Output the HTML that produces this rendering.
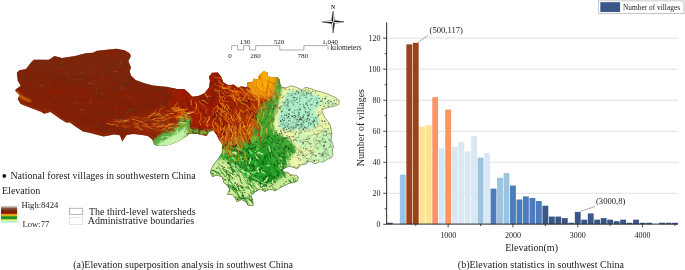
<!DOCTYPE html>
<html><head><meta charset="utf-8"><title>Elevation analysis in southwest China</title>
<style>
html,body{margin:0;padding:0;background:#fff;}
body{width:685px;height:270px;overflow:hidden;font-family:"Liberation Serif",serif;}
svg{display:block;}
text{font-family:"Liberation Serif",serif;fill:#222;}
</style></head><body>
<svg width="685" height="270" viewBox="0 0 685 270">
<defs>
<clipPath id="mapclip"><polygon points="16.8,72.8 19.4,70.2 26.0,69.0 31.0,62.4 33.7,59.8 49.0,59.8 54.4,56.0 62.0,58.0 75.0,56.0 85.5,53.3 93.0,52.8 97.0,50.7 116.6,48.7 124.4,50.2 129.6,53.3 131.0,56.0 128.3,61.0 131.0,67.6 129.6,71.5 131.0,75.6 135.6,80.0 144.4,83.3 153.3,85.6 166.7,86.7 176.7,88.9 184.4,88.9 188.9,93.3 192.2,96.7 197.8,96.2 204.4,93.3 208.9,87.8 210.0,81.1 208.9,76.7 212.2,72.7 217.8,72.4 221.1,76.7 223.3,82.2 228.9,85.6 233.3,84.4 237.8,87.5 241.1,86.5 246.7,87.2 247.4,82.8 252.6,82.0 254.0,78.6 255.6,79.8 257.8,79.0 259.0,75.4 263.7,71.2 267.4,72.4 268.1,76.1 271.9,77.6 277.0,77.1 279.3,79.1 280.0,83.5 281.5,87.2 285.9,88.0 291.1,85.7 296.3,87.2 299.3,88.7 302.2,90.5 305.2,87.2 311.1,88.7 317.0,90.9 323.0,92.4 328.9,94.6 335.6,97.5 339.3,100.7 338.7,104.4 334.3,106.3 330.5,107.0 325.5,108.2 321.7,110.1 323.0,113.9 324.9,117.7 328.0,121.4 330.5,125.9 332.0,133.3 331.0,140.0 333.0,144.4 333.4,147.0 332.3,150.0 333.0,154.7 331.0,158.0 327.0,159.3 323.7,162.0 319.0,162.0 315.0,164.0 311.7,162.0 308.3,161.3 306.3,164.0 301.7,164.7 299.0,167.3 297.0,168.7 292.3,167.0 288.3,166.7 285.0,168.0 282.3,170.0 283.7,172.0 287.7,172.0 290.3,174.7 296.3,175.3 298.3,177.3 297.7,180.7 293.7,182.7 289.0,183.3 285.0,185.3 280.0,187.8 275.6,190.7 269.6,189.3 265.2,191.5 259.3,189.3 254.8,192.2 251.1,195.2 252.6,199.6 253.3,205.3 248.1,205.6 245.9,201.9 241.5,199.6 237.0,201.9 235.6,198.9 232.6,194.4 227.4,194.4 229.6,189.3 226.7,184.8 223.7,182.6 222.2,176.7 216.3,175.2 212.6,176.7 210.4,173.0 211.1,169.4 213.3,165.0 217.8,159.4 222.2,152.8 222.2,143.9 218.9,139.4 216.7,135.0 213.3,130.6 208.9,131.7 206.7,136.1 197.8,133.9 188.9,133.9 186.7,136.1 177.8,141.7 168.9,145.0 160.0,146.1 154.4,145.0 152.2,139.4 147.8,136.1 142.2,135.0 133.3,133.9 126.7,135.0 124.4,138.3 122.2,141.7 121.1,138.3 119.7,135.3 114.0,134.6 103.6,136.6 96.0,134.6 89.4,132.8 83.0,131.5 75.0,126.3 70.0,122.4 66.0,122.4 59.6,118.5 50.5,112.0 44.0,113.8 41.5,112.0 31.0,108.0 20.7,104.0 17.6,99.0 19.4,95.2 15.5,91.3 15.5,89.6 20.7,85.7 17.6,80.5"/></clipPath>
<filter id="b3" x="-20%" y="-20%" width="140%" height="140%"><feGaussianBlur stdDeviation="3"/></filter>
<filter id="b2" x="-20%" y="-20%" width="140%" height="140%"><feGaussianBlur stdDeviation="1.8"/></filter>
<filter id="b1" x="-20%" y="-20%" width="140%" height="140%"><feGaussianBlur stdDeviation="0.9"/></filter>
<linearGradient id="elev" x1="0" y1="0" x2="0" y2="1">
<stop offset="0" stop-color="#f0ecec"/><stop offset="0.08" stop-color="#c4b8b4"/><stop offset="0.16" stop-color="#8a5a48"/><stop offset="0.25" stop-color="#7a3a22"/><stop offset="0.33" stop-color="#742408"/><stop offset="0.42" stop-color="#8c1a08"/><stop offset="0.47" stop-color="#b03008"/><stop offset="0.52" stop-color="#f09010"/><stop offset="0.56" stop-color="#f0c020"/><stop offset="0.60" stop-color="#9cc628"/><stop offset="0.66" stop-color="#1e8c1e"/><stop offset="0.76" stop-color="#22901e"/><stop offset="0.81" stop-color="#a8d850"/><stop offset="0.88" stop-color="#e0f0a0"/><stop offset="0.93" stop-color="#b8f0d0"/><stop offset="1" stop-color="#a8f0d8"/>
</linearGradient>
</defs>
<rect width="685" height="270" fill="#fff"/>
<!-- MAP -->
<g clip-path="url(#mapclip)">
<rect x="10" y="40" width="340" height="175" fill="#7e2409"/>
<polygon points="5.0,80.0 60.0,84.0 120.0,96.0 175.0,100.0 200.0,110.0 190.0,150.0 120.0,150.0 60.0,130.0 5.0,110.0" fill="#861f06" filter="url(#b3)" opacity="0.35"/>
<polygon points="25.0,45.0 140.0,40.0 140.0,80.0 180.0,92.0 120.0,90.0 60.0,78.0 10.0,75.0" fill="#782810" filter="url(#b3)" opacity="0.5"/>
<polygon points="128.0,119.0 150.0,113.0 170.0,107.0 200.0,103.0 216.0,112.0 214.0,131.0 190.0,138.0 160.0,140.0 140.0,134.0 128.0,128.0" fill="#b03608" filter="url(#b3)" opacity="0.4"/>
<polygon points="170.0,80.0 212.0,62.0 250.0,70.0 268.0,95.0 262.0,135.0 240.0,150.0 218.0,145.0 205.0,140.0 186.0,140.0 172.0,115.0" fill="#a01a02" filter="url(#b3)" opacity="0.9"/>
<polygon points="232.0,100.0 254.0,92.0 268.0,100.0 258.0,130.0 244.0,140.0 232.0,128.0" fill="#c25408" filter="url(#b3)" opacity="0.25"/>
<polygon points="246.0,90.0 245.0,78.0 250.0,76.0 256.0,68.0 264.0,62.0 272.0,68.0 282.0,72.0 283.0,86.0 278.0,92.0 272.0,97.0 263.0,99.0 254.0,96.0 249.0,93.0" fill="#ea9208" filter="url(#b2)"/>
<polygon points="253.0,80.0 262.0,66.0 270.0,70.0 275.0,80.0 270.0,90.0 260.0,93.0" fill="#f5a804" filter="url(#b1)"/>
<polygon points="219.0,137.0 245.0,131.0 260.0,122.0 265.0,130.0 256.0,141.0 240.0,147.0 221.0,147.0" fill="#c4600a" filter="url(#b3)" opacity="0.6"/>
<polygon points="220.0,142.0 256.0,132.0 262.0,138.0 248.0,150.0 224.0,151.0" fill="#a8a82c" filter="url(#b3)" opacity="0.55"/>
<polygon points="272.0,60.0 360.0,60.0 360.0,215.0 200.0,215.0 200.0,162.0 222.0,151.0 250.0,144.0 262.0,128.0 272.0,100.0 281.0,78.0" fill="#cde8a0" filter="url(#b2)"/>
<polygon points="205.0,150.0 225.0,146.0 240.0,144.0 258.0,135.0 266.0,122.0 272.0,128.0 284.0,136.0 293.0,146.0 293.0,152.0 286.0,164.0 283.0,170.0 283.0,172.0 305.0,175.0 300.0,190.0 254.0,215.0 228.0,210.0 215.0,190.0 200.0,176.0" fill="#38a830" filter="url(#b2)"/>
<polygon points="245.0,150.0 266.0,138.0 284.0,140.0 292.0,156.0 282.0,170.0 262.0,182.0 245.0,172.0" fill="#22a028" filter="url(#b3)" opacity="0.85"/>
<polygon points="200.0,166.0 222.0,158.0 234.0,166.0 248.0,180.0 262.0,186.0 275.0,182.0 288.0,172.0 305.0,172.0 305.0,186.0 254.0,215.0 228.0,210.0 215.0,190.0 200.0,180.0" fill="#d2ec9c" filter="url(#b2)" opacity="0.95"/>
<polyline points="281.5,74.0 281.0,90.0 278.0,100.0 273.0,112.0 269.0,124.0 266.0,136.0" fill="none" stroke="#46a22e" stroke-width="9" stroke-linecap="round" stroke-linejoin="round" filter="url(#b2)"/>
<polygon points="263.0,103.0 272.0,99.0 281.0,99.0 279.0,130.0 264.0,142.0 250.0,143.0 252.0,129.0 256.0,114.0" fill="#4ea432" filter="url(#b2)" opacity="0.95"/>
<polygon points="272.0,126.0 284.0,80.0 300.0,78.0 330.0,85.0 350.0,98.0 345.0,112.0 332.0,112.0 340.0,126.0 342.0,145.0 340.0,165.0 305.0,172.0 296.0,174.0 288.0,160.0 280.0,140.0" fill="#edf6aa" filter="url(#b2)"/>
<polygon points="287.0,92.0 295.0,90.5 309.0,92.0 321.0,97.0 321.0,104.0 314.0,112.0 321.0,121.0 314.0,129.0 300.0,130.0 288.0,130.0 279.0,129.0 278.0,117.0 283.0,102.0" fill="#aceec9" filter="url(#b2)"/>
<polygon points="318.0,132.0 340.0,130.0 342.0,162.0 322.0,166.0 314.0,150.0" fill="#bcf4ba" filter="url(#b3)" opacity="0.85"/>
<polygon points="296.0,132.0 312.0,134.0 316.0,146.0 304.0,150.0 294.0,142.0" fill="#c0f4ba" filter="url(#b2)" opacity="0.7"/>
<polygon points="322.0,96.0 338.0,100.0 334.0,108.0 322.0,108.0" fill="#c4f2c4" filter="url(#b2)" opacity="0.6"/>
<polygon points="300.0,154.0 318.0,152.0 322.0,164.0 304.0,168.0" fill="#c4f2b8" filter="url(#b2)" opacity="0.6"/>
<polygon points="270.0,131.0 278.0,134.0 287.0,139.0 294.0,144.5 295.5,150.0 292.0,155.0 288.0,160.0 284.0,167.0 280.0,173.0 266.0,150.0" fill="#3aa832" filter="url(#b1)" opacity="0.95"/>
<polygon points="150.0,146.0 156.0,150.0 170.0,149.0 180.0,145.0 187.0,138.0 194.0,135.0 214.0,134.0 214.0,130.0 200.0,130.0 190.0,128.0 191.0,120.0 186.0,112.0 181.0,117.8 176.7,124.4 167.8,130.0 158.9,135.6 153.0,140.0" fill="#5cb040" filter="url(#b1)"/>
<polygon points="156.0,147.0 170.0,147.0 181.0,142.0 188.0,133.0 186.0,126.0 183.0,129.0 174.0,135.0 162.0,140.0" fill="#c4f2a8" filter="url(#b1)"/>
<polyline points="13.0,91.0 19.0,95.5 24.0,98.5 30.0,101.0" fill="none" stroke="#e07a10" stroke-width="2.2" stroke-linecap="round" stroke-linejoin="round" filter="url(#b1)"/>
<polyline points="14.0,92.0 19.0,95.0" fill="none" stroke="#f8c020" stroke-width="1.4" stroke-linecap="round" stroke-linejoin="round" filter="url(#b1)"/>
<polyline points="18.9,100.9 24.8,104.2 32.2,107.8 39.6,110.0 51.5,111.5 57.4,116.0 63.3,119.6 70.7,121.3 75.2,124.8 81.1,127.8 90.0,131.5 101.9,134.2 114.0,134.0 120.0,134.5" fill="none" stroke="#a8400a" stroke-width="1.8" stroke-linecap="round" stroke-linejoin="round" filter="url(#b1)" opacity="0.4"/>
<path d="M228.3 126.9 L228.7 128.5 L228.9 130.0 L229.1 131.6 L230.7 132.0 L231.8 133.2 L233.2 133.8 L234.8 133.6 M210.4 113.7 L211.5 114.9 L212.4 116.2 L213.7 117.2 L214.3 118.6 L214.7 120.2 L214.8 121.8 M242.9 100.0 L244.2 100.8 L245.1 102.2 L246.7 102.4 L248.1 101.5 L249.6 101.2 L251.2 101.6 L252.3 102.8 M249.0 136.3 L249.4 137.9 L249.8 139.4 L249.5 141.0 L250.4 142.3 L251.2 143.7 M184.0 111.2 L184.9 112.6 L186.3 113.4 L186.3 115.0 L187.1 116.4" fill="none" stroke="#6a1608" stroke-width="1.3" stroke-linecap="round" stroke-linejoin="round" opacity="0.75"/>
<path d="M248.9 100.2 L248.7 101.8 L249.2 103.3 L249.5 104.8 L249.5 106.4 M221.8 95.1 L222.6 96.5 L223.3 98.0 L223.3 99.6 L222.7 101.0 L222.1 102.5 M217.5 134.0 L217.4 135.6 L218.9 136.2 L220.5 136.3 L222.1 136.1 M225.9 126.8 L225.5 128.4 L225.2 130.0 L224.4 131.4 L224.1 132.9 L223.6 134.4 M250.7 107.6 L250.6 109.2 L250.8 110.8 L250.3 112.3 L250.9 113.8 L252.1 114.8 L252.9 116.2 L253.2 117.8 M210.4 83.1 L212.0 83.2 L213.6 83.3 L214.8 84.4 L216.1 85.3 L217.4 86.2 L219.0 86.5" fill="none" stroke="#6a1608" stroke-width="1.1" stroke-linecap="round" stroke-linejoin="round" opacity="0.75"/>
<path d="M221.3 122.2 L220.8 123.7 L221.0 125.3 L219.8 126.3 L219.3 127.8 M212.8 85.5 L214.2 86.4 L215.3 87.5 L215.7 89.0 L216.8 90.1 M211.4 92.0 L211.6 93.6 L211.7 95.2 L211.8 96.8 L212.4 98.3 L213.1 99.7 M182.5 105.2 L184.0 105.9 L185.3 106.7 L186.1 108.1 L187.2 109.3 L188.8 109.3 L190.4 109.4 L191.6 110.4" fill="none" stroke="#74200c" stroke-width="1.0" stroke-linecap="round" stroke-linejoin="round" opacity="0.75"/>
<path d="M198.2 96.6 L199.7 97.1 L201.1 97.8 L202.6 98.4 L204.1 98.9 L205.2 100.0 L206.4 101.1 L207.8 101.9 M228.7 108.9 L229.0 110.5 L229.1 112.1 L229.1 113.7 L230.5 114.4 L232.1 114.6 M236.7 144.4 L236.7 146.0 L236.9 147.6 L236.8 149.2 L237.2 150.8 L238.4 151.7 L240.0 151.7 L241.5 152.2 L242.9 153.0 M180.5 101.1 L181.3 102.4 L181.3 104.0 L182.2 105.4 L183.1 106.6 L184.2 107.8 L183.9 109.4 L183.7 111.0" fill="none" stroke="#74200c" stroke-width="1.6" stroke-linecap="round" stroke-linejoin="round" opacity="0.75"/>
<path d="M242.2 99.1 L243.1 100.4 L243.2 102.0 L241.9 103.0 L240.9 104.2 L239.4 104.9 L237.8 104.7 M241.4 103.7 L242.9 104.0 L244.2 103.1 L245.8 103.1 L247.4 102.9 L248.8 103.8 L249.8 105.0 M246.3 113.8 L247.5 114.9 L248.4 116.3 L249.5 117.4 L251.1 117.7 L252.3 118.7 L253.8 119.4 L255.3 119.8 L256.7 120.6 M239.8 114.5 L241.1 115.4 L241.2 117.0 L241.7 118.5 L242.4 120.0 L243.6 121.1 M192.3 131.5 L193.3 132.7 L194.9 133.1 L196.5 133.2" fill="none" stroke="#74200c" stroke-width="1.4" stroke-linecap="round" stroke-linejoin="round" opacity="0.75"/>
<path d="M214.9 115.6 L216.1 116.7 L216.7 118.2 L218.3 118.1 L219.3 119.3 L220.0 120.8 L219.7 122.3 L219.9 123.9 M199.2 130.0 L199.7 131.5 L198.7 132.8 L198.6 134.4 L199.1 135.9 L199.9 137.3 L200.8 138.6 L201.7 139.9" fill="none" stroke="#74200c" stroke-width="1.7" stroke-linecap="round" stroke-linejoin="round" opacity="0.75"/>
<path d="M226.5 140.3 L226.5 141.9 L227.2 143.4 L227.8 144.9 M203.0 94.7 L204.2 95.7 L204.5 97.3 L204.9 98.8 L205.4 100.3 M257.3 112.9 L256.4 114.3 L255.6 115.7 L255.7 117.3 L256.3 118.7 L256.8 120.3" fill="none" stroke="#6a1608" stroke-width="1.0" stroke-linecap="round" stroke-linejoin="round" opacity="0.75"/>
<path d="M211.3 82.4 L212.8 83.1 L214.0 82.0 L215.4 81.2 L216.9 80.7 L218.4 80.1 L219.9 79.9 L221.2 80.8 L222.2 82.0 M221.9 90.6 L223.5 90.2 L225.0 90.6 L226.6 90.4 L228.0 89.6 L229.3 88.7 L230.8 89.4 M233.2 127.0 L234.0 128.3 L234.2 129.9 L234.7 131.4" fill="none" stroke="#801a04" stroke-width="1.8" stroke-linecap="round" stroke-linejoin="round" opacity="0.75"/>
<path d="M231.8 128.2 L231.9 129.8 L232.6 131.2 L234.1 131.8 L235.3 132.8 L236.4 134.0 M200.0 99.7 L200.9 101.0 L201.7 102.4 L203.3 102.9 M213.4 88.9 L214.4 90.2 L215.6 91.2 L217.0 92.0 L218.6 92.0 L220.1 92.6 L221.3 93.7 M234.2 121.6 L235.2 122.8 L236.7 123.4 L238.3 123.8 L239.8 124.0 L241.3 124.7 L242.3 126.0" fill="none" stroke="#74200c" stroke-width="1.5" stroke-linecap="round" stroke-linejoin="round" opacity="0.75"/>
<path d="M213.8 99.0 L212.7 100.1 L212.0 101.5 L211.0 102.9 L210.3 104.3 L210.5 105.9 M216.2 112.6 L217.3 113.8 L217.9 115.3 L219.3 115.9 L220.9 116.2 L222.0 117.3 M186.9 98.4 L187.0 100.0 L187.7 101.5 L188.4 102.9 L188.3 104.5 L188.9 106.0 L189.1 107.6 L188.5 109.0 M246.6 134.9 L247.5 136.2 L247.9 137.7 L247.8 139.3 L248.5 140.8 L248.6 142.4 L248.5 144.0 M222.0 104.8 L222.4 106.4 L223.0 107.8 L223.5 109.3 L224.1 110.8 L225.1 112.1 L225.7 113.6 L226.4 115.0" fill="none" stroke="#6a1608" stroke-width="1.6" stroke-linecap="round" stroke-linejoin="round" opacity="0.75"/>
<path d="M241.6 115.0 L242.0 116.5 L242.3 118.1 L243.6 119.0 L244.7 120.2 L245.8 121.3 L246.3 122.8" fill="none" stroke="#801a04" stroke-width="1.1" stroke-linecap="round" stroke-linejoin="round" opacity="0.75"/>
<path d="M236.4 145.0 L235.3 146.2 L233.8 146.5 L232.3 145.9 L231.0 144.9 L229.7 145.8 L228.7 147.0 L228.5 148.6 L228.0 150.2 M242.9 127.9 L243.4 129.4 L243.3 131.0 L243.1 132.6 L243.1 134.2 L243.5 135.7 M228.3 138.4 L229.4 139.6 L230.8 140.2 L232.0 141.3 L232.6 142.8" fill="none" stroke="#801a04" stroke-width="1.5" stroke-linecap="round" stroke-linejoin="round" opacity="0.75"/>
<path d="M225.6 89.6 L226.5 90.9 L227.6 92.1 L228.0 93.6 L227.5 95.1 L226.6 96.4 L226.4 98.0 L226.4 99.6 L226.9 101.1 M186.6 92.9 L188.2 93.0 L189.3 94.1 L190.4 95.3 L191.8 96.1 L193.4 95.7 L194.9 95.9 L196.4 96.5" fill="none" stroke="#801a04" stroke-width="1.4" stroke-linecap="round" stroke-linejoin="round" opacity="0.75"/>
<path d="M185.1 113.9 L184.6 115.4 L183.9 116.8 L184.1 118.4 L184.8 119.8 L185.3 121.4 L186.2 122.7 M235.2 98.2 L235.8 99.7 L235.2 101.2 L235.3 102.8 L234.8 104.3 L234.5 105.8 M201.2 98.0 L201.3 99.6 L202.0 101.0 L203.4 101.8 L204.8 102.5 L206.0 103.6 L206.8 105.0 L208.2 105.8 M208.0 97.4 L209.6 97.0 L211.1 97.3 L212.6 97.9 L214.1 98.6 L214.6 100.1 L215.9 99.2 L217.5 99.0" fill="none" stroke="#74200c" stroke-width="1.3" stroke-linecap="round" stroke-linejoin="round" opacity="0.75"/>
<path d="M228.2 104.8 L228.9 106.3 L230.4 106.6 L231.2 108.0 L231.9 109.4 M245.2 104.0 L245.4 105.6 L245.5 107.2 L245.2 108.7 L245.4 110.3 L245.3 111.9 L245.2 113.5 L245.7 115.1 M212.9 79.6 L214.3 80.4 L215.7 81.1 L216.3 82.6 L217.6 83.5 M223.4 113.9 L223.9 115.5 L224.8 116.8 L225.0 118.4" fill="none" stroke="#74200c" stroke-width="1.2" stroke-linecap="round" stroke-linejoin="round" opacity="0.75"/>
<path d="M215.8 74.7 L217.4 75.0 L219.0 75.4 L219.9 76.6 L220.1 78.2 L220.7 79.7 M191.5 100.8 L192.1 102.3 L193.4 103.3 L194.0 104.8 L194.9 106.1 L196.3 106.8 M219.6 77.4 L221.2 77.6 L222.7 78.3 L223.0 79.8 L224.4 80.7 M246.3 115.9 L245.7 117.4 L245.9 119.0 L245.6 120.6 L244.9 122.0 L244.9 123.6 L246.0 124.8" fill="none" stroke="#801a04" stroke-width="1.7" stroke-linecap="round" stroke-linejoin="round" opacity="0.75"/>
<path d="M239.7 94.5 L240.7 95.7 L242.3 96.1 L243.9 96.2 M229.8 112.4 L229.5 114.0 L230.0 115.5 L230.9 116.9 L231.9 118.1 L232.6 119.5 M223.3 116.7 L222.7 118.2 L223.2 119.7 L224.5 120.6 L225.6 121.8" fill="none" stroke="#74200c" stroke-width="1.1" stroke-linecap="round" stroke-linejoin="round" opacity="0.75"/>
<path d="M224.3 126.9 L224.5 128.5 L224.0 130.1 L224.2 131.7 L223.5 133.1 L224.7 134.1 L225.5 135.5 L226.4 136.8 M187.7 107.8 L187.7 109.4 L187.3 110.9 L186.5 112.3 L187.3 113.7 L187.9 115.2 L187.9 116.8 L189.4 117.1" fill="none" stroke="#801a04" stroke-width="1.2" stroke-linecap="round" stroke-linejoin="round" opacity="0.75"/>
<path d="M223.8 122.2 L223.2 123.7 L223.3 125.3 L223.4 126.9 L223.3 128.5 M191.0 120.3 L190.2 121.7 L190.3 123.3 L190.8 124.8 L191.0 126.4 L191.7 127.9 L192.9 128.8 L194.1 129.9 M200.4 108.9 L201.1 110.3 L202.5 111.1 L203.9 111.9 L204.6 113.4 L204.7 115.0 L205.7 116.2" fill="none" stroke="#6a1608" stroke-width="1.2" stroke-linecap="round" stroke-linejoin="round" opacity="0.75"/>
<path d="M239.0 110.3 L239.0 111.9 L239.2 113.4 L240.1 114.8 L241.0 116.1 M229.8 136.8 L229.5 138.3 L228.4 139.4 L227.8 140.9 L227.8 142.5 L227.6 144.1 L226.1 144.6 L224.8 145.6 L224.1 147.1" fill="none" stroke="#6a1608" stroke-width="1.5" stroke-linecap="round" stroke-linejoin="round" opacity="0.75"/>
<path d="M218.5 105.6 L220.0 104.8 L221.5 105.3 L222.4 106.6 L222.7 108.2 L223.8 109.3 M240.3 98.7 L240.5 100.3 L241.5 101.5 L242.0 103.1" fill="none" stroke="#6a1608" stroke-width="1.8" stroke-linecap="round" stroke-linejoin="round" opacity="0.75"/>
<path d="M212.1 130.8 L211.0 131.9 L209.6 132.7 L209.0 134.2 L208.6 135.8 L208.6 137.4 L209.4 138.8 L209.6 140.4" fill="none" stroke="#801a04" stroke-width="1.6" stroke-linecap="round" stroke-linejoin="round" opacity="0.75"/>
<path d="M239.2 95.4 L239.5 97.0 L239.9 98.5 L240.3 100.1 M216.0 79.5 L217.0 80.7 L217.5 82.3 L217.4 83.9 L216.7 85.3 M212.0 91.7 L213.5 92.3 L214.2 93.8 L214.5 95.4 L214.2 96.9 L213.2 98.2 L213.0 99.8 L212.8 101.4" fill="none" stroke="#801a04" stroke-width="1.3" stroke-linecap="round" stroke-linejoin="round" opacity="0.75"/>
<path d="M214.1 89.8 L214.3 91.3 L214.5 92.9 L215.8 93.8 L217.3 94.4 L218.9 93.9 L220.1 92.8 L221.5 92.1 L222.6 90.9 M199.8 126.2 L199.5 127.8 L200.3 129.2 L201.9 129.4 L203.4 129.7 L205.0 129.9 L206.4 130.7 L207.5 131.9 M216.9 114.3 L218.3 114.9 L219.2 116.2 L220.3 117.4 L221.9 117.5 L223.1 118.5 M240.6 85.5 L242.2 86.0 L243.8 86.3 L244.6 87.6 L246.1 88.0 L247.7 87.6 L248.9 88.7 L249.9 89.9 M211.2 109.3 L211.9 110.7 L212.9 112.0 L214.0 113.2 L214.9 114.5 L216.2 115.5 L216.9 116.9" fill="none" stroke="#6a1608" stroke-width="1.4" stroke-linecap="round" stroke-linejoin="round" opacity="0.75"/>
<path d="M250.9 125.3 L251.5 126.8 L252.1 128.3 L253.1 129.6 L253.9 131.0 L254.5 132.5 L254.9 134.0 L256.1 135.1 M217.3 122.9 L217.8 124.4 L218.4 125.9 L218.0 127.4 L219.3 128.4 L220.6 129.3 L222.1 129.6 M243.6 130.1 L243.9 131.6 L244.2 133.2 L245.2 134.5 L245.6 136.0 L245.7 137.6 L245.3 139.2 L244.3 140.4 L242.7 140.7 M230.8 111.9 L230.7 113.5 L230.1 115.0 L230.8 116.5 L232.1 117.4 L232.0 119.0 L232.4 120.6 L232.7 122.1 L233.3 123.6 M227.2 124.5 L228.3 125.7 L228.2 127.3 L228.2 128.9 L229.0 130.3 L229.7 131.7 L229.6 133.3 L228.5 134.5 L227.9 136.0 M187.1 128.2 L187.9 129.5 L189.1 130.6 L189.1 132.2 L189.1 133.8 L188.9 135.4 L189.7 136.7 L189.8 138.3 M241.1 94.2 L242.2 95.3 L243.8 95.7 L245.2 96.4 L245.9 97.9 L246.9 99.0" fill="none" stroke="#e06008" stroke-width="0.7" stroke-linecap="round" stroke-linejoin="round"/>
<path d="M219.4 108.0 L219.8 109.5 L221.2 110.3 L222.3 111.5 M233.9 88.1 L235.0 89.3 L236.0 90.5 L237.6 90.5 L239.0 91.3 L240.5 91.7 L241.9 90.9 M245.8 115.7 L246.3 117.2 L247.4 118.4 L248.7 119.3 L248.3 120.9 L248.3 122.5 M231.8 115.2 L231.9 116.8 L230.6 117.8 L229.3 118.6 L227.9 119.4 L227.2 120.8 L228.1 122.2 L229.7 122.3 M188.1 127.1 L188.8 128.6 L188.8 130.2 L189.8 131.4 L189.7 133.0 M222.3 88.6 L223.9 88.4 L225.4 87.8 L226.8 87.0 L228.4 86.9 L229.9 86.6 L231.5 86.9 M234.0 98.4 L234.6 99.9 L235.8 101.0 L236.2 102.5 L236.8 104.0 L237.6 105.4 M220.5 113.0 L220.4 114.6 L221.7 115.5 L222.9 116.6 L223.7 117.9 L224.7 119.2 L225.5 120.6 L226.6 121.7 M248.9 132.7 L248.8 134.3 L250.1 135.2 L250.6 136.7 L249.9 138.2 L248.5 138.9 L247.9 140.4 L248.3 141.9" fill="none" stroke="#e87008" stroke-width="0.8" stroke-linecap="round" stroke-linejoin="round"/>
<path d="M229.5 125.6 L229.9 127.1 L230.0 128.7 L229.1 130.0 L228.0 131.2 L228.6 132.7 M214.4 84.0 L215.9 84.4 L217.0 85.6 L218.6 85.9 L220.0 86.7 L221.5 87.2 L223.1 87.2 L224.6 87.7 M184.3 110.5 L184.6 112.1 L184.3 113.7 L184.9 115.2 L186.1 116.2 L187.4 117.1 L188.2 118.5 L189.4 119.6 L190.8 120.3 L192.3 120.9 M238.1 123.1 L239.3 124.2 L239.9 125.7 L239.9 127.3 L239.3 128.8 L239.5 130.3 L239.2 131.9 L238.7 133.4 M238.6 113.4 L239.8 114.5 L240.7 115.8 L242.0 116.7 M221.9 97.6 L222.3 99.1 L222.9 100.6 L223.1 102.2 L223.7 103.7 L224.1 105.2 M215.7 111.3 L217.3 111.5 L218.6 112.4 L219.4 113.8 L220.7 114.7 L222.3 115.2 L223.8 115.6 L225.1 116.5 L224.9 118.1 M253.7 106.7 L255.2 107.1 L256.7 107.7 L257.8 108.9 L259.3 109.3" fill="none" stroke="#ee8410" stroke-width="0.5" stroke-linecap="round" stroke-linejoin="round"/>
<path d="M214.8 77.3 L216.4 77.6 L217.9 77.8 L219.5 78.1 L221.1 77.9 L222.7 77.9 L224.2 78.5 L225.8 78.9 L227.1 79.8 M215.5 89.2 L216.0 90.7 L217.6 90.6 L219.1 91.1 L219.7 92.6 L219.7 94.2 L219.5 95.8 L219.8 97.4 M242.6 88.1 L243.6 89.4 L243.6 91.0 L244.5 92.3 L244.8 93.9 L246.2 94.7 L247.7 95.0 L249.2 95.6 L250.5 96.6" fill="none" stroke="#f09a10" stroke-width="0.5" stroke-linecap="round" stroke-linejoin="round"/>
<path d="M221.6 104.4 L222.3 105.8 L222.9 107.3 L222.6 108.9 L221.9 110.3 L222.1 111.9 L223.4 112.9 M234.0 91.4 L235.6 91.5 L237.2 91.6 L238.7 91.1 L240.0 92.1 L241.3 93.0 L242.9 93.1 L244.4 93.7 M217.3 105.4 L218.1 106.8 L218.1 108.4 L217.4 109.8 L217.5 111.4 M200.5 113.6 L201.3 115.0 L201.0 116.5 L201.1 118.1 L201.0 119.7 L199.7 120.7 L199.6 122.3 L200.5 123.7 L200.7 125.3 M218.4 81.8 L219.9 82.3 L220.7 83.7 L222.3 84.0 L223.8 84.5" fill="none" stroke="#e87008" stroke-width="0.9" stroke-linecap="round" stroke-linejoin="round"/>
<path d="M229.4 90.9 L231.0 90.9 L232.5 91.5 L233.9 92.2 L235.4 92.8 L237.0 92.8 L238.6 92.7 L239.4 94.1 M243.7 100.0 L245.3 99.9 L246.1 101.3 L247.6 101.6 M220.6 118.6 L220.3 120.2 L220.5 121.8 L221.0 123.3 L221.0 124.9 L220.6 126.5 L220.6 128.1 L221.0 129.6 M214.3 118.7 L213.4 120.0 L213.9 121.6 L214.1 123.1 L215.4 124.1 L216.6 125.2 L217.9 126.1 M178.8 106.8 L179.2 108.3 L179.6 109.9 L180.9 110.8 L181.7 112.1 L182.7 113.4 M199.5 101.4 L200.1 102.9 L201.4 103.9 L202.8 104.6 L204.0 105.7 L205.2 106.7" fill="none" stroke="#e06008" stroke-width="0.9" stroke-linecap="round" stroke-linejoin="round"/>
<path d="M224.8 90.6 L226.0 91.6 L227.5 92.3 L228.8 93.2 M231.0 128.0 L230.9 129.6 L231.2 131.2 L230.7 132.7 M242.7 141.7 L243.3 143.2 L242.9 144.7 L243.3 146.3 L244.4 147.4 M254.7 115.6 L254.6 117.2 L254.0 118.7 L253.0 119.9 L252.5 121.5 L252.0 123.0 L251.5 124.5 L250.3 125.5 L249.2 126.6" fill="none" stroke="#e06008" stroke-width="0.8" stroke-linecap="round" stroke-linejoin="round"/>
<path d="M220.0 96.3 L220.4 97.8 L220.9 99.3 L222.0 100.5 L223.5 101.0 L225.1 100.9 L226.7 101.4 L228.2 101.9 M229.2 124.4 L230.0 125.8 L231.5 126.4 L233.0 127.1 L233.1 128.7 L233.6 130.2 L234.4 131.6 L235.6 132.6 L235.9 134.1 M241.2 89.5 L242.1 90.8 L243.6 91.3 L244.7 92.5 L245.2 94.0 L245.5 95.6 L245.0 97.1 L243.8 98.2 M220.2 127.4 L220.8 128.9 L220.5 130.4 L219.4 131.7 L219.0 133.2 L218.3 134.7 L217.5 136.0 M217.4 105.5 L216.8 106.9 L215.3 107.6 L214.1 108.6 L213.2 109.9 L212.7 111.5 L213.6 112.8 L212.5 114.0 L211.6 115.3 M237.6 114.7 L237.7 116.3 L238.3 117.8 L239.5 118.9 L239.4 120.5 L239.7 122.1 L240.7 123.3 M251.2 121.1 L251.6 122.6 L252.5 124.0 L251.3 125.0 L249.8 125.4 L248.2 125.6 M248.1 122.4 L247.4 123.8 L247.3 125.4 L246.7 126.9 L245.3 126.1 L243.8 126.2 L242.4 127.1 L241.6 128.5 L240.8 129.8 M247.3 113.9 L247.1 115.5 L247.2 117.1 L246.3 118.5 L246.1 120.1 L246.2 121.7 M246.8 92.9 L246.4 94.5 L245.1 95.4 L244.2 96.7 L243.6 98.2 L242.7 99.5 M224.6 113.8 L225.6 115.1 L226.2 116.5 L226.1 118.1 L226.3 119.7 L227.5 120.8" fill="none" stroke="#ee8410" stroke-width="0.7" stroke-linecap="round" stroke-linejoin="round"/>
<path d="M208.3 119.7 L207.6 121.1 L207.1 122.6 L208.0 124.0 L209.2 125.0 L210.7 125.5 M240.5 118.1 L242.0 118.5 L243.5 119.1 L244.8 120.0 L244.2 121.5 L245.4 122.6 L246.3 123.9 M213.5 126.3 L213.5 127.9 L214.9 128.6 L215.9 129.8 L216.6 131.3 M214.8 121.4 L215.1 123.0 L216.4 123.9 L217.6 125.0 L218.9 126.0 L219.6 127.4 L221.0 128.1 M217.7 80.1 L219.3 80.4 L220.3 81.6 L221.3 82.9 L222.5 84.0 L222.8 85.5 L222.2 87.0 M195.9 106.2 L197.0 107.3 L197.9 108.6 L198.4 110.1 L198.7 111.7 M233.7 118.8 L234.6 120.1 L234.9 121.7 L235.6 123.1 L235.2 124.6 L234.7 126.2 L234.7 127.8 L234.8 129.4 L235.2 130.9 M234.6 91.6 L235.2 93.1 L236.6 93.8 L237.2 95.3 L238.7 95.9 L239.4 97.3 L240.3 98.6 M249.0 119.0 L249.2 120.6 L248.7 122.1 L247.4 123.1 L247.0 124.6 L247.3 126.2" fill="none" stroke="#e87008" stroke-width="0.6" stroke-linecap="round" stroke-linejoin="round"/>
<path d="M220.9 137.7 L220.6 139.3 L220.3 140.8 L219.5 142.2 L218.0 142.7 L217.6 144.2 M182.0 111.7 L182.9 113.0 L183.9 114.3 L185.3 115.1 L186.8 115.5 L187.0 117.1 L187.2 118.7 L188.1 120.0 M225.5 105.9 L224.9 107.4 L226.3 108.2 L227.3 109.4 L227.9 110.9 L228.6 112.3 M226.3 113.6 L226.8 115.1 L225.9 116.4 L225.8 118.0" fill="none" stroke="#ee8410" stroke-width="0.9" stroke-linecap="round" stroke-linejoin="round"/>
<path d="M242.6 102.8 L243.9 103.8 L245.3 104.5 L246.5 105.5 L247.8 106.5 L248.5 107.9 L249.7 109.0 L251.3 109.1 M233.4 95.3 L233.6 96.9 L234.4 98.3 L234.8 99.8 L234.9 101.4 M231.3 129.8 L231.9 131.3 L232.4 132.8 L232.9 134.4 L232.5 135.9 L231.9 137.4 L231.4 138.9 M228.2 86.6 L229.6 87.5 L229.9 89.1 L230.6 90.5 L232.2 90.6 L233.8 91.0" fill="none" stroke="#f09a10" stroke-width="0.8" stroke-linecap="round" stroke-linejoin="round"/>
<path d="M236.7 99.4 L238.2 98.8 L239.7 98.2 L241.0 97.2 L241.9 98.5 M246.4 135.0 L246.4 136.6 L245.6 138.0 L245.9 139.6 L246.9 140.8 L248.4 141.3 M214.6 88.4 L215.3 89.8 L216.6 90.6 L218.2 91.0 L219.7 90.5 L221.3 90.6 M239.0 86.6 L240.3 87.6 L241.3 88.8 L242.1 90.2 L243.5 90.9 M246.9 131.7 L246.7 133.2 L246.4 134.8 L246.8 136.4 L247.2 137.9 M214.5 128.0 L215.1 129.5 L216.2 130.7 L217.7 131.3 L219.0 132.2 L220.2 133.2 L221.4 134.4 L222.0 135.8 L223.4 136.7 M252.2 122.4 L253.5 123.2 L254.6 124.3 L255.1 125.9 L255.5 127.4 L257.0 127.9 L258.2 129.0 M235.8 93.4 L237.3 94.1 L238.6 94.9 L239.5 96.3 M238.9 114.8 L239.2 116.4 L239.2 118.0 L238.7 119.5 L238.5 121.1 L238.0 122.6" fill="none" stroke="#e06008" stroke-width="0.6" stroke-linecap="round" stroke-linejoin="round"/>
<path d="M250.8 128.6 L250.3 130.1 L249.7 131.6 L249.7 133.2 L250.0 134.7 L249.5 136.3 L249.9 137.8 L250.9 139.1 M221.9 86.7 L223.1 87.7 L224.6 88.3 L226.2 88.6 L227.8 88.6 L229.2 89.4 M242.0 120.9 L242.9 122.1 L243.4 123.7 L243.5 125.3 L244.1 126.8 L244.2 128.3 L245.2 129.6 L246.7 130.2 L247.9 131.2 L248.9 132.5 M195.6 102.7 L196.6 103.9 L196.3 105.5 L196.3 107.1 L196.0 108.6 L195.8 110.2" fill="none" stroke="#f09a10" stroke-width="0.9" stroke-linecap="round" stroke-linejoin="round"/>
<path d="M223.9 105.4 L224.5 106.9 L224.6 108.5 L224.3 110.0 L223.8 111.6 L224.2 113.1 L225.3 114.3 M231.4 90.0 L232.8 90.6 L234.2 91.5 L235.7 91.9 L237.3 91.9 L238.4 93.1 L238.6 94.7 M234.0 111.4 L235.0 112.6 L234.4 114.1 L233.5 115.4 L234.0 116.9 L234.9 118.3 L236.1 119.3" fill="none" stroke="#ee8410" stroke-width="0.6" stroke-linecap="round" stroke-linejoin="round"/>
<path d="M250.4 99.4 L251.3 100.7 L250.7 102.1 L252.2 102.7 L252.9 104.1 L252.8 105.7 L253.0 107.3 L254.2 108.4 L255.3 109.5 M236.6 91.2 L237.6 92.5 L238.7 93.6 L238.7 95.2 L240.0 96.1 L241.0 97.3 L241.7 98.8" fill="none" stroke="#e06008" stroke-width="0.5" stroke-linecap="round" stroke-linejoin="round"/>
<path d="M178.8 107.2 L178.3 108.7 L178.3 110.3 L178.8 111.8 L178.7 113.4 L177.6 114.7 L176.9 116.1 L176.6 117.7 L176.9 119.2 M219.7 127.9 L219.0 129.4 L217.8 130.4 L218.3 131.9 L219.2 133.2 M219.8 85.4 L220.5 86.9 L221.8 87.9 L222.9 89.0 L224.3 89.7 L224.4 91.3 L225.3 92.7 L226.9 92.5 L228.4 93.0 M217.9 127.9 L217.1 129.2 L216.1 130.5 L214.5 130.7 L212.9 130.7 M246.2 109.3 L247.7 109.8 L248.1 111.3 L248.9 112.7 L249.4 114.2 M241.8 109.6 L241.1 111.0 L239.9 112.0 L239.0 113.3 L238.1 114.7 L237.8 116.3 L239.0 117.3 L240.2 118.3 M220.2 77.8 L221.5 78.7 L222.6 79.8 L224.2 79.5 L225.5 78.6 L227.1 79.0" fill="none" stroke="#e87008" stroke-width="0.5" stroke-linecap="round" stroke-linejoin="round"/>
<path d="M251.5 118.9 L253.0 119.5 L254.5 120.0 L255.4 121.3 L257.0 121.8 L257.7 123.2 L258.6 124.5 L258.7 126.1 L258.7 127.7 M219.4 99.6 L219.4 101.2 L220.1 102.6 L220.8 104.1 L222.4 103.9 L222.9 105.4 M239.4 110.0 L241.0 110.3 L241.8 111.7 L243.4 112.1 L244.7 111.2 L246.1 110.4 L247.5 109.7 M250.2 124.4 L250.9 125.8 L250.7 127.4 L251.3 128.9 M204.2 129.4 L204.3 131.0 L203.4 132.4 L201.9 132.0 L200.8 133.3 L201.2 134.8 M235.8 109.6 L236.3 111.1 L236.7 112.6 L236.8 114.2 L237.9 115.4 L238.2 117.0 L237.4 118.3 L236.6 119.7 M221.8 96.8 L223.4 96.6 L224.3 97.9 L225.7 98.7 M221.1 103.2 L222.7 103.6 L223.3 105.0 L223.8 106.6 L225.0 107.7" fill="none" stroke="#ee8410" stroke-width="0.8" stroke-linecap="round" stroke-linejoin="round"/>
<path d="M225.8 95.8 L227.3 96.2 L228.8 95.6 L230.4 95.9 L232.0 95.8 L233.6 96.2 M236.2 126.6 L236.7 128.1 L236.3 129.6 L234.9 130.4 M212.3 121.7 L212.5 123.3 L212.3 124.9 L213.6 125.8 M252.4 103.6 L253.3 104.9 L254.5 106.0 L254.9 107.6 L255.4 109.1 L256.7 110.1 L257.3 111.6 L258.3 112.8 L258.8 114.3 M228.7 137.0 L229.8 138.2 L230.9 139.3 L231.7 140.7 L231.8 142.3 L231.4 143.8 L231.3 145.4 M226.1 104.2 L227.4 105.3 L228.7 106.1 L228.9 107.7 L230.0 108.8 L231.2 109.9 M250.6 97.6 L251.5 98.9 L252.8 99.8 L254.4 100.2 L255.9 100.1 L257.3 99.3 L258.7 98.5 L259.8 97.3 M213.4 132.4 L213.2 134.0 L211.8 134.7 L210.9 136.0 L211.2 137.6 L212.2 138.8 L213.4 139.8 L214.2 141.3" fill="none" stroke="#f09a10" stroke-width="0.6" stroke-linecap="round" stroke-linejoin="round"/>
<path d="M215.1 112.3 L216.2 113.5 L216.5 115.1 L218.0 115.7 L219.4 116.5 L220.8 117.2 L221.2 118.8 L222.4 119.8 M210.8 131.8 L211.4 133.2 L211.6 134.8 L211.8 136.4 L212.1 138.0 L212.7 139.4 L213.0 141.0 L212.6 142.5 L213.3 144.0 M215.8 122.6 L215.7 124.2 L216.4 125.6 L217.3 126.9 L217.7 128.5 L218.3 130.0 L218.3 131.6 M247.9 115.6 L248.4 117.1 L249.8 118.0 L250.9 119.1 L252.4 119.6 L253.7 120.6 L254.1 122.1 L253.7 123.6 L254.0 125.2 L253.2 126.6 M234.8 97.1 L236.1 98.0 L237.4 98.9 L238.6 100.0 L240.0 100.8 M255.4 121.6 L255.3 123.2 L254.3 124.5 L252.9 125.3 L252.3 126.8 L252.1 128.3 L252.5 129.9" fill="none" stroke="#e87008" stroke-width="0.7" stroke-linecap="round" stroke-linejoin="round"/>
<path d="M209.4 116.3 L209.7 117.8 L209.2 119.3 L208.6 120.8 L207.6 122.1 L206.7 123.4 L207.2 124.9 L207.3 126.5 M238.0 98.8 L237.9 100.4 L239.4 100.8 L241.0 100.8 L242.3 99.9 L243.9 99.8 M239.2 97.3 L239.6 98.9 L240.2 100.4 L241.0 101.7 L241.2 103.3 L242.7 103.9" fill="none" stroke="#f09a10" stroke-width="0.7" stroke-linecap="round" stroke-linejoin="round"/>
<path d="M222.8 135.8 L222.2 137.2 L221.3 138.6 M208.2 116.8 L208.9 118.2 L208.8 119.8 L207.6 120.8 L207.1 122.3 M230.8 114.9 L231.4 116.4 L231.5 118.0 L231.9 119.5 L233.3 120.4 M239.4 111.8 L239.7 113.3 L239.8 114.9 L239.8 116.5 L240.8 117.8 L241.0 119.4 M231.6 93.3 L232.5 94.7 L233.7 95.8 L234.3 97.2 L235.6 98.1 L237.1 98.8 M220.9 109.8 L221.3 111.3 L221.5 112.9 L220.9 114.4 L220.8 116.0 M251.9 112.5 L252.0 114.1 L252.0 115.7 L251.1 116.9 L249.5 117.5 M225.0 125.8 L224.5 127.3 L223.9 128.8" fill="none" stroke="#f6c838" stroke-width="0.5" stroke-linecap="round" stroke-linejoin="round"/>
<path d="M223.6 136.0 L222.8 137.4 L221.8 138.6 L220.3 139.3 L220.1 140.9 M236.5 86.3 L237.6 87.5 L239.2 87.6 L240.7 88.2 L241.8 89.4 M191.0 100.1 L191.5 101.6 L191.2 103.2 L191.4 104.8 M223.7 111.5 L225.3 111.7 L226.6 112.5 L227.5 113.9 L229.1 114.1 M202.1 100.3 L203.6 100.6 L205.1 101.1 L206.1 102.3 L207.2 103.5 M236.6 132.0 L235.3 132.9 L234.0 133.8 L232.7 134.8 L232.6 136.4" fill="none" stroke="#f6c838" stroke-width="0.6" stroke-linecap="round" stroke-linejoin="round"/>
<path d="M251.0 105.8 L251.7 107.3 L252.6 108.6 L253.7 109.8 L254.6 111.1 L255.4 112.5 M234.7 89.5 L235.0 91.1 L235.6 92.6 L236.6 93.9 L237.8 94.9 M258.2 106.9 L259.1 108.3 L260.1 109.5 L261.1 110.8 L261.7 112.2 L262.4 113.7 M229.9 141.9 L230.7 143.3 L231.9 144.4 L232.9 145.7 L233.7 147.1 L233.8 148.7 M213.5 90.0 L214.5 91.2 L216.1 91.4 L217.2 92.6 L218.5 93.5 L219.8 94.5 M223.0 127.6 L221.9 128.8 L221.2 130.2 L220.1 131.4 L218.9 132.4 L217.6 133.4 M206.4 108.7 L206.8 110.2 L205.9 111.6 L205.7 113.2 M181.6 109.4 L180.8 110.8 L181.0 112.4 L181.7 113.8 L180.8 115.0 L179.7 116.2" fill="none" stroke="#f0b020" stroke-width="0.4" stroke-linecap="round" stroke-linejoin="round"/>
<path d="M234.8 125.9 L235.4 127.4 L235.4 129.0 L234.2 130.1 L233.3 131.4 L233.3 133.0 M233.5 118.1 L232.9 119.6 L234.0 120.7 L235.2 121.8 M238.0 136.8 L236.9 138.0 L236.5 139.5 L235.2 138.6 L233.6 138.6 M226.5 104.7 L227.8 105.7 L228.3 107.3 L228.4 108.9 L227.1 109.8 L225.7 110.5 M248.7 127.3 L247.6 128.5 L247.6 130.1 L247.9 131.7 L247.8 133.3 L248.5 134.7 M216.2 114.6 L216.4 116.2 L216.1 117.8 L215.4 119.2 L214.0 120.0" fill="none" stroke="#f6c838" stroke-width="0.4" stroke-linecap="round" stroke-linejoin="round"/>
<path d="M205.5 124.6 L206.8 125.6 L208.2 126.4 M205.4 94.2 L206.0 95.7 L207.3 96.7 L208.7 96.1 L210.3 96.5 M203.9 117.4 L205.4 118.1 L206.1 119.5 L205.3 120.9 L204.3 122.1 L202.7 121.9 M248.5 98.0 L249.8 98.9 L251.3 99.5 L252.8 100.1 M228.2 116.3 L228.6 117.8 L229.2 119.3 L230.2 120.6 L230.8 122.0 L231.4 123.5 M250.7 114.2 L250.0 115.6 L250.0 117.2 L250.0 118.8 M247.1 93.0 L248.0 94.3 L248.0 95.9 L248.4 97.5 L248.9 99.0 M216.8 107.3 L218.1 108.2 L219.6 108.7 L221.2 108.6 L222.4 109.7 L223.7 110.6 M212.4 124.4 L212.8 126.0 L213.2 127.5 L213.0 129.1 L213.3 130.6 L212.9 132.2 M233.0 91.2 L232.4 92.7 L233.4 94.0 L234.7 94.9 L236.3 94.9 L236.8 96.4 M221.4 91.5 L222.8 92.3 L223.5 93.7 L224.3 95.1 M228.4 125.0 L228.8 126.6 L228.3 128.1 L227.3 129.3" fill="none" stroke="#f0b020" stroke-width="0.5" stroke-linecap="round" stroke-linejoin="round"/>
<path d="M238.7 116.6 L239.3 118.1 L240.2 119.4 L240.6 120.9 M230.5 94.3 L231.1 95.8 L232.0 97.1 L232.6 98.6 L233.6 99.8 L235.1 100.4 M228.2 123.0 L228.8 124.5 L229.0 126.1 L229.4 127.6 L229.3 129.2 L229.3 130.8 M205.1 93.2 L205.8 94.6 L206.2 96.2 L207.5 97.1 M219.0 117.8 L219.3 119.4 L220.3 120.6 L221.3 121.9 L222.4 123.1 L222.5 124.7" fill="none" stroke="#f0b020" stroke-width="0.6" stroke-linecap="round" stroke-linejoin="round"/>
<path d="M244.6 125.8 L244.2 127.3 L242.6 127.5 L242.2 129.1 L242.3 130.7 L243.1 132.1 L243.8 133.5 L243.9 135.1 M250.4 123.4 L249.9 124.9 L249.5 126.5 L248.8 127.9 L248.3 129.4 M240.9 124.2 L240.6 125.8 L240.6 127.4 L240.3 129.0 L240.0 130.5 L240.3 132.1 L240.8 133.6 L241.8 134.8 M224.8 129.6 L225.6 131.0 L226.1 132.5 L226.7 134.0 L226.9 135.6 L225.5 136.4 M251.6 125.7 L252.1 127.2 L252.5 128.7 L253.4 130.0 L253.7 131.6" fill="none" stroke="#e8b020" stroke-width="0.8" stroke-linecap="round" stroke-linejoin="round"/>
<path d="M221.4 143.9 L220.4 145.2 L219.2 146.3 L217.9 147.2 L216.5 147.9 M240.7 123.6 L239.7 124.9 L239.8 126.5 L239.4 128.0 L238.6 129.4 L239.0 131.0 L239.2 132.6 M225.3 135.8 L225.7 137.4 L225.6 139.0 L226.5 140.4 L226.4 142.0 L227.0 143.5 L227.5 145.0 M222.4 140.9 L222.0 142.4 L221.2 143.8 L220.9 145.4 L221.5 146.9 L221.6 148.5" fill="none" stroke="#e89018" stroke-width="0.6" stroke-linecap="round" stroke-linejoin="round"/>
<path d="M220.4 142.8 L220.9 144.3 L220.6 145.9 L220.1 147.4 L219.5 148.9 L219.3 150.5 M236.4 141.9 L237.0 143.4 L237.7 144.8 L238.3 146.3 L239.2 147.6" fill="none" stroke="#d4d040" stroke-width="0.8" stroke-linecap="round" stroke-linejoin="round"/>
<path d="M224.3 145.9 L224.3 147.5 L224.1 149.1 L223.9 150.6 L223.3 152.1 L223.6 153.7 L223.8 155.3 L223.6 156.9 M228.6 141.7 L228.6 143.3 L228.3 144.9 L228.0 146.5 L227.9 148.1 L228.0 149.7 L227.9 151.3 L228.5 152.7" fill="none" stroke="#d4d040" stroke-width="0.7" stroke-linecap="round" stroke-linejoin="round"/>
<path d="M222.1 144.3 L221.8 145.9 L222.0 147.4 L222.8 148.8 L222.9 150.4 L223.5 151.9 L223.4 153.5 L223.6 155.1 M236.1 132.8 L235.7 134.3 L235.2 135.9 L234.9 137.4 L236.1 138.5 L236.6 140.1 M221.1 140.0 L221.9 141.4 L222.2 143.0 L222.1 144.6 L222.2 146.2 L223.1 147.5 M233.0 124.5 L232.6 126.0 L231.8 127.4 L231.0 128.8 L231.2 130.4 L231.7 132.0" fill="none" stroke="#d4d040" stroke-width="0.6" stroke-linecap="round" stroke-linejoin="round"/>
<path d="M224.9 138.5 L226.0 139.7 L227.5 139.9 L229.0 140.5 L230.2 141.5 L230.4 143.1 L230.4 144.7 L230.0 146.2 M244.7 140.5 L245.1 142.0 L244.9 143.6 L245.1 145.2 L246.0 146.5 L247.0 147.7 L248.3 148.7 M240.7 134.4 L241.5 135.8 L242.3 137.2 L242.3 138.8 L242.6 140.4 L242.8 142.0 M244.3 136.9 L243.5 138.3 L243.2 139.9 L243.7 141.4 L243.3 143.0" fill="none" stroke="#e89018" stroke-width="0.7" stroke-linecap="round" stroke-linejoin="round"/>
<path d="M252.8 138.8 L253.3 140.3 L253.1 141.9 L253.5 143.5 L254.5 144.7 L255.3 146.1 L256.1 147.5" fill="none" stroke="#a8c838" stroke-width="0.7" stroke-linecap="round" stroke-linejoin="round"/>
<path d="M234.2 126.8 L233.9 128.4 L234.5 129.9 L235.1 131.4 L235.7 132.9 M254.4 137.0 L255.4 138.2 L255.4 139.8 L256.0 141.3 L255.7 142.9 L255.9 144.5 L255.8 146.1" fill="none" stroke="#d4d040" stroke-width="0.5" stroke-linecap="round" stroke-linejoin="round"/>
<path d="M222.6 127.8 L223.7 129.0 L224.9 130.0 L225.7 131.4 L226.0 133.0 M222.7 146.4 L222.6 148.0 L222.0 149.4 L221.9 151.0 L222.6 152.5 L223.9 153.5 L225.2 154.4" fill="none" stroke="#e8b020" stroke-width="0.6" stroke-linecap="round" stroke-linejoin="round"/>
<path d="M257.6 131.1 L257.7 132.7 L256.9 134.1 L256.0 135.4 L254.6 136.2 L253.3 137.1 L252.1 138.2 L251.3 139.6" fill="none" stroke="#a8c838" stroke-width="0.6" stroke-linecap="round" stroke-linejoin="round"/>
<path d="M242.0 143.3 L241.5 144.9 L241.7 146.5 L241.3 148.0 L241.2 149.6 L241.3 151.2 M234.0 131.5 L234.0 133.1 L234.5 134.6 L234.6 136.2 L234.4 137.8 L234.0 139.4 L232.8 140.4 L231.7 141.5 M228.0 127.3 L227.0 128.5 L226.9 130.1 L227.1 131.7 L227.5 133.3 L227.3 134.9 L226.9 136.4 L226.6 138.0 M224.4 127.1 L223.9 128.6 L223.8 130.2 L223.4 131.8 L222.6 133.2 L222.2 134.7" fill="none" stroke="#e89018" stroke-width="0.8" stroke-linecap="round" stroke-linejoin="round"/>
<path d="M257.9 134.0 L258.1 135.6 L257.1 136.8 L255.6 137.5 L254.6 138.7 L253.2 139.6 L252.4 140.9 L251.9 142.4 M229.3 137.3 L229.0 138.8 L229.3 140.4 L230.2 141.7 L230.4 143.3 L230.4 144.9" fill="none" stroke="#e8b020" stroke-width="0.5" stroke-linecap="round" stroke-linejoin="round"/>
<path d="M244.8 133.0 L243.8 134.2 L242.4 135.0 L241.3 136.2 L240.9 137.8" fill="none" stroke="#a8c838" stroke-width="0.5" stroke-linecap="round" stroke-linejoin="round"/>
<path d="M219.8 132.3 L220.3 133.8 L220.1 135.4 L219.6 136.9 L219.5 138.5 L218.8 139.9 L218.1 141.4 M259.2 121.6 L258.6 123.0 L258.4 124.6 L259.6 125.7 L259.9 127.2 L260.3 128.8 M228.2 147.4 L227.3 148.8 L227.4 150.4 L227.9 151.9 L228.3 153.5 L229.4 154.6 L230.0 156.1" fill="none" stroke="#b83808" stroke-width="1.2" stroke-linecap="round" stroke-linejoin="round"/>
<path d="M229.1 137.6 L228.7 139.2 L229.0 140.8 L229.2 142.4 L229.6 143.9 L229.4 145.5 M232.7 137.3 L233.3 138.7 L233.6 140.3 L233.7 141.9 L233.3 143.5 L233.1 145.0 M241.9 134.5 L242.3 136.0 L243.2 137.4 L244.0 138.8 L245.1 139.9 L245.9 141.3 L247.1 142.3" fill="none" stroke="#c85008" stroke-width="1.0" stroke-linecap="round" stroke-linejoin="round"/>
<path d="M256.3 121.2 L255.9 122.8 L256.1 124.4 L256.2 126.0 L256.0 127.6 L256.3 129.1 L255.8 130.7 M251.7 122.1 L251.6 123.7 L251.1 125.2 L250.7 126.8 L250.0 128.2 M251.5 132.1 L251.1 133.6 L250.3 135.1 L249.2 136.2 L248.9 137.8 L248.2 139.2 M241.8 141.1 L241.9 142.7 L242.0 144.3 L241.7 145.8 L240.5 146.9 L239.7 148.3 L238.4 149.2 L237.0 150.0 M238.8 141.6 L238.6 143.2 L239.3 144.7 L240.2 145.9 L240.8 147.4" fill="none" stroke="#c85008" stroke-width="1.1" stroke-linecap="round" stroke-linejoin="round"/>
<path d="M218.0 132.9 L218.3 134.5 L219.0 135.9 L220.2 136.9 L220.6 138.4 L220.8 140.0 M233.3 146.8 L232.7 148.3 L231.6 149.4 L230.1 149.9 L229.0 151.1 L227.9 152.2 L226.6 153.2" fill="none" stroke="#b83808" stroke-width="0.9" stroke-linecap="round" stroke-linejoin="round"/>
<path d="M257.6 128.0 L258.4 129.4 L259.2 130.8 L259.0 132.4 L258.4 133.8 L258.8 135.4 L260.1 136.4 L260.7 137.9" fill="none" stroke="#b83808" stroke-width="1.3" stroke-linecap="round" stroke-linejoin="round"/>
<path d="M226.5 147.2 L226.8 148.7 L227.9 149.9 L229.1 150.9 L229.3 152.5 L229.8 154.0 L230.0 155.6 M260.7 137.5 L259.9 138.8 L260.2 140.4 L261.0 141.8 L261.6 143.2 L261.9 144.8 L262.5 146.3 L263.3 147.7 M255.4 119.6 L255.6 121.2 L254.5 122.4 L254.4 124.0 L254.8 125.6 L254.2 127.0" fill="none" stroke="#b83808" stroke-width="1.0" stroke-linecap="round" stroke-linejoin="round"/>
<path d="M233.7 127.6 L234.1 129.2 L234.2 130.8 L234.1 132.4 L234.0 134.0 L234.7 135.4 L234.9 137.0 M256.0 124.5 L255.4 126.0 L256.3 127.4 L256.4 128.9 L257.3 130.2 L257.9 131.7 L258.4 133.2 L259.2 134.6" fill="none" stroke="#c85008" stroke-width="1.2" stroke-linecap="round" stroke-linejoin="round"/>
<path d="M242.1 133.2 L242.3 134.8 L242.9 136.3 L244.0 137.4 L244.5 139.0 L244.9 140.5 L245.3 142.1 M241.8 126.6 L242.2 128.1 L243.5 129.1 L244.4 130.4 L245.2 131.8 L246.7 132.2" fill="none" stroke="#b83808" stroke-width="1.1" stroke-linecap="round" stroke-linejoin="round"/>
<path d="M226.7 140.4 L227.0 142.0 L227.4 143.5 L227.2 145.1 L227.9 146.6 L228.6 148.0 L229.1 149.5" fill="none" stroke="#b83808" stroke-width="0.8" stroke-linecap="round" stroke-linejoin="round"/>
<path d="M251.7 125.5 L251.4 127.1 L252.3 128.3 L253.1 129.7 L253.3 131.3 L252.1 132.4 L252.5 133.9 L252.9 135.5 M226.1 126.4 L225.8 128.0 L225.1 129.4 L225.4 131.0 L225.7 132.6 L226.6 133.9" fill="none" stroke="#c85008" stroke-width="0.9" stroke-linecap="round" stroke-linejoin="round"/>
<path d="M219.1 138.5 L219.9 139.8 L220.6 141.3 L221.4 142.7 L221.8 144.2" fill="none" stroke="#c85008" stroke-width="1.3" stroke-linecap="round" stroke-linejoin="round"/>
<path d="M258.2 104.3 L259.6 105.2 L260.7 106.3 L262.0 107.3 L262.6 108.8 L264.2 108.9 L265.4 109.9 M261.3 86.4 L262.8 87.0 L263.9 88.1 L263.7 89.7 M273.9 84.9 L274.6 86.4 L275.3 87.8 L275.2 89.4 L275.2 91.0 L274.9 92.5 M268.1 101.7 L268.0 103.3 L267.7 104.9 L268.3 106.3 L267.8 107.9 L266.4 108.7" fill="none" stroke="#e07808" stroke-width="0.7" stroke-linecap="round" stroke-linejoin="round"/>
<path d="M260.8 95.6 L262.2 96.3 L263.5 97.4 L264.8 98.2 L264.9 99.8 M278.4 81.7 L279.6 82.8 L280.7 83.9 L281.8 85.1 L282.7 86.4 L283.8 87.6 L284.9 88.8 L285.9 90.0" fill="none" stroke="#c84a08" stroke-width="0.7" stroke-linecap="round" stroke-linejoin="round"/>
<path d="M255.5 95.7 L256.2 97.1 L256.4 98.7 L257.4 99.9 M260.9 90.2 L262.3 91.0 L263.7 91.8 L264.9 92.8 L265.6 94.3 L266.8 95.3 L267.6 96.7 L267.9 98.3" fill="none" stroke="#d86008" stroke-width="0.6" stroke-linecap="round" stroke-linejoin="round"/>
<path d="M273.9 89.2 L274.6 90.7 L275.3 92.1 L275.8 93.6 M250.8 90.5 L251.9 91.6 L253.4 92.3 L254.2 93.7 L253.5 95.1 L254.2 96.6 M258.0 102.9 L258.6 104.4 L259.5 105.7 L260.2 107.1 L260.9 108.6 L261.5 110.0 L262.8 111.0 M257.1 87.3 L258.3 88.3 L259.1 89.6 L259.9 91.0 L261.3 91.9 L262.6 92.8" fill="none" stroke="#e07808" stroke-width="0.9" stroke-linecap="round" stroke-linejoin="round"/>
<path d="M269.5 78.8 L269.3 80.4 L268.7 81.8 L268.8 83.4 L268.3 85.0 L268.8 86.5 L269.2 88.0 L269.4 89.6 M258.0 94.2 L258.4 95.7 L258.2 97.3 L257.8 98.9 L258.4 100.4 L259.0 101.9 L260.0 103.1 L260.5 104.7" fill="none" stroke="#e07808" stroke-width="0.8" stroke-linecap="round" stroke-linejoin="round"/>
<path d="M268.8 99.0 L269.8 100.3 L271.1 101.3 L272.6 101.9 L274.1 102.4 M274.7 93.8 L275.4 95.2 L276.8 95.9 L277.8 97.2 L277.8 98.8 L277.5 100.4 M267.5 85.0 L267.5 86.6 L267.5 88.2 L266.7 89.6 L267.0 91.2 L267.0 92.8" fill="none" stroke="#c84a08" stroke-width="0.9" stroke-linecap="round" stroke-linejoin="round"/>
<path d="M267.3 81.1 L268.5 82.1 L270.1 82.4 L271.7 82.5 L273.1 83.4 L274.4 84.3 L275.7 85.2 M259.8 75.1 L259.8 76.7 L259.9 78.3 L259.8 79.9" fill="none" stroke="#d86008" stroke-width="0.9" stroke-linecap="round" stroke-linejoin="round"/>
<path d="M261.3 98.6 L262.0 100.1 L263.3 100.9 L264.9 101.0 L266.2 102.0 L267.5 102.9 L269.0 103.5 M253.0 94.2 L254.4 95.0 L255.8 95.7 L257.1 96.7 L258.3 97.7 L258.8 99.3 L259.6 100.6 M261.2 107.0 L262.7 107.6 L264.3 107.9 L265.3 109.2 L266.5 110.2 L267.6 111.3 L268.9 112.3 M261.0 77.6 L261.6 79.1 L261.8 80.7 L262.2 82.3 L262.6 83.8 L262.8 85.4" fill="none" stroke="#d86008" stroke-width="0.7" stroke-linecap="round" stroke-linejoin="round"/>
<path d="M254.3 94.9 L254.3 96.5 L254.2 98.1 L254.6 99.6 L256.1 100.1 L257.5 101.0" fill="none" stroke="#c84a08" stroke-width="0.8" stroke-linecap="round" stroke-linejoin="round"/>
<path d="M256.0 80.6 L256.5 82.1 L256.3 83.7 L256.7 85.2 L257.4 86.7 L257.8 88.2 M270.8 92.1 L270.4 93.6 L269.7 95.0 L269.3 96.6 L269.6 98.2 L269.1 99.7" fill="none" stroke="#e07808" stroke-width="0.6" stroke-linecap="round" stroke-linejoin="round"/>
<path d="M278.4 91.9 L279.3 93.3 L279.7 94.8 L279.2 96.3 L278.8 97.8" fill="none" stroke="#e07808" stroke-width="1.0" stroke-linecap="round" stroke-linejoin="round"/>
<path d="M270.3 90.3 L271.1 91.7 L272.0 93.1 L273.4 93.9 L275.0 93.8" fill="none" stroke="#d86008" stroke-width="0.8" stroke-linecap="round" stroke-linejoin="round"/>
<path d="M253.5 95.6 L254.5 96.8 L255.5 98.0 L256.9 98.9 L257.9 100.1 L258.5 101.6" fill="none" stroke="#fcc020" stroke-width="0.7" stroke-linecap="round" stroke-linejoin="round"/>
<path d="M258.2 96.6 L258.7 98.2 L259.3 99.6 L259.2 101.2 L259.0 102.8 L258.8 104.4 L258.5 106.0 M264.6 97.7 L265.9 98.5 L267.4 99.1 L268.9 99.6 L270.2 100.6 M261.6 80.9 L262.5 82.3 L263.8 83.2 L265.1 84.2 L266.4 85.1 M251.9 90.8 L253.2 91.7 L253.6 93.2 L255.1 93.9 L256.6 94.3" fill="none" stroke="#fcc020" stroke-width="0.8" stroke-linecap="round" stroke-linejoin="round"/>
<path d="M268.3 98.5 L268.2 100.1 L267.9 101.7 L268.1 103.3 L268.9 104.7 M276.9 93.7 L278.1 94.7 L279.3 95.8 L280.3 97.1 L281.1 98.5 L282.1 99.7 M257.4 82.4 L257.8 84.0 L258.1 85.6 L259.0 86.9 L259.9 88.1 L260.8 89.5 L261.3 91.1 M261.4 107.7 L261.9 109.2 L261.7 110.8 L261.0 112.2 L260.3 113.7 L259.0 114.6 L257.8 115.7" fill="none" stroke="#fcc020" stroke-width="0.6" stroke-linecap="round" stroke-linejoin="round"/>
<path d="M264.3 107.0 L265.3 108.3 L265.8 109.8 L266.3 111.3" fill="none" stroke="#fcc020" stroke-width="0.5" stroke-linecap="round" stroke-linejoin="round"/>
<path d="M271.3 147.3 L271.0 148.8 L270.7 150.4 L271.5 151.7 L272.3 153.2 L272.6 154.7 L272.9 156.3 M246.1 168.5 L245.8 170.1 L246.6 171.5 L248.1 172.1 L249.4 172.9 M267.7 134.7 L268.8 135.8 L269.7 137.1 L271.1 138.0 L272.3 139.1 L272.6 140.6 L273.2 142.1 M237.3 167.3 L238.6 168.3 L239.7 169.4 L241.2 169.9 M258.0 153.9 L258.4 155.5 L259.3 156.8 L260.4 158.0 L260.6 159.6 L261.0 161.2 L262.4 161.9 M269.8 167.3 L269.1 168.7 L268.7 170.3 L268.6 171.9 L269.5 173.2 L270.7 174.3 L272.1 175.0 M290.7 147.7 L291.1 149.3 L291.9 150.7 L293.2 151.6 L293.2 153.2 M270.4 173.1 L269.3 174.2 L269.4 175.8 L269.1 177.4 L270.2 178.5 L270.8 180.0 M285.6 145.1 L286.3 146.6 L286.0 148.2 L285.0 149.4 L283.6 150.1 M229.9 149.6 L231.3 150.4 L232.9 150.3 L234.5 150.1" fill="none" stroke="#157a1e" stroke-width="1.0" stroke-linecap="round" stroke-linejoin="round" opacity="0.9"/>
<path d="M228.7 159.3 L230.0 160.3 L231.5 161.0 L233.0 161.2 L234.5 161.8 L236.1 161.9 L237.7 162.1 M264.1 174.7 L265.3 175.7 L265.2 177.3 L266.5 178.3 L268.1 178.6 L269.6 179.0 M246.7 148.8 L248.2 149.2 L249.7 148.7 L251.3 148.2 L252.7 147.5 L254.1 148.3 M242.6 153.0 L244.0 153.6 L245.0 154.9 L246.6 154.9 L248.2 154.9 M225.2 146.9 L225.9 148.3 L226.1 149.9 L224.8 150.9 L224.4 152.4 L225.1 153.8 L225.7 155.3 M270.9 162.2 L270.7 163.8 L272.3 163.8 L273.9 164.1 L275.4 164.5 L275.8 166.0 L276.3 167.6 M271.2 149.4 L271.0 150.9 L272.1 152.2 L273.5 152.9 L274.4 154.2 L274.4 155.8 L274.7 157.4 M266.8 164.7 L266.4 166.3 L266.8 167.8 L266.1 169.3 L266.4 170.8 M258.7 145.5 L259.7 146.7 L260.7 147.9 L261.6 149.3 L262.0 150.8" fill="none" stroke="#1c8424" stroke-width="0.8" stroke-linecap="round" stroke-linejoin="round" opacity="0.9"/>
<path d="M240.3 153.9 L241.7 154.7 L243.0 155.6 L243.4 157.2 L243.8 158.7 L243.2 160.2 L242.2 161.5 M242.2 165.3 L242.4 166.9 L243.0 168.4 L243.1 170.0 M270.1 142.5 L271.6 143.1 L272.8 144.0 L274.4 144.2 L275.4 145.5 L276.7 146.3 M229.5 160.3 L230.3 161.7 L230.1 163.3 L230.3 164.9 L230.6 166.5 L231.4 167.8 M264.9 181.2 L266.2 182.1 L265.9 183.7 L266.1 185.3 L266.8 186.8 M244.7 161.0 L245.5 162.4 L244.8 163.8 L244.9 165.4 L244.7 167.0" fill="none" stroke="#1c8424" stroke-width="1.1" stroke-linecap="round" stroke-linejoin="round" opacity="0.9"/>
<path d="M260.7 169.9 L262.2 170.5 L263.8 170.7 L265.3 171.3 L266.5 172.3 L267.7 173.4 M268.1 152.7 L267.6 154.2 L267.6 155.8 L267.6 157.4 L268.1 158.9 L268.6 160.4 M263.3 160.4 L262.8 162.0 L262.3 163.5 L261.0 164.4 L259.6 165.2 L258.4 166.3 M250.4 148.8 L251.4 150.1 L250.3 151.2 L249.5 152.5 M234.0 148.7 L234.5 150.2 L233.9 151.6 L234.9 152.9 L236.3 153.6 L237.0 155.1 L238.4 155.8" fill="none" stroke="#0f6a18" stroke-width="0.7" stroke-linecap="round" stroke-linejoin="round" opacity="0.9"/>
<path d="M265.3 177.7 L265.6 179.3 L265.3 180.8 L265.9 182.3 L265.2 183.7 L264.5 185.2 L264.7 186.8 M271.5 175.7 L272.2 177.2 L272.7 178.7 L273.6 180.0 L274.6 181.3 L274.0 182.8 M222.1 146.9 L222.5 148.4 L224.0 148.9 L225.6 148.4 L226.4 149.8 L227.8 150.6 L229.1 151.5 M283.6 137.1 L284.6 138.3 L285.7 139.5 L286.7 140.7 L288.2 141.3 L289.6 142.1 M246.6 162.0 L247.5 163.3 L248.5 164.6 L250.0 165.0 L251.4 165.9 L252.9 166.3 M277.3 171.0 L278.7 171.9 L278.3 173.5 L277.4 174.8 L276.5 176.1 M263.0 144.3 L264.2 145.4 L265.4 146.4 L266.9 147.1 L267.2 148.7 L267.7 150.2" fill="none" stroke="#157a1e" stroke-width="0.8" stroke-linecap="round" stroke-linejoin="round" opacity="0.9"/>
<path d="M253.5 143.7 L254.9 144.5 L256.2 145.4 L257.7 145.8 L258.5 147.2 L259.4 148.6 M231.1 156.7 L232.6 156.4 L234.1 155.8 L235.4 156.8 L236.9 156.4 L238.5 156.7 M267.3 136.5 L267.3 138.1 L266.7 139.6 L267.9 140.5 L269.5 140.7 L270.7 141.7 L272.1 142.6 L272.4 144.1 M275.6 141.4 L276.0 143.0 L277.6 143.4 L279.1 143.5 L280.1 144.8 L279.9 146.4 L280.0 148.0 M249.2 165.9 L249.5 167.5 L251.0 168.2 L252.5 167.7 M252.7 157.3 L254.2 157.7 L255.5 156.8 L257.1 156.9 L258.6 157.5 L259.9 158.4 M268.9 168.2 L268.8 169.8 L268.6 171.4 L269.5 172.7 L270.4 174.0 L270.8 175.5 L271.4 177.0 M253.3 153.4 L254.5 154.5 L255.7 155.5 L256.9 156.6 L258.2 157.5 L259.0 158.9 M247.9 175.6 L248.9 176.9 L249.4 178.4 L249.3 180.0 L250.1 181.4 L251.2 180.2 M262.5 160.0 L261.9 161.5 L261.8 163.1 L262.9 164.3 L264.5 164.3 L265.9 165.1 L266.6 166.5 L267.1 168.0 M271.9 142.1 L273.3 142.9 L274.5 144.0 L274.7 145.5 L274.7 147.1 L274.6 148.7 L275.9 149.7 M269.1 170.9 L269.5 172.4 L270.7 173.5 L272.0 174.5 L273.0 175.7 L274.1 176.9 L274.8 178.3 M288.9 145.9 L288.4 147.5 L288.4 149.1 L289.2 150.5 L290.6 151.2 L292.1 150.7" fill="none" stroke="#1c8424" stroke-width="0.9" stroke-linecap="round" stroke-linejoin="round" opacity="0.9"/>
<path d="M268.5 177.9 L268.7 179.4 L268.3 181.0 L267.0 181.9 L267.1 183.5 L266.6 185.1 M268.2 149.2 L268.5 150.8 L269.5 152.0 L270.6 153.2 L270.1 154.7 L270.2 156.3 L270.6 157.8 M235.1 162.5 L235.0 164.1 L236.3 165.0 L237.8 165.6 L238.9 166.7 L240.3 167.5 L241.3 168.8 M250.3 160.2 L249.8 161.7 L250.3 163.2 L251.4 164.5 L252.4 165.7 L251.2 166.7 M248.7 177.1 L249.7 178.3 L251.3 178.8 L252.8 179.0 L254.3 179.6 M248.4 147.5 L250.0 148.0 L251.6 148.1 L252.9 148.9 M254.4 165.4 L253.9 166.9 L253.7 168.5 L252.8 169.8 L252.0 171.1 M270.3 175.3 L271.7 176.1 L272.1 177.6 L271.9 179.2 L271.0 180.5 L270.0 181.7" fill="none" stroke="#0f6a18" stroke-width="1.1" stroke-linecap="round" stroke-linejoin="round" opacity="0.9"/>
<path d="M287.5 146.9 L288.8 147.7 L290.2 148.5 L291.2 149.8 L292.2 151.0 L292.5 152.6 M283.7 151.3 L283.6 152.9 L282.1 153.3 L280.5 153.6 L279.3 154.6 L277.9 155.5 M266.4 153.6 L266.5 155.2 L266.6 156.8 L265.5 157.8 L265.4 159.4 L266.3 160.8 L266.5 162.4 M275.0 136.5 L276.0 137.8 L275.3 139.3 L274.8 140.8 L273.3 141.3" fill="none" stroke="#157a1e" stroke-width="0.9" stroke-linecap="round" stroke-linejoin="round" opacity="0.9"/>
<path d="M283.7 140.8 L282.5 141.9 L281.5 143.1 L281.2 144.7 L280.2 146.0 M247.6 156.5 L248.9 157.5 L250.4 158.0 L252.0 157.9 L253.6 158.0 L255.2 158.2 L256.6 158.8 L257.7 160.0 M274.2 134.2 L274.7 135.7 L274.4 137.3 L272.9 137.9 L272.3 139.4 M290.5 145.6 L291.7 146.6 L292.4 148.0 L293.7 148.9 L294.8 150.1 L295.0 151.7 L294.3 153.2 M260.2 170.3 L261.7 170.7 L262.9 171.8 L264.5 172.1 M266.2 176.0 L265.5 177.4 L265.1 179.0 L264.8 180.6 L264.8 182.2 L264.7 183.8 M244.2 164.4 L245.8 164.8 L247.1 165.6 L248.6 166.3 L250.1 166.8" fill="none" stroke="#1c8424" stroke-width="1.0" stroke-linecap="round" stroke-linejoin="round" opacity="0.9"/>
<path d="M273.8 167.4 L274.6 168.7 L276.0 169.6 L276.7 171.1 L277.1 172.6 L278.0 173.9 L279.4 174.7 M260.2 183.7 L260.9 185.2 L260.7 186.7 L259.9 188.1 L258.9 189.4 L258.5 191.0 L259.2 192.4 M285.9 159.8 L284.9 161.1 L284.1 162.5 L283.1 163.7 L282.3 165.1 L281.9 166.6 L283.3 167.4 L283.7 169.0 M266.7 170.6 L266.8 172.2 L267.8 173.4 L267.6 175.0 L267.0 176.5 L265.7 177.4 L264.1 177.7 L262.6 177.3 M264.4 155.1 L265.0 156.5 L265.4 158.1 L265.4 159.7 L265.1 161.3 L266.0 162.7 L266.8 164.0 M254.8 160.2 L256.4 160.3 L258.0 160.5 L258.8 161.9 L259.6 163.3 M245.1 161.3 L246.5 161.9 L247.8 162.8 L248.4 164.3 L247.4 165.6 L246.7 167.0" fill="none" stroke="#157a1e" stroke-width="1.1" stroke-linecap="round" stroke-linejoin="round" opacity="0.9"/>
<path d="M238.0 162.0 L238.4 163.6 L239.5 164.8 L240.6 165.9 L240.9 167.5 L241.0 169.1 M250.7 173.5 L249.6 174.7 L249.5 176.3 L249.5 177.9 L250.0 179.4 L250.2 180.9 L250.3 182.5 M247.3 150.4 L248.3 151.6 L248.5 153.2 L249.2 154.6 L250.4 155.6 L252.0 156.0 M281.4 151.6 L282.4 152.9 L283.4 154.1 L283.7 155.7 L283.9 157.2 M243.9 166.2 L244.4 167.7 L245.4 168.9 L246.5 170.1 L248.1 170.4 M258.0 181.4 L259.3 182.4 L260.6 183.3 L262.0 183.9 L263.4 184.8 L263.5 186.4" fill="none" stroke="#0f6a18" stroke-width="0.8" stroke-linecap="round" stroke-linejoin="round" opacity="0.9"/>
<path d="M222.9 155.5 L224.1 156.5 L225.3 157.5 L226.6 158.5 L228.0 159.3 M245.1 153.7 L246.0 155.0 L246.6 156.5 L247.8 157.5 L249.0 158.6 L248.8 160.2" fill="none" stroke="#157a1e" stroke-width="0.7" stroke-linecap="round" stroke-linejoin="round" opacity="0.9"/>
<path d="M279.8 156.1 L281.2 157.0 L282.8 157.2 L283.9 158.4 L285.0 159.5 M276.1 171.5 L277.6 172.1 L279.2 172.4 L280.4 173.3 M235.1 150.9 L235.8 152.3 L237.4 152.7 L238.7 153.5 L240.3 153.5 M268.2 175.3 L269.7 175.6 L271.2 176.4 L272.5 177.2 L274.0 177.8 L275.6 177.7 L277.1 178.3" fill="none" stroke="#0f6a18" stroke-width="0.9" stroke-linecap="round" stroke-linejoin="round" opacity="0.9"/>
<path d="M233.5 154.5 L234.3 155.8 L235.2 157.2 L235.7 158.7 L236.0 160.3 L235.6 161.8 L235.5 163.4 L236.5 164.7 M247.5 148.2 L247.0 149.7 L245.9 150.9 L247.1 152.0 L248.7 152.2 L250.2 152.7 M276.9 158.6 L277.3 160.2 L277.5 161.7 L277.6 163.3 L277.4 164.9 L277.0 166.5 M282.1 169.2 L282.6 170.7 L282.9 172.3 L283.6 173.7 L283.8 175.3 L284.4 176.8 L285.9 177.3 M253.2 164.4 L253.5 165.9 L253.8 167.5 L254.4 169.0 L254.5 170.6 L256.0 171.3 L257.5 170.9 M238.4 166.8 L239.3 168.1 L238.3 169.3 L239.4 170.5 L240.3 171.9 M265.4 156.1 L264.7 157.6 L264.3 159.1 L262.9 160.0 L262.9 161.6 L263.8 163.0 L264.4 164.5" fill="none" stroke="#0f6a18" stroke-width="1.0" stroke-linecap="round" stroke-linejoin="round" opacity="0.9"/>
<path d="M248.9 148.2 L250.2 149.1 L251.8 149.0 L253.4 148.7 L255.0 148.9 M282.0 138.0 L283.4 138.7 L285.0 138.6 L286.4 137.8 L288.0 138.3 M259.3 181.1 L260.4 182.2 L261.3 183.6 L261.5 185.1" fill="none" stroke="#0f6a18" stroke-width="1.2" stroke-linecap="round" stroke-linejoin="round" opacity="0.9"/>
<path d="M229.6 155.3 L229.7 156.9 L229.7 158.5 L229.3 160.1 L229.2 161.6 L229.1 163.2 L229.1 164.8" fill="none" stroke="#1c8424" stroke-width="0.7" stroke-linecap="round" stroke-linejoin="round" opacity="0.9"/>
<path d="M266.9 143.0 L268.2 143.9 L269.6 144.6 L270.8 145.7 L270.7 147.3 L269.3 148.0 L267.8 148.6" fill="none" stroke="#1c8424" stroke-width="1.2" stroke-linecap="round" stroke-linejoin="round" opacity="0.9"/>
<path d="M239.5 169.1 L239.9 170.6 L241.5 170.4 L243.1 170.4" fill="none" stroke="#9ad870" stroke-width="0.9" stroke-linecap="round" stroke-linejoin="round"/>
<path d="M287.0 152.5 L288.0 153.7 L288.4 155.3 M255.4 155.1 L256.4 156.3 L256.8 157.8 L258.0 158.9 M261.9 185.2 L262.4 186.7 L263.1 188.1 M250.6 158.7 L250.3 160.3 L249.7 161.7 L249.4 163.3" fill="none" stroke="#b8e888" stroke-width="1.4" stroke-linecap="round" stroke-linejoin="round"/>
<path d="M250.6 172.3 L252.2 172.6 L253.7 173.1 L254.9 172.1 L256.4 171.7 M240.6 156.7 L241.5 158.1 L241.5 159.7 L242.9 160.6" fill="none" stroke="#9ad870" stroke-width="1.3" stroke-linecap="round" stroke-linejoin="round"/>
<path d="M227.8 150.1 L229.2 150.7 L229.5 152.3 L230.2 153.7 L230.0 155.3 M226.7 160.4 L227.6 161.7 L229.1 162.2" fill="none" stroke="#b8e888" stroke-width="0.9" stroke-linecap="round" stroke-linejoin="round"/>
<path d="M248.3 165.9 L249.0 167.4 L248.5 168.9 M255.8 162.0 L255.7 163.6 L255.0 165.1" fill="none" stroke="#9ad870" stroke-width="0.8" stroke-linecap="round" stroke-linejoin="round"/>
<path d="M281.7 163.7 L281.6 165.3 L280.7 166.5 L280.8 168.1 M249.8 150.9 L250.4 152.4 L251.7 153.4 M232.2 157.8 L233.6 158.4 L234.6 159.7 L235.9 160.6" fill="none" stroke="#9ad870" stroke-width="1.5" stroke-linecap="round" stroke-linejoin="round"/>
<path d="M242.3 170.0 L242.9 171.5 L244.3 172.3 M261.1 184.5 L262.2 185.6 L261.4 187.0 L262.5 188.2 M258.2 152.3 L259.6 153.0 L261.1 153.6 L262.6 154.2 M267.4 177.9 L266.5 179.2 L266.0 180.7 L264.6 181.5 M253.3 181.7 L254.7 182.4 L256.1 183.1 L257.7 182.7" fill="none" stroke="#b8e888" stroke-width="1.5" stroke-linecap="round" stroke-linejoin="round"/>
<path d="M232.9 152.8 L234.4 152.2 L235.9 152.7 L235.5 154.3" fill="none" stroke="#d0f4a0" stroke-width="1.6" stroke-linecap="round" stroke-linejoin="round"/>
<path d="M255.3 151.0 L256.1 152.4 L257.2 153.6 L258.8 153.6" fill="none" stroke="#9ad870" stroke-width="1.0" stroke-linecap="round" stroke-linejoin="round"/>
<path d="M247.9 166.8 L249.2 167.7 L249.4 169.3 M233.0 165.0 L234.2 166.1 L233.6 167.5 L234.5 168.8" fill="none" stroke="#b8e888" stroke-width="1.3" stroke-linecap="round" stroke-linejoin="round"/>
<path d="M236.8 147.2 L237.2 148.7 L238.8 148.9 L240.1 149.8 M277.9 157.4 L279.4 157.9 L281.0 158.1 L282.2 159.2 M258.1 145.6 L259.0 147.0 L258.1 148.3 L256.9 149.4" fill="none" stroke="#9ad870" stroke-width="1.2" stroke-linecap="round" stroke-linejoin="round"/>
<path d="M269.0 146.9 L269.4 148.4 L269.6 150.0 L270.4 151.4 M279.5 165.3 L280.1 166.8 L280.7 168.3" fill="none" stroke="#9ad870" stroke-width="1.6" stroke-linecap="round" stroke-linejoin="round"/>
<path d="M286.6 159.6 L287.1 161.1 L288.1 162.3 L287.4 163.8 M247.6 173.5 L248.2 175.0 L248.1 176.6" fill="none" stroke="#d0f4a0" stroke-width="1.3" stroke-linecap="round" stroke-linejoin="round"/>
<path d="M223.4 150.3 L224.7 151.3 L225.0 152.9" fill="none" stroke="#b8e888" stroke-width="0.8" stroke-linecap="round" stroke-linejoin="round"/>
<path d="M291.4 153.3 L292.3 154.7 L292.2 156.3 L292.8 157.7 M236.9 164.2 L237.1 165.8 L238.0 167.1 L238.6 168.6" fill="none" stroke="#9ad870" stroke-width="1.4" stroke-linecap="round" stroke-linejoin="round"/>
<path d="M258.3 167.6 L257.3 168.9 L258.0 170.3 L258.3 171.9" fill="none" stroke="#d0f4a0" stroke-width="1.4" stroke-linecap="round" stroke-linejoin="round"/>
<path d="M261.6 170.4 L261.8 172.0 L263.4 172.4 L264.6 173.4" fill="none" stroke="#b8e888" stroke-width="1.1" stroke-linecap="round" stroke-linejoin="round"/>
<path d="M273.3 143.8 L274.3 145.1 L275.4 146.2" fill="none" stroke="#b8e888" stroke-width="1.0" stroke-linecap="round" stroke-linejoin="round"/>
<path d="M266.8 165.4 L268.3 165.9 L269.6 164.9 M272.6 180.4 L272.4 182.0 L272.6 183.6 M247.6 172.3 L248.9 173.2 L250.4 173.8" fill="none" stroke="#d0f4a0" stroke-width="1.0" stroke-linecap="round" stroke-linejoin="round"/>
<path d="M272.9 132.1 L274.2 133.1 L273.3 134.5" fill="none" stroke="#d0f4a0" stroke-width="0.9" stroke-linecap="round" stroke-linejoin="round"/>
<path d="M222.2 174.9 L222.9 176.3 L223.9 177.6 L225.4 178.2 L226.9 178.6 L228.1 179.7 M223.5 163.1 L224.0 164.6 L224.6 166.1 L225.5 167.4 L226.4 168.8 L227.7 169.7 M230.4 190.9 L231.6 192.0 L232.7 193.0 L233.4 194.5 L234.1 195.9 L235.5 196.8 L237.0 197.2 M242.3 176.9 L243.4 178.1 L244.8 178.9 L245.8 180.1 L247.2 180.8 L248.3 182.0 L249.3 183.3 M222.4 163.4 L222.6 165.0 L223.7 166.1 L224.4 167.6 L225.4 168.9 L226.6 169.8 M290.7 180.3 L291.5 181.8 L292.8 182.7 L293.8 183.9 L295.3 184.4 L296.2 185.8 L297.0 187.2 L297.2 188.8 M229.2 183.2 L230.2 184.5 L231.4 185.5 L232.0 187.0 L232.7 188.5 L232.7 190.1 L232.9 191.6 L233.1 193.2 L232.6 194.7" fill="none" stroke="#dcf0a0" stroke-width="1.1" stroke-linecap="round" stroke-linejoin="round"/>
<path d="M248.8 195.7 L250.1 196.7 L251.3 197.6 L251.7 199.2 L250.9 200.6 L251.0 202.2 M251.6 182.4 L251.9 184.0 L251.1 185.4 L250.4 186.8 L250.0 188.3" fill="none" stroke="#dcf0a0" stroke-width="1.0" stroke-linecap="round" stroke-linejoin="round"/>
<path d="M276.5 190.4 L277.2 191.8 L277.4 193.4 L277.8 194.9 L277.7 196.5" fill="none" stroke="#dcf0a0" stroke-width="0.9" stroke-linecap="round" stroke-linejoin="round"/>
<path d="M230.9 166.1 L231.3 167.6 L231.6 169.2 L232.8 170.2 L234.1 171.1" fill="none" stroke="#dcf0a0" stroke-width="1.3" stroke-linecap="round" stroke-linejoin="round"/>
<path d="M243.0 196.6 L243.6 198.1 L244.4 199.5 L245.7 200.5 L247.0 201.3 M251.5 204.2 L252.3 205.6 L253.4 206.8 L254.4 208.0 L255.6 209.1 L257.1 209.4 M251.2 202.9 L252.3 204.0 L253.4 205.2 L254.4 206.4 L253.8 207.9 L253.0 209.3 L252.3 210.8 M219.8 163.3 L220.0 164.9 L220.7 166.4 L221.6 167.7 L222.8 168.8 L223.4 170.2" fill="none" stroke="#e8f4b0" stroke-width="1.0" stroke-linecap="round" stroke-linejoin="round"/>
<path d="M210.9 166.2 L212.0 167.4 L212.7 168.8 L212.9 170.4 L214.0 171.5 L215.0 172.8 M228.3 168.4 L229.2 169.7 L230.2 171.0 L230.5 172.5 L231.2 174.0 L232.1 175.3 L233.1 176.6 L234.4 177.4 M277.2 187.6 L278.1 188.9 L279.0 190.2 L280.0 191.4 L281.2 192.6 L282.0 193.9 L282.0 195.5 L282.0 197.1 L281.9 198.7" fill="none" stroke="#e8f4b0" stroke-width="1.1" stroke-linecap="round" stroke-linejoin="round"/>
<path d="M213.4 173.5 L214.9 173.9 L216.2 174.8 L217.6 175.7 L219.2 175.8 M263.0 186.7 L263.5 188.3 L264.6 189.5 L265.3 190.9 L264.9 192.4" fill="none" stroke="#dcf0a0" stroke-width="1.2" stroke-linecap="round" stroke-linejoin="round"/>
<path d="M223.0 164.1 L223.3 165.6 L223.8 167.2 L224.6 168.6 L224.8 170.2 L224.1 171.6 L224.0 173.2 M230.2 175.5 L231.5 176.5 L233.1 176.9 L234.3 177.9 L235.7 178.7 L236.3 180.2 L236.7 181.8 L236.8 183.4 M231.4 174.2 L233.0 174.2 L234.6 174.4 L236.0 173.6 L237.5 173.1 L239.1 173.2 L240.5 174.1 L240.7 175.6 M230.0 179.7 L231.2 180.8 L232.2 182.0 L233.2 183.3 L234.2 184.5 L235.6 185.2 M248.9 191.1 L249.8 192.4 L250.6 193.8 L252.0 194.7 L253.5 194.8 L255.1 194.6" fill="none" stroke="#e8f4b0" stroke-width="1.2" stroke-linecap="round" stroke-linejoin="round"/>
<path d="M214.8 172.7 L214.7 174.3 L214.9 175.9 L215.5 177.4 L216.5 178.6 L217.6 179.8 L217.6 181.4 L217.9 183.0 L218.5 184.4" fill="none" stroke="#e8f4b0" stroke-width="0.9" stroke-linecap="round" stroke-linejoin="round"/>
<path d="M224.9 179.7 L226.3 180.6 L227.0 182.0 L228.1 183.2 L229.2 184.3 L229.8 185.8 L231.2 186.5 L232.4 187.6 M256.4 184.2 L257.2 185.6 L258.1 187.0 L259.3 188.0 L260.5 189.1 L261.8 190.0 L262.9 191.2 L263.9 192.4" fill="none" stroke="#e8f4b0" stroke-width="1.3" stroke-linecap="round" stroke-linejoin="round"/>
<path d="M281.0 188.3 L281.5 189.8 L282.4 191.1 L283.1 192.6 L283.7 194.1 L284.4 195.5 L284.8 197.1 L285.6 198.4 L286.4 199.8 M249.2 197.3 L250.1 198.5 L250.4 200.1 L250.5 201.7 L251.1 203.2 L251.7 204.7 L252.1 206.2 L252.3 207.8" fill="none" stroke="#dcf0a0" stroke-width="0.8" stroke-linecap="round" stroke-linejoin="round"/>
<path d="M261.5 187.1 L262.4 188.4 L263.6 189.5 L264.3 190.9 M272.6 186.9 L273.3 188.3 L274.3 189.5 L274.9 191.0 L274.7 192.6 L274.7 194.2 L275.2 195.7 L275.9 197.2 L276.2 198.7 M231.8 185.7 L232.8 186.9 L233.6 188.3 L234.6 189.5 L236.0 190.4 M249.3 194.9 L249.6 196.5 L249.5 198.1 L249.8 199.6 L250.9 200.8 L252.0 202.0 L253.0 203.2 M223.8 169.9 L224.2 171.4 L225.3 172.5 L226.7 173.3 L228.0 174.3 M229.2 184.2 L230.0 185.6 L231.2 186.7 L232.5 187.6 L233.0 189.2 L233.3 190.7 L234.5 191.8 L235.7 192.8" fill="none" stroke="#3a9a30" stroke-width="1.0" stroke-linecap="round" stroke-linejoin="round"/>
<path d="M247.3 186.4 L248.0 187.8 L249.2 188.9 L250.4 190.0 L250.8 191.5 L251.5 192.9 L252.6 194.1 L252.8 195.7 L253.0 197.3 M254.4 186.0 L255.0 187.5 L256.1 188.5 L257.7 189.0 L259.1 189.7 L260.5 190.6 M251.7 191.1 L253.2 191.5 L254.8 191.6 L256.4 192.0 L257.6 193.0 L258.8 194.0 L260.4 194.3 M235.7 197.5 L236.8 198.6 L237.8 199.9 L238.9 201.0 L240.1 202.1 L241.3 203.2 L242.4 204.4" fill="none" stroke="#5cb040" stroke-width="0.9" stroke-linecap="round" stroke-linejoin="round"/>
<path d="M236.9 174.8 L238.3 175.7 L239.6 176.7 L240.1 178.1 L240.4 179.7 L240.9 181.3 L241.4 182.8 L242.5 183.9 M241.6 196.2 L242.9 197.1 L244.4 197.7 L246.0 198.1 L247.6 198.2 L248.8 199.3 L250.0 200.3 L251.4 201.0 M238.0 197.4 L239.2 198.4 L240.7 199.0 L241.7 200.2 L242.4 201.7 L243.1 203.1 M237.1 193.5 L238.0 194.9 L238.7 196.3 L239.8 197.5 L241.0 198.4 L242.6 198.4 M289.1 180.7 L290.5 181.5 L291.5 182.7 L292.7 183.7 L293.3 185.2 M230.8 166.6 L231.6 167.9 L232.7 169.2 L234.1 169.8 L234.8 171.2" fill="none" stroke="#1f7a22" stroke-width="1.0" stroke-linecap="round" stroke-linejoin="round"/>
<path d="M233.6 170.4 L235.1 170.9 L236.7 171.4 L238.2 172.0 L238.8 173.4" fill="none" stroke="#5cb040" stroke-width="1.0" stroke-linecap="round" stroke-linejoin="round"/>
<path d="M248.3 194.0 L249.3 195.3 L250.5 196.4 L251.2 197.8 L251.9 199.2 L252.9 200.4 L253.8 201.8 L254.3 203.3 L255.5 204.4 M260.9 191.8 L261.9 193.1 L262.5 194.5 L263.2 195.9" fill="none" stroke="#1f7a22" stroke-width="0.6" stroke-linecap="round" stroke-linejoin="round"/>
<path d="M242.9 201.7 L243.5 203.2 L243.9 204.7 L244.5 206.2 L244.4 207.8 L244.7 209.4 L244.7 211.0 L245.9 212.0 L247.1 213.2 M212.3 173.8 L213.3 175.0 L214.5 176.0 L215.8 177.0 L217.3 177.3 M214.4 170.9 L215.2 172.3 L216.4 173.4 L216.5 175.0 L217.0 176.5 L217.8 177.9 L219.0 179.0 L220.1 180.1 M254.8 185.9 L255.5 187.4 L256.5 188.6 L256.7 190.2 L257.1 191.8 L258.0 193.1" fill="none" stroke="#5cb040" stroke-width="0.7" stroke-linecap="round" stroke-linejoin="round"/>
<path d="M247.2 182.6 L248.1 183.9 L249.5 184.7 L251.0 185.3 L252.6 185.5 M253.0 196.3 L254.5 197.0 L256.0 197.2 L257.6 197.8 L259.1 198.0 L260.2 199.2 L261.7 199.8 L263.3 200.2 L264.0 201.7 M239.6 197.5 L241.2 197.8 L242.8 198.1 L244.3 198.6 L245.6 199.5 L246.2 201.0 L246.7 202.5 M232.2 184.9 L232.5 186.4 L232.9 188.0 L233.0 189.6 L233.7 191.0" fill="none" stroke="#1f7a22" stroke-width="0.7" stroke-linecap="round" stroke-linejoin="round"/>
<path d="M281.1 185.8 L281.1 187.4 L281.5 189.0 L281.7 190.5 M242.6 192.3 L242.5 193.9 L242.9 195.5 L243.6 196.9 L243.7 198.5 L244.3 199.9 M229.6 164.5 L230.9 165.5 L231.6 166.9 L231.6 168.5 L231.8 170.1 L232.5 171.5 L233.7 172.5" fill="none" stroke="#3a9a30" stroke-width="1.1" stroke-linecap="round" stroke-linejoin="round"/>
<path d="M251.0 199.6 L251.6 201.1 L252.2 202.6 L253.0 204.0 L253.9 205.3 L254.6 206.7 M230.5 182.1 L231.8 183.1 L232.7 184.4 L233.2 185.9 L233.6 187.4 L234.5 188.8 L235.1 190.3" fill="none" stroke="#3a9a30" stroke-width="0.7" stroke-linecap="round" stroke-linejoin="round"/>
<path d="M288.5 179.8 L289.5 181.1 L290.3 182.5 L291.5 183.5 M249.3 183.7 L250.6 184.7 L251.3 186.1 L252.3 187.3 L253.7 188.2 L254.1 189.7 L253.7 191.3 L253.4 192.9 L252.4 194.1 M244.6 179.7 L245.8 180.7 L247.1 181.7 L248.3 182.6 L249.7 183.4 L250.4 184.9 L251.3 186.2 L251.9 187.7 M227.6 167.8 L229.1 168.5 L230.5 169.2 L232.0 169.8 L233.2 170.8" fill="none" stroke="#2c8c28" stroke-width="0.9" stroke-linecap="round" stroke-linejoin="round"/>
<path d="M228.2 174.3 L229.6 175.0 L230.7 176.2 L231.8 177.4 L232.7 178.6 M264.8 188.3 L265.2 189.9 L265.3 191.5 L266.3 192.7 L267.5 193.7 L268.1 195.3 M283.9 183.1 L284.2 184.7 L284.9 186.1 L285.9 187.4 M244.7 198.7 L245.5 200.1 L246.5 201.4 L247.0 202.9 L247.4 204.4 M228.3 186.2 L229.8 186.5 L231.3 187.0 L232.9 187.2 L234.5 187.5 L236.1 187.7 L237.7 188.0 M210.5 170.0 L211.2 171.4 L212.0 172.8 L213.1 174.0 L214.3 175.1 L215.5 176.1 L216.3 177.5 L217.1 178.9" fill="none" stroke="#3a9a30" stroke-width="0.9" stroke-linecap="round" stroke-linejoin="round"/>
<path d="M218.5 172.5 L219.3 173.9 L220.1 175.3 L220.8 176.7 L222.1 177.6 L223.5 178.4 L224.5 179.7 L226.0 180.2 M234.9 182.4 L235.8 183.7 L236.9 184.9 L237.3 186.5 L238.3 187.7 L238.7 189.3 L239.4 190.7 L240.4 192.0 L241.3 193.3 M225.3 184.0 L226.4 185.2 L226.9 186.7 L227.9 187.9 L229.2 188.8 L229.8 190.3 L229.2 191.8 M225.6 184.2 L227.1 184.7 L228.5 185.3 L229.1 186.8 L230.0 188.2 L231.4 188.8 L233.0 189.3" fill="none" stroke="#1f7a22" stroke-width="0.8" stroke-linecap="round" stroke-linejoin="round"/>
<path d="M222.2 168.6 L223.6 169.4 L225.1 169.9 L226.7 170.2 L227.7 171.4 L229.1 172.1 L230.5 173.0 L231.9 173.7 L232.9 174.9 M252.1 201.1 L252.9 202.5 L254.0 203.7 L255.1 204.8 L256.4 205.7 L257.6 206.8 L259.1 207.2 L260.7 207.0 L262.0 207.9 M253.0 197.2 L254.4 198.0 L255.9 198.5 L257.2 199.5 L257.2 201.1 L257.2 202.7 L258.4 203.8" fill="none" stroke="#2c8c28" stroke-width="1.0" stroke-linecap="round" stroke-linejoin="round"/>
<path d="M232.4 194.9 L233.1 196.4 L234.1 197.6 L235.7 198.0 L237.2 198.1 L238.8 198.1 L239.5 199.6 L240.4 200.9 M235.6 186.8 L235.8 188.4 L236.0 190.0 L236.0 191.6 L236.3 193.2" fill="none" stroke="#5cb040" stroke-width="0.6" stroke-linecap="round" stroke-linejoin="round"/>
<path d="M234.7 189.5 L236.1 190.3 L236.7 191.8 L237.4 193.3 L238.1 194.7 L239.0 196.0 L239.8 197.4 M226.2 171.0 L226.7 172.6 L227.5 174.0 L228.5 175.1 L229.5 176.4" fill="none" stroke="#2c8c28" stroke-width="1.1" stroke-linecap="round" stroke-linejoin="round"/>
<path d="M231.5 167.4 L232.2 168.8 L232.5 170.4 L232.4 172.0 L232.9 173.5 M293.0 177.9 L293.3 179.5 L293.9 181.0 L294.5 182.4 L295.3 183.8 L296.6 184.8 L297.6 186.1 L299.1 186.7 M228.7 174.6 L229.0 176.2 L229.4 177.8 L229.7 179.3 L229.7 180.9 L231.0 181.9 L232.0 183.1" fill="none" stroke="#1f7a22" stroke-width="0.9" stroke-linecap="round" stroke-linejoin="round"/>
<path d="M239.9 185.0 L240.9 186.2 L242.5 186.5 L244.0 187.1 L245.4 187.8 L246.9 188.4 L248.4 188.2 L250.0 188.6 M251.7 182.5 L252.8 183.7 L253.7 185.0 L253.8 186.6 M233.6 170.5 L234.4 171.9 L235.7 172.9 L236.9 174.0 L238.2 174.8 L239.7 175.3 M294.7 178.2 L295.7 179.5 L295.5 181.1 L294.9 182.5 L293.8 183.7 L292.8 184.9" fill="none" stroke="#3a9a30" stroke-width="0.8" stroke-linecap="round" stroke-linejoin="round"/>
<path d="M227.6 179.1 L228.3 180.5 L228.2 182.1 L228.4 183.7 L228.3 185.3 L228.2 186.9 L228.5 188.5 L228.3 190.1 M230.4 185.3 L231.7 186.2 L233.1 187.1 L234.5 187.8 L235.6 188.9 L236.9 189.9 M290.2 180.1 L290.6 181.7 L292.0 182.4 L292.7 183.8 L293.3 185.3 L294.2 186.7 M229.7 173.0 L230.1 174.6 L230.7 176.1 L231.9 177.1 L233.3 177.9 L234.6 178.7" fill="none" stroke="#2c8c28" stroke-width="0.7" stroke-linecap="round" stroke-linejoin="round"/>
<path d="M218.4 163.6 L219.7 164.5 L220.8 165.7 L222.3 166.2 L223.5 167.3 L223.8 168.9 M238.1 185.5 L239.5 186.2 L240.7 187.3 L242.1 187.9 L243.4 188.9 L244.4 190.2" fill="none" stroke="#2c8c28" stroke-width="0.8" stroke-linecap="round" stroke-linejoin="round"/>
<path d="M210.4 173.5 L211.3 174.8 L212.4 175.9 L213.2 177.3 L213.9 178.8 L214.1 180.4 L215.2 181.5 M224.7 176.6 L226.3 177.1 L227.5 178.1 L228.9 178.8 L230.5 179.1 L232.1 179.5 M234.6 190.7 L235.7 191.8 L237.0 192.8 L237.8 194.2 L238.3 195.7" fill="none" stroke="#5cb040" stroke-width="0.8" stroke-linecap="round" stroke-linejoin="round"/>
<path d="M269.3 191.3 L270.1 192.7 L271.6 193.2 L273.1 193.7 L274.3 194.7 L275.0 196.2 L275.2 197.7 L275.4 199.3 M234.6 187.7 L235.6 188.9 L236.5 190.3 L238.1 190.7 L239.6 190.4 L241.2 190.4 L242.8 190.3 L244.4 190.4" fill="none" stroke="#2c8c28" stroke-width="0.6" stroke-linecap="round" stroke-linejoin="round"/>
<path d="M244.9 182.2 L246.0 183.4 L247.4 184.1 L248.9 184.6 M245.8 197.2 L246.4 198.7 L246.8 200.2 L247.6 201.7" fill="none" stroke="#3a9a30" stroke-width="0.6" stroke-linecap="round" stroke-linejoin="round"/>
<path d="M211.9 170.3 L213.4 170.6 L214.9 171.1 L216.3 172.0 L217.8 172.6 L218.9 173.8" fill="none" stroke="#1f7a22" stroke-width="1.1" stroke-linecap="round" stroke-linejoin="round"/>
<path d="M218.1 166.6 L219.0 167.9 L220.0 169.1 L220.6 170.6 L221.3 172.1 L222.6 173.0 L223.7 174.2 L224.3 175.7 L225.7 176.5" fill="none" stroke="#5cb040" stroke-width="1.1" stroke-linecap="round" stroke-linejoin="round"/>
<polyline points="232,163 238,167 246,172 254,178 262,182.5 270,185" fill="none" stroke="#c4f0b0" stroke-width="0.7"/>
<path d="M244.9 154.1 L244.6 155.7 L244.9 157.3 M228.0 147.2 L228.3 148.8 L228.0 150.4 L228.3 152.0 M224.8 146.4 L224.7 148.0 L225.3 149.5 L225.8 151.0 L226.5 152.5" fill="none" stroke="#e09018" stroke-width="0.6" stroke-linecap="round" stroke-linejoin="round"/>
<path d="M245.3 152.0 L245.2 153.6 L245.6 155.2 L245.6 156.8 L245.1 158.3 L246.1 159.5 M228.5 157.0 L229.4 158.3 L229.8 159.9 L230.6 161.3 M228.0 146.7 L227.6 148.2 L226.8 149.6 L226.7 151.2" fill="none" stroke="#d0a020" stroke-width="0.8" stroke-linecap="round" stroke-linejoin="round"/>
<path d="M232.8 153.0 L232.7 154.6 L233.2 156.2 L233.4 157.8 M239.6 148.6 L238.8 150.0 L238.5 151.5 L238.3 153.1 L237.4 154.4" fill="none" stroke="#d0a020" stroke-width="0.7" stroke-linecap="round" stroke-linejoin="round"/>
<path d="M238.2 156.0 L238.6 157.5 L238.7 159.1 L238.7 160.7 L239.6 162.0 L239.9 163.6 M233.9 154.1 L234.7 155.4 L235.3 156.9 L235.4 158.5 L235.5 160.1 L235.0 161.6 M242.9 156.5 L243.8 157.9 L244.6 159.3 L245.6 160.5 L246.0 162.1 L246.5 163.6" fill="none" stroke="#e09018" stroke-width="0.8" stroke-linecap="round" stroke-linejoin="round"/>
<path d="M225.9 147.1 L226.6 148.6 L226.8 150.2 L227.0 151.8 L227.5 153.3 L227.8 154.8 M244.1 154.4 L244.4 156.0 L245.6 157.0 L246.2 158.5 L245.6 160.0" fill="none" stroke="#e09018" stroke-width="0.7" stroke-linecap="round" stroke-linejoin="round"/>
<path d="M230.5 150.5 L230.8 152.1 L231.5 153.5 L231.9 155.1" fill="none" stroke="#e09018" stroke-width="0.9" stroke-linecap="round" stroke-linejoin="round"/>
<path d="M265.6 133.1 L265.6 134.7 L265.2 136.3 L264.3 137.6 L264.3 139.2 L263.5 140.6 L262.8 142.1 M268.7 109.4 L267.8 110.7 L268.0 112.3 L268.2 113.9 L267.3 115.2 L267.6 116.8 L266.9 118.2 M273.7 117.1 L273.7 118.7 L273.7 120.3 L273.5 121.9 M255.7 118.3 L255.7 119.9 L255.5 121.5 L256.2 122.9 M272.9 106.4 L272.7 108.0 L272.1 109.4 L270.8 110.4 L270.1 111.8 L269.0 113.0 M257.0 127.9 L256.9 129.5 L256.4 131.0 L256.1 132.6 L256.4 134.1 L255.7 135.6" fill="none" stroke="#2a8826" stroke-width="0.6" stroke-linecap="round" stroke-linejoin="round"/>
<path d="M271.9 131.8 L272.1 133.4 L272.3 135.0 L273.2 136.3 L274.2 137.6 L273.8 139.2 L273.0 140.6 M260.3 111.3 L259.9 112.8 L259.7 114.4 L260.1 115.9 L259.8 117.5 L260.2 119.1 M267.0 115.7 L266.7 117.3 L266.5 118.8 L264.9 119.4" fill="none" stroke="#2f8f2a" stroke-width="0.7" stroke-linecap="round" stroke-linejoin="round"/>
<path d="M261.0 124.8 L261.4 126.4 L262.1 127.9 L263.1 129.0 L264.2 130.2 M262.3 122.6 L262.4 124.2 L261.8 125.7 L260.6 126.8 M262.1 109.5 L262.4 111.1 L262.1 112.6 L261.6 114.2 L262.0 115.7 L262.8 117.1 M261.9 121.5 L261.8 123.1 L261.3 124.6 L261.0 126.2 L261.1 127.8 M278.0 88.4 L277.0 89.7 L276.5 91.2 L276.4 92.8 M266.5 116.6 L266.0 118.1 L265.3 119.5 L264.3 120.8 L264.1 122.4 L264.1 124.0 M271.3 100.1 L270.2 101.2 L268.8 102.1 L267.5 103.0 L266.7 104.4 L266.3 105.9 L265.4 107.3 M270.4 129.5 L269.8 131.0 L269.1 132.4 L269.3 134.0 L269.2 135.6 L269.1 137.2 L268.6 138.7" fill="none" stroke="#2a8826" stroke-width="0.8" stroke-linecap="round" stroke-linejoin="round"/>
<path d="M267.3 102.4 L266.6 103.9 L265.9 105.3 L265.5 106.9 L265.4 108.4 L265.2 110.0" fill="none" stroke="#3a9a30" stroke-width="0.6" stroke-linecap="round" stroke-linejoin="round"/>
<path d="M278.8 86.1 L277.9 87.3 L277.1 88.7 L276.1 90.0 L275.8 91.6 L276.3 93.0 M257.1 130.1 L255.6 130.7 L254.9 132.1 L254.2 133.6 M259.1 120.4 L258.5 121.9 L258.7 123.5 L259.4 124.9 L259.6 126.5 L259.1 128.0" fill="none" stroke="#2a8826" stroke-width="0.9" stroke-linecap="round" stroke-linejoin="round"/>
<path d="M268.5 90.6 L268.5 92.2 L268.8 93.8 L268.8 95.4 L269.0 97.0 M277.4 87.8 L277.7 89.4 L277.5 91.0 L277.0 92.5 M270.2 120.3 L270.4 121.9 L270.8 123.4 L271.5 124.9 L271.4 126.5 L270.8 128.0" fill="none" stroke="#e8c030" stroke-width="0.7" stroke-linecap="round" stroke-linejoin="round"/>
<path d="M272.2 120.8 L271.0 121.9 L269.8 122.9 L268.6 123.9 M272.4 101.4 L271.9 103.0 L271.1 104.3 L269.6 104.9 L268.7 106.2 L267.5 107.3 M266.4 135.4 L265.6 136.8 L265.0 138.3 L264.0 139.5 L263.2 140.9 L262.4 142.3 L261.3 143.5 M271.4 105.4 L270.8 106.8 L270.4 108.4 L271.2 109.8 L272.1 111.1 L272.3 112.7 M258.3 132.0 L259.2 133.3 L260.1 134.6 M260.6 129.9 L261.0 131.4 L261.2 133.0 L261.6 134.6 L261.6 136.2 M272.1 98.4 L271.3 99.8 L270.4 101.2 L269.1 102.1 L268.2 103.4 L267.9 104.9 L269.1 106.0" fill="none" stroke="#2a8826" stroke-width="0.7" stroke-linecap="round" stroke-linejoin="round"/>
<path d="M274.2 83.9 L275.3 85.1 L276.1 86.5 L276.5 88.0 L276.8 89.6 L276.9 91.2" fill="none" stroke="#d8e860" stroke-width="0.6" stroke-linecap="round" stroke-linejoin="round"/>
<path d="M276.5 86.2 L276.4 87.8 L276.3 89.4 L276.5 91.0 L277.1 92.5" fill="none" stroke="#2a8826" stroke-width="0.5" stroke-linecap="round" stroke-linejoin="round"/>
<path d="M273.8 96.8 L274.4 98.3 L275.1 99.7 L275.9 101.2 L275.3 102.7 L275.4 104.3 M272.3 122.3 L271.9 123.8 L272.3 125.4 L272.0 126.9" fill="none" stroke="#e8c030" stroke-width="0.6" stroke-linecap="round" stroke-linejoin="round"/>
<path d="M270.1 119.8 L270.6 121.3 L272.2 121.6 L273.5 122.5 M266.6 104.5 L266.1 106.0 L265.4 107.5 L264.0 108.2 M265.9 128.7 L265.2 130.1 L264.3 131.5 L263.3 132.7 L261.9 133.3 M261.2 124.6 L260.8 126.1 L261.0 127.7" fill="none" stroke="#e09018" stroke-width="0.6" stroke-linecap="round" stroke-linejoin="round"/>
<path d="M263.4 100.7 L264.0 102.2 L264.1 103.8 L264.3 105.3 L265.3 106.6 L264.8 108.1 M260.4 114.2 L260.5 115.8 L260.1 117.4 L258.7 118.2 L257.9 119.6 L256.6 120.6 L255.9 122.0" fill="none" stroke="#e09018" stroke-width="0.8" stroke-linecap="round" stroke-linejoin="round"/>
<path d="M273.0 124.2 L273.2 125.8 L273.4 127.4 M272.4 106.3 L272.1 107.9 L271.5 109.3 L271.1 110.9 L270.6 112.4 L270.2 114.0" fill="none" stroke="#d8e860" stroke-width="0.8" stroke-linecap="round" stroke-linejoin="round"/>
<path d="M267.6 104.4 L268.8 105.5 L269.8 106.7 L270.8 108.0" fill="none" stroke="#2f8f2a" stroke-width="0.9" stroke-linecap="round" stroke-linejoin="round"/>
<path d="M276.1 94.9 L276.6 96.4 L277.0 98.0 L276.2 99.3 M270.8 104.1 L270.9 105.7 L271.1 107.3 L271.2 108.9 L270.8 110.4 L271.0 112.0 M272.1 119.3 L271.9 120.9 L270.7 122.0 L269.4 122.8 M274.4 90.5 L274.5 92.1 L275.4 93.4 L276.3 94.8 L276.5 96.3 L276.4 97.9 L275.7 99.4" fill="none" stroke="#3a9a30" stroke-width="0.7" stroke-linecap="round" stroke-linejoin="round"/>
<path d="M262.4 127.2 L262.0 128.8 L261.8 130.3 L261.5 131.9 L261.2 133.5 L260.9 135.1 L260.7 136.6" fill="none" stroke="#d8e860" stroke-width="0.7" stroke-linecap="round" stroke-linejoin="round"/>
<path d="M274.2 88.0 L274.6 89.5 L275.0 91.1 L275.7 92.5" fill="none" stroke="#e8c030" stroke-width="0.5" stroke-linecap="round" stroke-linejoin="round"/>
<path d="M277.0 91.6 L276.9 93.2 L277.2 94.8 L276.6 96.3 L275.6 97.5 L274.2 98.3 L273.5 99.8 M276.9 107.7 L277.1 109.3 L277.1 110.9 L277.2 112.5 L276.5 113.9 L275.3 115.1" fill="none" stroke="#e09018" stroke-width="0.7" stroke-linecap="round" stroke-linejoin="round"/>
<path d="M271.5 117.8 L271.3 119.4 L271.2 121.0 M260.0 115.8 L260.6 117.3 L260.1 118.9 L260.1 120.5 L259.7 122.0 M274.4 119.8 L273.0 120.6 L272.5 122.1 L272.4 123.7 L272.5 125.3 L272.7 126.9" fill="none" stroke="#3a9a30" stroke-width="0.8" stroke-linecap="round" stroke-linejoin="round"/>
<path d="M258.1 118.8 L258.2 120.4 L258.6 122.0 L259.0 123.5 L260.4 124.2 L260.9 125.8 L261.4 127.3 M263.9 112.5 L263.7 114.1 L263.2 115.6 L262.9 117.2 L262.4 118.7 M266.9 128.3 L266.5 129.9 L266.6 131.5 L266.9 133.0" fill="none" stroke="#e8c030" stroke-width="0.8" stroke-linecap="round" stroke-linejoin="round"/>
<path d="M274.1 83.6 L274.7 85.1 L275.7 86.3 L276.5 87.7 L277.5 88.9" fill="none" stroke="#2f8f2a" stroke-width="0.6" stroke-linecap="round" stroke-linejoin="round"/>
<path d="M258.4 130.8 L258.2 132.4 L257.0 133.5 L256.8 135.1" fill="none" stroke="#2f8f2a" stroke-width="0.5" stroke-linecap="round" stroke-linejoin="round"/>
<path d="M298.0 107.0 L299.4 107.7 L300.7 108.6 L299.2 109.2 L298.8 110.8 L297.9 112.1 L298.3 113.7 L298.1 115.2 L298.6 116.7 L299.1 118.3 L299.4 119.8 M303.8 128.9 L302.2 128.7 L300.8 127.9 L300.3 126.4 L298.9 125.6 L297.3 125.3 L296.3 124.0 L294.8 123.4 L293.5 122.5 L292.2 123.5 M294.6 94.3 L293.3 93.3 L291.8 92.7 L291.6 94.3 L290.2 95.1 L288.6 95.2 L287.4 96.3 L286.6 97.7 L286.1 99.2 L285.5 100.6 L284.8 102.1 M279.2 119.1 L280.4 118.1 L281.6 117.0 L282.4 118.4 L282.6 120.0 L283.2 121.4 L283.8 122.9 L283.0 124.4 L282.3 125.8 L281.0 126.7 L280.2 125.3 L280.7 123.8 L281.6 122.4 L281.0 120.9 M325.0 107.2 L324.1 105.9 L323.2 104.6 L323.2 103.0 L322.7 101.4 L321.5 100.3 M297.3 138.6 L295.7 138.8 L294.2 139.4 L292.7 139.9 L291.2 140.5 L291.6 142.1 L290.6 143.4 L289.7 144.6 L289.4 146.2 M285.0 111.6 L286.2 112.6 L287.7 113.2 L287.6 114.8 L286.2 115.5 L284.6 115.5 L283.2 116.2 L281.6 116.2 M321.7 153.5 L322.6 154.8 L323.5 156.2 L324.0 157.7 L323.2 159.1 L324.4 160.2 L323.1 161.1 L323.2 162.7 M314.5 120.1 L313.6 118.8 L313.5 117.2 L312.0 116.7 L310.5 117.4 L309.3 116.4 L307.9 115.6 L308.1 117.2 L309.4 118.1 L310.0 119.6 L308.4 119.8 L307.8 121.2 M285.9 151.2 L284.9 149.9 L283.3 149.7 L281.8 149.1 L280.5 148.1 L279.7 146.7 L278.2 147.1 L276.6 147.4 L275.1 146.7 L274.8 145.2 L273.2 145.3 L271.9 144.5 L271.3 143.0 M286.5 114.2 L286.7 115.7 L286.6 117.3 L285.5 118.6 L284.2 119.5 L283.0 120.5 M312.3 96.3 L311.9 94.8 L310.3 94.5 L308.9 93.7 L308.3 92.2 L306.9 91.4 M307.8 139.0 L307.7 140.6 L308.6 142.0 L309.5 143.3 L308.3 142.2 L306.9 141.6 L305.3 141.4 L303.7 141.2 M310.2 130.5 L308.7 130.0 L307.2 129.3 L305.9 128.5 L304.8 127.3 L303.9 125.9 L302.7 124.9 L301.6 123.7 L300.4 122.6 L298.9 122.1 L297.5 122.8 L297.0 124.3 L296.4 125.8 L296.8 127.4" fill="none" stroke="#46523c" stroke-width="0.3" stroke-linecap="round" stroke-linejoin="round" opacity="0.65"/>
<path d="M309.6 113.5 L308.0 113.5 L306.5 112.9 L305.2 112.0 L305.1 110.4 L304.4 108.9 M285.9 122.2 L287.5 122.6 L288.8 123.5 L288.4 125.1 L286.9 125.5 M283.9 145.7 L285.3 146.3 L284.2 147.4 L283.7 148.9 L282.5 147.8 L281.0 147.2 L280.0 148.5 L279.2 149.8 M330.4 135.6 L330.7 134.1 L329.1 133.9 L327.8 133.0 L326.3 133.6 L325.5 132.3 L324.1 131.4 L322.7 130.7 L321.1 130.7 L319.5 130.7 L317.9 130.5 L316.3 130.7 M291.4 100.6 L290.6 102.0 L292.1 102.7 L293.0 104.0 L293.8 105.4 L294.9 106.6 M311.3 96.0 L310.2 94.9 L310.4 93.3 L310.2 91.7 L309.1 90.5 L307.6 90.9 L306.7 89.5 L305.2 90.1 L304.0 91.1 L303.4 92.6 L303.6 94.1 L304.4 95.6 M313.9 150.9 L313.2 149.5 L312.0 150.5 L310.4 150.8 L308.8 151.0 L307.7 152.1 M301.1 153.7 L301.1 152.1 L300.0 151.0 L298.6 150.1 L297.4 149.1 L296.7 147.7 L295.5 146.7 L293.9 147.0 M284.1 107.6 L283.1 108.8 L282.5 110.3 L281.7 111.7 L281.0 110.2 L279.6 109.5 L279.6 107.9 L278.6 106.7 L277.8 105.3 L276.2 105.6 L274.9 106.6 L273.7 107.6 L273.2 109.1 L273.0 110.7 M315.1 119.3 L315.9 117.9 L317.2 117.0 L318.5 116.0 L319.1 114.5 L320.7 114.7 L321.3 113.2 L320.1 112.2 L318.6 111.6 L318.5 113.2 L318.6 114.8 M319.0 115.7 L317.9 116.8 L316.9 118.1 L316.7 119.7 L316.8 121.3 L317.5 122.7 L317.8 124.3 L317.8 125.9 L317.0 127.3 M317.6 133.7 L316.7 135.0 L315.1 134.9 L314.5 133.4 L314.0 131.9 L312.7 131.0 L312.8 129.4 M290.0 126.3 L290.3 127.9 L289.9 129.4 L290.8 130.7 L289.3 131.0 L287.7 131.3 L286.2 130.8 L284.6 130.3 L284.9 128.7 L283.3 128.8 L283.1 130.4 M317.1 135.8 L318.3 136.9 L317.0 137.7 L315.4 138.2 L313.8 138.3 L313.6 139.9 L314.6 141.1 L314.5 142.7 L315.2 144.1 M324.1 144.9 L322.7 145.6 L321.1 146.1 L320.1 145.0 L320.3 143.4 L318.9 142.7 L319.2 141.1 L317.7 140.6 L316.1 140.7 M326.0 154.0 L327.3 155.0 L328.9 155.4 L327.3 155.4 L326.2 154.2 L324.9 153.3 L323.3 153.2 M334.5 104.5 L335.6 103.4 L334.0 103.1 L332.5 102.8 L331.1 101.9 L330.4 100.5 L330.0 102.0 L329.5 103.5 L328.2 104.5 L327.2 105.8 L328.2 107.0 M304.8 146.7 L305.3 145.2 L306.5 144.2 L307.9 143.4 L308.7 142.1 L307.3 141.4 L305.7 141.3 L304.1 141.0 L302.5 140.8 L301.0 140.6 L299.4 140.2" fill="none" stroke="#46523c" stroke-width="0.4" stroke-linecap="round" stroke-linejoin="round" opacity="0.65"/>
<path d="M333.1 105.2 L331.7 104.3 L330.8 105.7 L331.8 107.0 L330.6 108.2 L329.9 109.6 L328.3 109.3 M293.5 125.8 L293.2 127.3 L292.9 128.9 L291.6 129.8 L292.0 131.4 L290.8 132.4 L290.0 131.0 L289.2 129.7 L290.2 128.4 L289.3 127.0 L287.8 126.6 L286.2 126.6 L285.2 125.3 M320.1 140.2 L318.5 140.4 L318.7 142.0 L317.7 143.3 L316.2 143.8 L315.6 145.3 L314.5 146.5 L315.4 147.8 M298.8 161.0 L299.2 159.4 L298.7 157.9 L297.2 157.4 L295.7 157.8 L294.5 156.8 M300.9 89.5 L299.4 89.0 L299.6 90.5 L298.9 92.0 L298.3 93.5 L297.5 92.0 M313.2 102.6 L313.5 101.0 L314.8 100.0 L316.3 99.4 L316.9 98.0 L315.8 96.9 M329.7 157.6 L330.2 156.1 L328.8 155.2 L328.2 153.7 L326.6 153.8 L325.0 153.7 L323.7 154.7 L322.4 155.5 L320.8 155.2 L319.4 154.4 M320.0 124.2 L318.5 123.8 L316.9 123.9 L315.9 122.6 L315.1 121.2 L314.2 119.9 L314.8 118.4 M302.6 155.5 L304.1 155.1 L303.9 153.5 L302.5 152.6 L301.0 152.3 L299.5 151.6 L298.1 152.4 L297.8 153.9 L299.3 154.5 L300.5 155.4 L299.0 155.7 L297.4 155.5 M297.4 121.1 L296.3 122.2 L294.7 122.5 L293.2 122.1 L292.1 123.3 L290.8 124.2 L289.4 124.9 L287.9 124.4 L288.3 122.8 M307.5 148.6 L307.2 150.2 L305.8 149.4 L305.2 150.8 L303.8 151.6 L302.7 152.8 L302.2 154.3 M305.1 90.6 L305.4 92.2 L306.6 93.1 L306.4 94.7 L305.0 95.5 L303.4 95.7 L301.8 95.6 L300.3 96.1 L300.1 97.6 L298.6 97.1 L297.2 97.8 L295.6 98.3 M330.0 144.7 L329.2 143.4 L330.3 142.2 L331.3 141.0 L330.0 140.1 L328.7 139.1 L327.9 137.7 L326.8 136.6 M304.9 123.0 L303.6 122.0 L302.2 121.2 L300.8 120.5 L299.2 120.5 L298.2 119.2 L296.9 120.0 L295.8 118.8 L294.3 119.4 L293.4 120.7 L292.3 121.8 M314.7 155.6 L313.7 154.3 L312.1 154.4 L311.6 156.0 L310.9 157.4 L309.9 158.6 L308.3 159.0 L308.4 160.6 L306.9 161.1 M281.4 131.2 L281.4 132.8 L281.3 134.4 L280.1 135.5 L278.7 136.3 L279.0 137.8 L278.2 139.3 L276.7 139.7 L275.2 140.2 M292.9 125.2 L294.3 126.1 L293.9 127.6 L294.1 129.2 L294.0 130.8 L293.6 132.4 L292.1 132.8 M288.1 108.8 L286.5 108.7 L286.5 107.1 L287.2 105.7 L288.3 104.5 L288.2 103.0 L286.7 103.6 L286.5 105.2 L285.2 106.2 L283.6 105.8 L282.1 106.1 L281.1 107.3 M306.2 157.8 L304.9 156.8 L304.1 155.5 L302.5 155.6 L303.7 156.7 L303.4 158.2 L302.1 159.2" fill="none" stroke="#39442f" stroke-width="0.3" stroke-linecap="round" stroke-linejoin="round" opacity="0.65"/>
<path d="M277.6 112.8 L277.5 111.2 L278.5 109.9 L277.6 108.6 L277.2 107.1 L276.5 105.6 L277.6 104.5 L277.8 102.9 L276.9 101.5 M287.2 122.3 L285.9 123.4 L284.4 123.9 L284.5 125.5 L284.2 127.1 L283.7 128.6 L282.2 129.3 L280.8 130.0 L281.1 131.6 L281.9 133.0 L283.2 133.9 L282.6 135.4 L282.0 136.8 M318.7 132.3 L318.0 133.8 L316.7 134.7 L315.2 134.2 L313.6 134.4 L312.2 135.2 L310.9 136.1 L309.4 135.7 L307.9 136.3 L307.0 137.7 L306.6 139.2 L305.1 139.6 L303.5 139.3 M306.3 117.9 L307.5 119.1 L307.5 120.7 L306.2 119.8 L304.7 119.3 L304.4 120.9 L302.9 120.4 L302.6 118.9 L303.3 117.4 L303.2 115.8 M295.9 167.3 L294.3 167.3 L292.9 168.2 L291.4 167.7 L290.6 166.3 L289.7 165.0 L288.6 163.8 L287.0 164.0 L285.4 163.7 L284.0 163.1 L283.0 164.3 L284.6 164.6 L284.6 166.2 L285.5 167.4 M294.8 100.7 L296.3 100.2 L297.1 98.8 L295.9 97.7 L294.4 97.1 L293.7 98.5 L293.1 100.0 L292.9 101.6 L293.6 103.0 L293.9 104.5 L292.5 105.4 M273.0 117.9 L272.3 119.3 L271.7 120.8 L270.3 121.5 L269.0 122.5 L268.0 123.7 L267.3 125.2 L266.2 126.3 L267.0 127.7 L268.4 128.5 M314.2 120.2 L312.7 120.5 L311.7 121.8 L310.5 122.8 L308.9 123.1 L308.7 124.7 L308.6 126.3 L307.0 126.8 L306.3 128.2 L305.0 127.3 L303.6 128.0 L303.7 129.6 L302.7 130.8 M278.2 104.4 L277.4 105.7 L276.2 106.8 L274.6 106.8 L273.1 107.0 L272.8 108.5 L271.8 109.8 L270.2 109.7 L268.8 110.4 L267.8 109.1 L266.2 109.0 L264.7 109.5 L263.2 109.8 M295.4 134.4 L294.9 135.9 L293.4 136.4 L291.8 136.8 L290.2 136.6 L288.7 137.0 L287.2 136.4 L286.5 137.8 M278.3 107.2 L276.8 107.8 L276.0 106.4 L274.8 105.4 L273.6 106.4 L272.0 106.2 L271.2 107.6 L270.3 108.9 L268.9 108.0 L267.3 107.9 L265.8 108.5 L264.3 109.1 L262.7 109.4 M329.2 130.0 L327.6 129.7 L326.5 130.9 L325.0 131.2 L323.5 131.9 L322.1 131.2 L320.7 132.1 L319.8 133.4 L318.3 133.8 L317.6 135.3 L316.7 136.5 M307.7 128.4 L306.1 128.4 L304.7 127.7 L303.3 128.4 L301.9 127.6 L300.3 127.2 L299.8 125.7 L298.6 124.6 L297.2 125.2 L295.9 124.3 L297.1 123.2 L297.0 121.6 L296.3 120.2 M323.3 135.1 L323.7 136.6 L322.7 137.9 L322.6 139.5 L321.7 140.8 L320.7 142.1 M325.6 128.7 L324.1 129.2 L323.2 127.8 L321.9 126.9 L322.0 125.3 L320.4 125.3 L318.9 126.0 M291.3 102.0 L289.7 101.9 L288.3 101.1 L287.9 99.5 L287.0 100.9 L285.8 101.9 L285.0 103.3 L284.9 104.9" fill="none" stroke="#39442f" stroke-width="0.4" stroke-linecap="round" stroke-linejoin="round" opacity="0.65"/>
<path d="M308.9 90.9 L308.5 89.4 L308.4 87.8 L307.2 86.7 L305.7 86.2 L305.0 87.6 L305.5 89.1 L305.3 90.7 L303.7 91.1 L302.2 90.8 L300.9 89.8 L301.9 91.0 M273.0 111.9 L271.5 112.2 L269.9 112.2 L269.3 110.7 L267.9 110.0 L268.7 108.6 L268.1 107.1 L267.0 105.9 L266.3 104.5 L266.0 102.9 L265.1 101.6 L263.6 101.1 M330.8 139.5 L329.6 140.5 L330.3 142.0 L330.7 143.5 L330.9 145.1 L331.0 146.7 L332.2 147.9 L333.1 149.1 L333.4 150.7 M316.8 107.6 L317.4 106.1 L317.2 104.5 L317.8 103.0 L317.6 101.4 L316.9 100.0 L315.6 99.0 M299.5 128.6 L298.7 130.0 L299.7 131.2 L298.3 132.0 L299.0 133.5 L298.9 135.1 L297.9 136.4 L297.0 137.6 L295.4 137.9 M311.1 156.7 L312.4 155.8 L311.6 154.4 L310.9 153.0 L311.8 151.7 L311.1 150.3 L309.5 150.4 L308.0 149.9 L306.5 149.5 M326.9 152.6 L328.4 152.1 L327.1 151.2 L327.3 149.6 L325.8 150.2 L324.6 151.2 L323.5 152.3 L322.1 153.2 L320.5 153.2 L320.0 154.7 M309.6 129.5 L310.2 131.0 L308.8 131.8 L307.4 130.9 L305.9 130.5 L304.3 130.4 L303.1 129.3 L301.5 129.5 L300.0 130.1 L300.5 131.6 L299.2 132.5 L299.0 134.1 M301.1 147.8 L300.3 149.2 L299.6 150.7 L299.0 152.1 L298.1 153.5 L298.8 155.0 L300.4 154.8 M311.3 160.3 L312.4 159.1 L310.8 158.8 L309.3 159.2 L308.2 160.4 L306.9 161.4 L306.1 162.7 L304.5 163.0 L303.1 163.8 L301.8 164.8 L300.6 165.8 M299.8 149.5 L298.7 150.6 L298.3 152.1 L297.3 153.4 L295.8 153.0 L295.6 151.5 M305.8 95.0 L304.2 95.2 L302.7 95.0 L301.1 94.5 L299.8 95.4 L298.7 94.2 L297.2 93.6 L296.0 94.6 M325.3 140.0 L324.4 138.7 L323.7 140.1 L324.1 141.7 L322.6 141.0 L321.4 142.1 L320.5 143.4 L319.0 143.0 L317.5 142.5 L316.7 143.9 L316.2 145.4" fill="none" stroke="#5a6a50" stroke-width="0.4" stroke-linecap="round" stroke-linejoin="round" opacity="0.65"/>
<path d="M324.9 130.0 L323.4 130.5 L322.2 131.5 L322.2 133.1 L323.0 134.5 L321.9 135.7 L320.6 136.6 L319.3 137.6 M306.7 118.8 L305.9 120.2 L304.6 121.2 L303.0 121.1 L301.9 120.0 L300.3 120.2 L299.4 118.9 L298.7 117.4 L297.1 117.8 L296.9 119.4 L295.3 119.4 M286.9 159.5 L287.5 161.0 L286.0 161.4 L285.7 163.0 L286.0 164.6 L286.1 166.2 L284.8 167.1 L283.5 168.0 L284.0 169.5 L284.1 171.1 L283.1 172.3 M281.2 136.3 L282.3 137.5 L283.3 138.7 L282.9 140.2 L281.3 140.1 L279.7 140.0 L279.0 138.6 L277.4 138.7 L276.0 137.8 L274.9 136.7 L274.2 135.2 L273.3 133.9 L271.7 133.5 L271.6 131.9 M295.5 138.3 L295.1 139.8 L293.6 139.4 L292.3 140.4 L290.8 140.0 L289.3 140.4 L287.7 141.0 L286.4 140.1 M319.8 146.1 L319.0 147.5 L317.9 148.7 L316.6 149.7 L315.5 148.6 L314.6 147.3 L313.9 145.8 M281.2 123.1 L282.8 123.3 L283.2 124.8 L284.8 125.2 L286.3 125.6 L286.9 124.1 L287.4 125.6 L286.7 127.1 M281.8 133.9 L282.3 135.4 L280.8 136.1 L279.2 136.1 L277.7 135.5 L276.3 134.7 L275.9 133.2 L275.2 131.7 L274.8 130.2 L273.3 129.8 L273.0 128.2 M309.2 154.4 L307.6 153.9 L306.3 154.7 L304.8 155.3 L305.3 156.8 L303.7 156.9 M304.8 93.2 L303.8 94.5 L302.5 93.6 L300.9 93.7 L299.5 92.9 L297.9 93.1 L296.3 92.9 L294.8 93.3 L293.4 94.0 L291.8 93.7 L291.0 95.1 L289.8 96.1 L288.2 96.0 M292.2 100.6 L291.0 99.5 L289.5 98.8 L288.3 99.9 L287.1 100.9 L285.6 100.4 L284.2 101.3 L282.7 101.7 L282.9 103.3 L283.5 104.7 L282.4 106.0 L281.0 106.6 L280.4 108.1 L278.9 108.8 M306.4 95.3 L305.7 96.7 L307.0 97.7 L307.1 99.2 L308.0 100.6 L308.6 102.1 L307.9 103.5 L306.3 103.3 L305.2 104.4 M285.4 105.6 L285.7 104.0 L284.4 102.9 L282.9 102.8 L281.3 102.5 L279.7 102.8 L278.2 102.3 L276.9 101.3 L276.0 100.0 L274.4 99.8 M292.9 128.6 L292.9 130.2 L291.3 130.3 L291.7 128.8 L292.0 127.2 L291.7 125.6 M302.9 147.6 L301.7 146.5 L300.3 145.8 L299.1 146.7 L298.7 148.3 L297.6 149.5 L296.5 150.7 L295.0 151.0 L293.4 150.8 L291.8 150.9 L290.2 151.3 L289.4 152.7 L288.1 153.5 L288.7 154.9" fill="none" stroke="#5a6a50" stroke-width="0.3" stroke-linecap="round" stroke-linejoin="round" opacity="0.65"/>
<path d="M310.0 109.6h0.45 M300.4 119.2h0.25 M313.9 121.1h0.45 M281.7 115.7h0.25 M302.9 116.4h0.15 M280.5 121.0h0.25 M295.2 133.8h0.45 M300.2 119.4h0.15 M315.3 105.7h0.15 M293.9 113.0h0.45 M305.7 111.8h0.25 M284.7 132.2h0.15 M308.1 115.7h0.45 M312.7 121.8h0.45 M292.1 112.2h0.15 M289.3 136.8h0.35 M288.0 106.3h0.45 M294.7 115.3h0.15 M311.6 98.5h0.25 M299.6 98.9h0.45 M303.9 107.1h0.45 M299.7 109.7h0.45 M305.5 112.1h0.15 M289.9 121.0h0.35 M286.3 115.3h0.25 M284.0 120.8h0.25 M301.4 91.8h0.15 M308.4 122.9h0.45 M299.1 112.3h0.15 M303.2 129.6h0.35 M298.7 113.1h0.45 M294.7 100.6h0.15 M303.6 106.3h0.25 M307.9 112.4h0.25 M297.2 102.7h0.25 M301.7 117.9h0.25 M297.1 110.0h0.25 M308.9 138.2h0.35 M288.1 103.0h0.15 M309.2 114.3h0.45 M316.6 102.9h0.35 M285.2 132.7h0.35 M296.2 91.5h0.15 M297.9 115.4h0.45 M290.0 131.3h0.45 M291.7 127.1h0.25 M303.5 116.7h0.15 M306.4 93.8h0.45 M298.9 128.3h0.35 M294.6 115.4h0.35 M306.4 121.6h0.25 M301.6 123.2h0.45 M288.8 114.5h0.45 M295.6 116.7h0.35 M296.7 99.4h0.15 M300.3 109.1h0.35 M315.8 117.4h0.15 M310.8 105.0h0.35 M292.3 116.4h0.45 M301.5 131.9h0.35 M296.0 127.0h0.15 M307.3 115.2h0.15 M297.3 119.3h0.25 M309.0 111.8h0.35 M310.4 143.8h0.45 M288.3 116.2h0.35 M306.9 92.5h0.15 M287.8 102.0h0.15 M293.2 128.1h0.45 M309.5 120.0h0.35 M288.8 113.5h0.35 M287.3 105.0h0.15 M303.8 114.8h0.35 M301.1 125.0h0.45 M304.8 131.7h0.25 M302.5 117.8h0.35 M295.0 127.8h0.35 M288.5 116.9h0.35 M307.8 119.1h0.15 M310.9 92.5h0.25 M297.9 124.6h0.15 M289.9 108.9h0.35 M297.8 124.8h0.15 M287.5 117.7h0.35 M299.5 119.4h0.35 M288.3 128.3h0.45 M299.2 114.7h0.15 M300.8 124.6h0.15 M299.9 117.0h0.35 M303.5 122.1h0.15 M329.8 133.2h0.15 M310.4 124.5h0.35 M316.1 140.2h0.35 M325.4 103.2h0.35 M315.2 127.8h0.45 M282.4 119.7h0.15 M308.0 93.4h0.25 M325.0 151.9h0.15 M291.0 141.3h0.45 M317.5 102.4h0.35 M293.0 97.3h0.35 M283.6 130.2h0.15 M321.6 155.1h0.15 M299.4 101.2h0.25 M304.7 127.2h0.35 M289.0 138.0h0.45 M310.5 153.3h0.35 M298.4 92.3h0.35 M285.7 151.9h0.15 M325.8 96.9h0.25 M303.4 142.8h0.35 M328.7 123.9h0.45 M320.2 105.5h0.15 M329.0 147.3h0.35 M287.8 93.5h0.35 M286.6 129.5h0.35 M324.7 98.5h0.45 M302.0 126.2h0.25 M315.8 155.5h0.45 M313.6 124.4h0.15 M316.8 103.7h0.15 M328.3 100.6h0.45 M325.1 131.6h0.25 M295.4 117.0h0.45 M300.6 152.7h0.15 M300.6 160.0h0.15 M336.4 100.3h0.15 M314.4 125.1h0.15 M298.9 164.5h0.35 M334.1 100.3h0.35 M322.2 109.0h0.45 M313.7 160.8h0.35 M324.0 145.2h0.25 M299.1 165.9h0.15 M310.6 99.7h0.15 M315.1 156.2h0.25 M327.8 128.6h0.35 M323.6 147.8h0.25 M322.3 138.8h0.45 M313.1 154.2h0.45 M301.5 151.1h0.45 M301.7 90.4h0.35 M308.2 115.3h0.45 M294.2 97.5h0.45 M322.4 121.4h0.15 M309.1 100.9h0.45 M312.3 114.3h0.15 M306.8 158.6h0.15 M318.9 153.4h0.45 M316.8 147.4h0.15 M317.8 148.7h0.15 M325.2 142.0h0.35 M273.4 125.9h0.35 M284.0 102.8h0.45 M281.1 121.5h0.15 M297.1 155.5h0.15 M306.3 155.2h0.25 M311.1 123.6h0.15 M289.3 109.7h0.15 M290.4 139.1h0.15 M287.7 126.7h0.15 M280.4 131.2h0.35 M296.0 132.1h0.45 M294.7 147.1h0.15 M326.6 131.7h0.15 M318.7 160.2h0.15 M291.9 95.6h0.25 M321.9 120.6h0.15 M279.3 134.0h0.45 M323.8 155.9h0.15 M282.2 97.5h0.35 M278.7 126.1h0.45 M307.4 118.4h0.25 M328.1 103.1h0.45 M289.7 118.5h0.15 M286.9 152.9h0.35 M283.6 96.1h0.15 M292.9 116.0h0.25 M273.0 118.8h0.35 M326.0 156.9h0.25 M309.6 143.9h0.45 M306.8 161.2h0.45 M280.9 139.5h0.15 M279.2 107.8h0.45 M325.5 142.1h0.45 M281.2 133.2h0.45 M312.5 91.2h0.25 M304.7 108.1h0.45 M295.5 139.8h0.35 M285.3 127.5h0.25 M300.4 141.7h0.35 M295.1 93.9h0.45 M282.0 124.3h0.15 M286.6 146.0h0.15 M318.3 95.3h0.15 M302.6 155.0h0.45 M276.5 130.6h0.35 M324.4 121.2h0.35 M331.3 133.4h0.15 M330.5 146.1h0.35 M316.6 160.1h0.15 M289.2 110.1h0.25 M324.8 121.3h0.35 M275.1 105.2h0.45 M330.4 128.0h0.25 M328.7 106.2h0.45 M306.7 139.4h0.35 M280.6 95.0h0.35 M306.2 102.9h0.45 M294.7 110.4h0.25 M313.0 152.2h0.15 M273.6 108.8h0.35 M291.5 144.2h0.15 M302.5 142.7h0.45 M302.9 124.1h0.15 M288.7 149.2h0.15 M319.7 141.0h0.35 M323.4 145.9h0.45 M298.7 137.4h0.15 M311.2 94.1h0.15 M306.0 104.2h0.45 M283.9 120.3h0.35 M296.9 90.9h0.45 M307.4 105.4h0.35 M324.0 142.2h0.35 M322.3 154.9h0.45 M295.6 125.7h0.35 M315.3 91.8h0.35 M290.0 159.6h0.45 M311.9 104.4h0.25 M303.4 148.3h0.15 M314.1 161.4h0.35 M325.4 99.0h0.25 M284.1 118.1h0.35 M327.3 101.6h0.45 M325.7 123.9h0.15 M321.7 156.6h0.15 M282.3 140.8h0.15 M288.5 110.3h0.25 M301.4 119.3h0.25 M293.8 117.6h0.45 M311.9 152.4h0.25 M284.4 153.2h0.15 M279.6 133.8h0.35 M314.0 160.4h0.45 M299.9 104.4h0.35 M305.6 148.4h0.45 M297.1 167.2h0.45 M283.7 128.2h0.25 M323.9 135.2h0.45 M289.2 89.7h0.45 M314.1 120.9h0.35 M291.1 116.1h0.25 M330.9 101.7h0.15 M310.7 146.8h0.35 M320.5 101.2h0.35 M318.8 98.5h0.35 M326.6 134.2h0.35 M329.0 140.0h0.45 M298.8 158.5h0.15 M303.3 104.3h0.15 M296.9 140.9h0.35 M293.6 140.7h0.45 M288.7 120.4h0.45 M300.3 133.0h0.25 M313.1 122.6h0.15 M326.1 135.5h0.25 M300.4 118.2h0.15 M273.8 127.9h0.35 M313.9 126.5h0.45 M281.3 111.9h0.45 M326.0 148.6h0.35 M280.1 108.1h0.45 M308.4 107.9h0.15 M324.0 106.4h0.25 M318.1 115.3h0.45 M302.9 143.9h0.45 M284.6 114.8h0.35 M293.7 166.8h0.35 M298.3 120.9h0.35 M292.9 136.8h0.45 M310.2 151.1h0.15 M322.5 99.0h0.15 M324.5 145.9h0.35 M282.4 141.6h0.45 M335.6 103.8h0.35 M322.9 153.4h0.35 M293.0 90.0h0.15 M286.9 135.6h0.15 M324.8 149.7h0.35 M280.7 106.1h0.25 M280.3 120.7h0.25 M332.9 104.0h0.25 M307.8 163.4h0.15 M309.0 138.8h0.25 M287.8 131.9h0.25 M287.3 99.5h0.15 M321.5 101.2h0.45 M305.9 97.4h0.15 M281.9 111.5h0.15" stroke="#10140c" stroke-width="0.65" stroke-linecap="round" fill="none"/>
<path d="M242.3 187.8h0.4 M268.5 180.9h0.4 M271.5 183.3h0.4 M244.9 170.5h0.4 M234.1 149.9h0.4 M222.3 166.4h0.4 M226.3 174.9h0.4 M279.2 155.7h0.4 M278.4 157.7h0.4 M275.5 189.0h0.4 M234.2 155.5h0.4 M259.5 177.0h0.4 M251.9 159.4h0.4 M249.2 165.5h0.4 M255.1 147.5h0.4 M242.5 200.7h0.4 M282.6 157.9h0.4 M285.3 146.9h0.4 M290.5 175.6h0.4 M257.0 159.7h0.4 M250.6 192.9h0.4 M280.6 161.0h0.4 M246.3 186.9h0.4 M223.1 158.9h0.4 M227.8 162.7h0.4 M278.2 176.1h0.4 M265.8 176.5h0.4 M271.4 151.7h0.4 M263.9 178.7h0.4 M240.8 185.9h0.4 M242.9 195.5h0.4 M233.2 146.0h0.4 M243.8 146.9h0.4 M223.1 147.3h0.4 M255.9 155.7h0.4 M267.6 191.2h0.4 M255.1 146.3h0.4 M229.9 167.5h0.4 M260.2 182.0h0.4 M234.3 185.2h0.4 M265.4 142.7h0.4 M237.1 164.1h0.4 M260.6 183.8h0.4 M283.6 173.1h0.4 M237.3 156.9h0.4 M270.7 164.3h0.4 M274.4 164.5h0.4 M262.6 189.1h0.4 M249.2 168.9h0.4 M277.2 143.2h0.4 M267.2 138.4h0.4 M227.5 157.4h0.4 M248.5 152.4h0.4 M235.0 146.0h0.4 M274.4 166.0h0.4 M278.5 148.5h0.4 M267.1 189.1h0.4 M228.7 180.1h0.4 M261.6 176.2h0.4 M268.3 136.3h0.4 M255.5 142.4h0.4 M277.5 153.1h0.4 M285.9 181.7h0.4 M275.3 157.6h0.4 M265.3 185.3h0.4 M244.8 160.9h0.4 M281.1 177.2h0.4 M247.5 180.3h0.4 M274.0 148.7h0.4 M288.1 148.7h0.4 M243.4 198.3h0.4 M243.7 148.9h0.4 M284.9 157.3h0.4 M242.9 158.7h0.4 M221.8 173.3h0.4 M223.6 146.5h0.4 M234.2 170.9h0.4 M237.4 184.0h0.4 M256.8 141.8h0.4 M256.7 173.1h0.4 M242.3 195.4h0.4 M277.1 175.5h0.4 M275.1 182.3h0.4 M257.0 191.1h0.4 M240.5 153.1h0.4 M228.2 162.4h0.4 M277.4 135.3h0.4 M212.6 173.7h0.4 M241.4 187.2h0.4 M284.6 175.1h0.4 M276.4 160.8h0.4 M234.9 183.3h0.4 M243.9 177.7h0.4 M244.5 192.6h0.4 M248.9 167.2h0.4 M253.0 165.6h0.4 M226.0 171.4h0.4 M259.2 169.5h0.4 M253.5 193.5h0.4 M263.6 147.2h0.4 M263.1 180.4h0.4 M261.4 168.2h0.4 M283.3 160.0h0.4 M271.0 185.8h0.4 M262.5 186.5h0.4 M274.6 150.2h0.4 M234.5 189.0h0.4 M261.8 167.9h0.4 M250.3 173.4h0.4 M248.3 159.1h0.4 M235.4 164.8h0.4 M274.3 176.7h0.4 M249.5 145.1h0.4 M235.7 196.8h0.4 M251.7 176.0h0.4 M278.8 140.1h0.4 M272.9 155.7h0.4 M276.0 132.4h0.4 M216.5 168.3h0.4 M265.0 157.0h0.4 M241.3 163.4h0.4 M263.9 143.7h0.4 M234.9 147.0h0.4 M233.9 174.5h0.4 M279.0 163.5h0.4 M248.2 158.4h0.4 M232.8 166.7h0.4 M242.0 159.3h0.4 M227.6 163.2h0.4 M248.2 187.1h0.4 M260.1 170.8h0.4 M278.1 141.0h0.4 M235.8 167.0h0.4 M265.7 182.2h0.4 M228.5 163.4h0.4 M262.8 162.5h0.4 M282.4 163.6h0.4 M247.6 204.0h0.4 M283.7 149.7h0.4 M257.2 190.6h0.4 M255.0 175.6h0.4 M281.4 170.4h0.4 M252.7 145.0h0.4 M224.2 167.3h0.4 M269.0 154.0h0.4 M258.4 147.1h0.4 M243.6 155.6h0.4 M272.7 184.9h0.4 M256.2 180.7h0.4 M284.4 147.3h0.4 M225.0 179.7h0.4 M289.4 155.1h0.4 M251.1 199.8h0.4 M238.7 189.0h0.4 M247.9 197.0h0.4 M236.0 176.2h0.4 M238.0 186.2h0.4 M280.3 166.8h0.4 M252.2 158.2h0.4 M262.9 179.0h0.4 M245.9 149.8h0.4 M262.7 164.4h0.4 M222.9 162.9h0.4 M255.7 152.6h0.4 M233.3 187.1h0.4 M269.5 186.8h0.4 M237.2 199.4h0.4 M279.5 153.8h0.4 M255.7 176.0h0.4 M237.9 199.4h0.4" stroke="#0c2408" stroke-width="0.8" stroke-linecap="round" fill="none"/>
<path d="M166.8 110.8 L168.4 111.1 L169.9 111.6 L171.5 111.5 L173.0 111.9 L174.6 111.6 L176.2 111.4 M161.6 116.4 L163.2 116.7 L164.3 117.9 L165.5 118.9 M188.5 113.2 L190.0 112.8 L191.5 112.3 L193.1 112.6 L194.6 111.9 M183.2 120.3 L184.8 119.9 L186.2 119.2 L187.6 118.5 L189.2 118.4 L190.4 117.3" fill="none" stroke="#e05c08" stroke-width="0.9" stroke-linecap="round" stroke-linejoin="round"/>
<path d="M179.0 110.3 L180.5 110.0 L182.1 109.8 L183.7 109.4 L185.2 109.8 L186.8 109.5 L188.3 109.1 M132.5 119.5 L134.1 119.5 L135.6 119.9 L137.1 120.5 L138.7 120.8 L140.1 121.6 L141.6 122.1 M149.5 116.2 L150.8 115.2 L152.3 114.9 L153.6 113.9 L154.5 112.6 L155.6 111.4 L156.2 109.9" fill="none" stroke="#e8700c" stroke-width="0.8" stroke-linecap="round" stroke-linejoin="round"/>
<path d="M186.7 115.8 L188.3 116.0 L189.8 116.5 L190.9 117.7 L192.1 118.7 M175.7 124.6 L177.1 123.9 L178.5 123.2 L179.9 122.3 L181.1 121.2 L182.3 120.2 L183.8 119.6 L185.1 118.7 L185.5 117.1 M179.3 116.4 L180.7 115.7 L181.9 114.6 L183.5 114.4 L185.1 114.1 M175.0 110.3 L176.6 110.5 L178.2 110.5 L179.8 110.4 L181.3 110.2 L182.9 110.3 L184.3 109.5 L185.7 108.7 L186.9 107.6" fill="none" stroke="#e8700c" stroke-width="0.7" stroke-linecap="round" stroke-linejoin="round"/>
<path d="M164.6 115.8 L166.1 116.3 L167.6 115.9 L169.2 115.6 L170.8 115.4 L172.3 115.2 M126.2 120.0 L127.8 120.0 L129.2 119.3 L130.7 118.6 L132.1 118.0 L133.6 117.5 L135.2 117.1 L136.7 117.7 L138.2 118.2 L139.7 117.5 M173.2 116.4 L174.8 116.1 L176.3 115.5 L177.8 114.9 L179.3 115.3 L180.9 115.1 L182.5 115.0 M108.3 120.9 L109.8 121.5 L111.4 121.5 L113.0 121.9 L114.4 121.2 L115.9 121.7 L117.5 122.1 M154.2 124.7 L155.7 124.9 L157.3 125.1 L158.9 124.8 M160.3 126.9 L161.6 126.0 L162.7 124.8 L163.9 123.8 L165.4 123.3" fill="none" stroke="#e05c08" stroke-width="0.6" stroke-linecap="round" stroke-linejoin="round"/>
<path d="M161.2 127.0 L162.8 126.6 L164.3 126.1 L165.8 125.5 L167.3 125.0 L168.8 124.5 L170.4 124.3 L172.0 124.0 M165.9 131.1 L167.5 130.9 L169.1 131.0 L170.7 131.1 L172.3 131.2 L173.9 131.1 L175.4 130.6 M153.4 119.1 L154.8 118.5 L156.4 118.2 L158.0 118.2 L159.6 118.3 L161.2 118.6 L162.7 118.3" fill="none" stroke="#e8700c" stroke-width="0.9" stroke-linecap="round" stroke-linejoin="round"/>
<path d="M175.4 127.2 L177.0 127.4 L178.4 126.6 L179.7 125.6 L181.2 125.4 L182.6 124.5 L184.1 124.2 L185.6 123.5 L187.1 123.1 M141.5 125.4 L143.0 125.1 L144.6 125.4 L146.0 126.1 L147.4 127.0 M133.6 125.6 L134.9 124.7 L136.3 123.8 L137.8 123.5 L139.0 122.4 L140.2 121.3 L141.3 120.2 L142.4 119.1 L143.2 117.7" fill="none" stroke="#e8700c" stroke-width="0.6" stroke-linecap="round" stroke-linejoin="round"/>
<path d="M114.3 120.1 L115.9 120.0 L117.5 120.3 L119.1 119.9 L120.7 119.9 L122.2 120.3 M167.8 122.7 L169.2 123.4 L170.6 124.2 L172.2 124.6 L173.7 125.1 M164.9 129.8 L166.5 129.3 L168.0 128.9 L169.3 127.9 L170.9 128.1 L172.5 128.3 M172.6 110.3 L174.2 110.1 L175.8 110.0 L177.2 110.7 L178.7 110.4 L180.1 109.6 L181.7 109.4 L183.3 109.2 M162.8 120.0 L164.4 120.0 L165.8 119.4 L167.4 118.9 L168.9 118.3 L170.3 117.7 L171.9 117.3 L173.3 116.5" fill="none" stroke="#f09018" stroke-width="0.6" stroke-linecap="round" stroke-linejoin="round"/>
<path d="M174.5 117.2 L176.1 116.8 L177.6 116.4 L179.2 116.4 L180.8 116.6 L182.3 117.1 L183.8 117.6 M116.3 122.2 L117.7 121.5 L119.3 121.5 L120.9 121.5 L122.5 121.2 L124.1 120.9 L125.7 120.8 L127.3 120.9 L128.9 121.1 M172.7 108.6 L174.2 108.1 L175.7 107.5 L177.3 107.8 L178.8 108.3 M170.7 109.5 L172.0 108.5 L173.4 107.7 L174.4 106.5 L175.2 105.1 L176.5 104.1 L177.7 103.1 M149.0 116.1 L150.6 115.8 L152.0 115.0 L152.9 113.7 L154.3 113.0 L155.9 113.4 M157.5 126.8 L159.1 126.7 L160.7 126.4 L162.3 126.3 L163.9 126.1 L165.4 126.5 L167.0 126.3 L168.6 125.9 L170.1 125.4 L171.5 124.7 M147.5 119.7 L149.0 120.1 L150.6 119.8 L152.2 119.6 L153.8 119.8 L155.4 120.1 L156.8 120.7 L158.3 121.2 L159.9 121.4 M106.7 123.4 L108.2 123.8 L109.8 124.2 L111.4 124.4 L112.9 124.5 L114.4 123.8" fill="none" stroke="#f09018" stroke-width="0.7" stroke-linecap="round" stroke-linejoin="round"/>
<path d="M163.2 114.7 L164.7 115.3 L166.3 115.7 L167.8 116.2 L169.1 117.2 L170.6 117.6 L172.2 117.6 M121.8 123.0 L122.8 124.2 L123.9 125.4 L125.5 125.7 L127.1 125.9 M142.9 126.2 L144.4 126.6 L146.0 126.6 L147.6 126.8 L149.2 127.1 L150.7 126.9 L152.3 126.4 L153.8 126.1 M188.1 112.6 L189.5 111.9 L191.1 111.9 L192.7 112.2 L194.1 112.8 L195.6 113.4 L197.2 113.6 L198.6 112.8 L200.2 113.0 M120.9 125.2 L121.9 126.4 L123.4 127.1 L125.0 127.0 L126.6 127.2 L128.1 126.7 L129.7 126.8 M156.8 120.8 L158.4 120.6 L159.9 121.1 L161.5 121.5 L163.1 121.4" fill="none" stroke="#e05c08" stroke-width="0.7" stroke-linecap="round" stroke-linejoin="round"/>
<path d="M161.9 129.4 L163.4 129.0 L164.9 128.4 L166.2 127.4 L167.1 126.1 L168.3 125.0 L169.8 124.4 L171.3 124.0 L172.9 124.2 L174.5 123.8 M119.4 122.0 L120.8 121.3 L122.4 121.2 L124.0 121.0 L125.6 120.7 M166.4 114.7 L167.9 114.1 L169.4 113.6 L171.0 113.4 L172.6 113.4 L174.1 112.9" fill="none" stroke="#f09018" stroke-width="0.9" stroke-linecap="round" stroke-linejoin="round"/>
<path d="M177.5 116.3 L179.1 116.6 L180.7 116.5 L182.3 116.8 L183.7 117.4 L184.9 116.3 L186.2 115.4 L187.3 114.2 L188.2 112.9 L189.7 112.5 M152.0 124.1 L153.6 124.0 L155.2 123.9 L156.7 123.4 L158.3 123.3 L159.6 122.3 L160.8 121.3 L162.3 120.8 L163.9 120.4 M168.3 128.0 L169.8 127.5 L171.4 127.5 L172.9 127.8 L174.5 128.2 L176.1 128.4 M142.0 121.9 L143.4 122.8 L144.6 123.8 L145.9 124.6 L147.5 124.8" fill="none" stroke="#f09018" stroke-width="0.8" stroke-linecap="round" stroke-linejoin="round"/>
<path d="M153.9 115.9 L155.4 115.2 L157.0 115.0 L158.5 114.5 L160.0 114.0 M164.9 121.1 L166.5 121.2 L168.1 121.3 L169.7 121.2 M157.8 112.8 L159.3 112.2 L159.9 110.7 L160.2 109.1 L161.6 108.3 L163.1 107.8 L164.4 106.9 M153.3 125.4 L154.8 125.8 L156.0 126.9 L157.4 127.7 L158.8 128.5 L159.8 129.7 L160.8 131.0 L162.0 132.0" fill="none" stroke="#e05c08" stroke-width="0.8" stroke-linecap="round" stroke-linejoin="round"/>
<path d="M181.6 121.7 L183.1 122.1 L184.6 122.7 L185.9 123.7 M178.5 114.1 L180.1 114.4 L181.5 113.7 L182.7 112.6 L183.5 111.2 L184.7 110.1 M146.8 126.4 L148.3 126.6 L149.4 127.8 L150.8 128.6 L152.4 128.9 L154.0 129.0 L155.6 129.1 L156.9 130.0 M173.7 110.1 L175.2 110.5 L176.5 111.5 L178.0 112.1 L179.6 112.2 L181.0 112.9 L182.3 113.9 M156.9 130.0 L158.5 130.4 L160.1 130.4 L161.6 130.8 L163.2 130.7 L164.8 130.5 L166.3 129.9 L167.9 130.2" fill="none" stroke="#f09018" stroke-width="0.5" stroke-linecap="round" stroke-linejoin="round"/>
<path d="M174.6 127.3 L176.1 127.1 L177.6 126.4 L179.1 126.9" fill="none" stroke="#e8700c" stroke-width="0.5" stroke-linecap="round" stroke-linejoin="round"/>
<path d="M117.1 124.1 L118.7 124.1 L120.3 123.7 L121.7 123.0 L122.7 121.8 L124.1 120.9 L124.9 119.5" fill="none" stroke="#e05c08" stroke-width="0.5" stroke-linecap="round" stroke-linejoin="round"/>
<path d="M158.2 126.5 L159.7 125.8 L161.1 125.0 L162.6 124.6 L164.1 125.3 M123.7 123.0 L124.9 122.0 L126.3 121.1 L127.4 120.0 M183.0 111.5 L184.4 112.3 L186.0 112.5 L187.6 112.7 M178.2 124.9 L179.8 125.1 L181.4 124.8 L182.8 124.1 L184.4 124.0 M144.8 117.7 L146.3 117.9 L147.9 117.8 L149.4 117.0 M113.8 124.3 L115.3 124.8 L116.6 125.7 L118.1 126.3 M157.9 113.9 L159.5 114.0 L160.7 115.1 L162.0 115.9" fill="none" stroke="#f8c030" stroke-width="0.5" stroke-linecap="round" stroke-linejoin="round"/>
<path d="M159.1 115.9 L160.3 116.9 L161.9 116.9 L163.5 117.2 L165.1 117.4 M176.0 118.7 L177.5 119.1 L179.1 118.9 L180.6 118.3 L182.2 118.2 M155.7 115.1 L157.2 114.7 L158.7 115.3 L160.3 115.4 M173.0 108.5 L174.5 109.0 L176.1 109.1 L177.7 109.2 L178.9 110.3 M133.8 122.1 L135.2 122.9 L136.4 124.0 L137.8 124.7 L138.6 126.2 L139.7 127.3 M142.7 119.2 L144.2 119.8 L145.7 120.3 L147.2 119.7 L148.5 118.9 M175.7 109.3 L177.2 109.0 L178.8 108.7 L180.3 109.1 L181.9 109.6 L183.5 109.9" fill="none" stroke="#f8c030" stroke-width="0.4" stroke-linecap="round" stroke-linejoin="round"/>
<path d="M135.5 127.1 L137.1 126.6 L138.1 127.9 L139.3 129.0 L140.9 129.2 L142.5 129.2 M176.8 117.4 L178.4 117.4 L180.0 117.5 L181.6 117.0" fill="none" stroke="#f8c030" stroke-width="0.6" stroke-linecap="round" stroke-linejoin="round"/>
<path d="M162.5 133.5 L163.4 132.2 L164.6 131.2 L165.9 130.2 L167.5 129.8 M161.8 139.2 L163.4 139.2 L165.0 139.0 L166.5 138.4 L168.0 137.8 M180.4 121.6 L182.0 121.5 L183.5 121.9 L185.0 122.6 L186.6 122.5 M184.7 119.0 L185.9 117.9 L187.1 116.9 L188.6 116.2" fill="none" stroke="#2e8c2a" stroke-width="0.7" stroke-linecap="round" stroke-linejoin="round"/>
<path d="M171.4 141.0 L172.8 140.3 L174.0 139.2 L173.8 137.6 L174.2 136.1 M186.0 114.4 L187.4 113.6 L189.0 113.5 L190.6 113.3 L192.0 112.6 L193.3 111.6 M177.2 132.7 L177.3 131.1 L177.4 129.5 L177.9 128.0 L179.0 126.9" fill="none" stroke="#e8f8c8" stroke-width="0.6" stroke-linecap="round" stroke-linejoin="round"/>
<path d="M170.3 130.5 L171.2 129.2 L172.4 128.1 L173.5 127.0 L174.4 125.6 L175.4 124.4" fill="none" stroke="#2e8c2a" stroke-width="0.5" stroke-linecap="round" stroke-linejoin="round"/>
<path d="M184.3 132.6 L185.2 131.3 L185.5 129.7 L186.6 128.6 L187.8 127.5 M170.9 134.9 L172.5 134.7 L173.8 133.8 L174.8 132.6 L175.1 131.0" fill="none" stroke="#2e8c2a" stroke-width="0.6" stroke-linecap="round" stroke-linejoin="round"/>
<path d="M180.2 122.6 L181.8 122.6 L183.4 123.0 L185.0 122.9 L186.6 122.7" fill="none" stroke="#e8f8c8" stroke-width="0.8" stroke-linecap="round" stroke-linejoin="round"/>
<path d="M172.2 134.5 L173.5 133.4 L174.9 132.7 L176.2 131.9 L177.2 130.6 M176.4 141.5 L178.0 141.7 L179.6 142.0 L181.2 142.0 M161.6 137.6 L163.0 136.8 L164.6 136.8 L166.1 136.6 L167.7 136.9 L169.1 137.8" fill="none" stroke="#e8f8c8" stroke-width="0.7" stroke-linecap="round" stroke-linejoin="round"/>
<path d="M188.9 123.0 L189.7 121.6 L190.7 120.3 L191.8 119.2 M162.7 141.5 L163.9 140.4 L164.8 139.1 L164.9 137.5 L164.8 135.9" fill="none" stroke="#2e8c2a" stroke-width="0.8" stroke-linecap="round" stroke-linejoin="round"/>
<path d="M148.4 129.6 L149.9 129.9 L151.5 129.6 L153.1 129.4 L154.7 129.2 L156.3 129.2 L157.8 128.9 L159.3 129.4 L160.9 129.7 M43.3 62.8 L44.9 62.7 L46.5 62.7 L48.1 62.5 L49.5 63.2 L51.1 63.4 L52.7 63.4 L54.3 63.2 L55.5 62.2 L57.1 61.9 L58.7 62.0 M101.9 90.0 L103.5 90.2 L105.0 90.8 L106.0 92.1 L106.7 93.5 L107.6 94.8 L108.7 96.0" fill="none" stroke="#743018" stroke-width="0.9" stroke-linecap="round" stroke-linejoin="round" opacity="0.55"/>
<path d="M150.3 118.0 L151.9 117.9 L153.5 117.7 L154.8 116.8 L156.4 116.5 L158.0 116.5 L159.6 116.3 L161.1 115.8 L162.7 115.6 L164.3 115.6 M80.5 118.3 L82.0 118.6 L83.6 118.6 L84.8 117.6 L86.1 116.5 L87.6 116.1 L89.1 115.6 L90.6 115.1 L92.2 115.0 M105.0 73.2 L106.5 73.8 L108.0 74.1 L109.6 74.6 L111.2 74.5 M116.1 79.0 L117.7 79.0 L119.2 79.6 L120.4 80.7 L121.6 81.8 L122.9 82.7 L124.3 83.5 M95.2 63.2 L96.8 63.3 L98.3 62.7 L99.9 62.7 L101.2 61.8 L102.8 61.7 L104.4 61.9" fill="none" stroke="#6e2a14" stroke-width="1.0" stroke-linecap="round" stroke-linejoin="round" opacity="0.55"/>
<path d="M105.8 68.4 L107.3 67.9 L108.6 66.9 L110.1 66.4 L111.3 65.4 L112.9 65.1 L114.5 65.2 M153.6 101.6 L155.0 102.4 L156.6 102.6 L158.2 102.7 L159.6 102.0 L161.2 101.9 L162.3 100.8 L163.9 100.7 L165.5 100.6 L167.1 100.4 M140.8 83.2 L142.2 84.0 L143.7 84.3 L145.3 84.1 L146.9 83.8 L148.5 84.0 M102.0 61.9 L103.6 61.5 L104.8 60.4 L105.7 59.2 L107.1 58.3 L108.5 57.6" fill="none" stroke="#6e2a14" stroke-width="1.1" stroke-linecap="round" stroke-linejoin="round" opacity="0.55"/>
<path d="M160.8 94.0 L162.1 94.8 L163.7 95.3 L165.2 95.8 L166.7 96.3 L168.3 96.4 L169.9 96.8 L171.3 97.4 L172.9 97.8 L174.5 98.2 M84.0 76.9 L85.1 78.1 L86.7 78.3 L88.1 79.0 L89.7 79.3 L90.8 78.1 L92.4 77.9 L93.8 77.3 L95.4 77.3 M143.9 105.0 L145.4 105.3 L147.0 105.1 L148.6 105.5 L150.2 105.6 L151.7 105.9 L153.3 106.0 L154.9 106.0 M53.8 84.1 L55.4 84.5 L56.9 85.0 L58.5 85.4 L60.0 85.1 L61.5 84.6 L61.8 83.0" fill="none" stroke="#6a2410" stroke-width="1.4" stroke-linecap="round" stroke-linejoin="round" opacity="0.55"/>
<path d="M64.1 72.7 L65.7 72.8 L67.3 73.0 L68.6 73.9 L69.9 74.9 L71.1 75.9 L72.7 76.0 M72.5 120.3 L73.9 120.9 L75.5 121.3 L77.1 121.3 L78.7 121.3 L80.3 121.1 L81.9 121.1 M70.4 80.4 L71.9 80.6 L73.5 80.4 L75.0 79.8 L76.4 79.1 L78.0 79.3 L79.6 79.1 L81.2 79.2 L82.8 79.6 L83.5 81.0 L84.4 82.4" fill="none" stroke="#743018" stroke-width="1.4" stroke-linecap="round" stroke-linejoin="round" opacity="0.55"/>
<path d="M110.5 91.6 L112.1 92.1 L113.3 93.1 L114.9 93.3 L116.4 93.0 L118.0 92.7 M116.0 83.1 L117.6 83.2 L119.2 83.2 L120.6 83.8 L122.1 84.6 L123.4 85.5 M83.5 69.8 L85.1 69.7 L86.1 70.9 L87.4 71.8 L89.0 72.1 M62.2 93.9 L63.8 93.8 L65.2 93.0 L66.7 92.6 L68.1 91.7 L69.7 91.7 L71.2 92.0 L72.8 91.9 M99.3 93.6 L100.9 93.7 L102.4 93.1 L104.0 92.6 L105.5 93.1 M79.0 113.4 L80.0 112.1 L81.6 112.1 L83.2 112.3 L84.8 112.4 L86.4 112.3 L87.8 111.6 L89.4 111.5" fill="none" stroke="#743018" stroke-width="1.2" stroke-linecap="round" stroke-linejoin="round" opacity="0.55"/>
<path d="M105.0 72.8 L106.5 73.3 L108.1 73.3 L109.7 73.2 L111.0 74.0 L112.6 74.4 M165.9 128.6 L167.2 129.6 L168.8 129.8 L170.3 129.2 L171.8 129.7 L173.4 130.0 M98.0 96.1 L99.6 96.3 L100.9 97.2 L102.4 97.9 L103.7 98.8 L105.2 99.2 L106.6 100.1 L108.1 100.6 L109.7 100.7" fill="none" stroke="#6a2410" stroke-width="1.6" stroke-linecap="round" stroke-linejoin="round" opacity="0.55"/>
<path d="M157.4 130.2 L158.9 129.7 L160.4 129.2 L161.9 128.5 L162.7 127.1 L163.5 125.8 L164.7 124.7 L166.3 124.7 L167.9 124.9 M123.2 77.8 L124.3 79.0 L125.5 80.1 L126.9 80.8 L128.0 82.0 L129.3 82.9 L130.8 83.5 L132.2 84.2 M130.4 108.4 L131.8 109.2 L133.2 110.1 L134.5 110.9 L136.1 111.0 L137.7 111.0 L139.3 110.7 L140.8 110.2 L142.4 110.1 L144.0 110.1 M76.9 102.4 L78.4 102.9 L79.9 103.5 L81.5 104.0 L82.8 104.8 L84.0 105.9 L85.3 106.8 L86.2 108.1 L87.1 109.5" fill="none" stroke="#743018" stroke-width="1.0" stroke-linecap="round" stroke-linejoin="round" opacity="0.55"/>
<path d="M158.6 89.1 L160.1 89.4 L161.7 89.0 L163.1 89.5 L164.7 89.5 L166.3 89.2 L167.8 89.8 L169.4 89.9 L171.0 90.1 M108.5 92.2 L110.1 92.4 L111.4 91.5 L113.0 91.4 L114.6 91.1 L116.0 90.4" fill="none" stroke="#6e2a14" stroke-width="0.9" stroke-linecap="round" stroke-linejoin="round" opacity="0.55"/>
<path d="M33.9 85.9 L35.5 86.1 L37.1 86.5 L38.5 87.1 L39.7 88.2 L41.1 89.0 M107.0 128.5 L108.3 129.4 L109.7 130.3 L111.2 130.6 L112.6 131.5 L114.0 132.3 L115.5 132.7 L117.0 133.4 L118.4 134.0 L120.0 134.0 M25.2 77.4 L26.3 78.6 L27.5 79.6 L28.9 80.2 L30.4 81.0 L31.9 81.2 L33.4 81.9 L34.9 82.3 L36.4 82.9 M36.2 61.1 L37.7 61.7 L39.1 62.3 L40.4 63.3 L41.9 63.9 L43.4 64.5 L44.9 64.9 L46.5 65.3 L47.2 66.7" fill="none" stroke="#743018" stroke-width="1.5" stroke-linecap="round" stroke-linejoin="round" opacity="0.55"/>
<path d="M98.3 93.6 L99.2 94.9 L100.2 96.2 L101.7 96.5 L103.3 96.8 L104.9 97.0 L106.5 97.4 L108.0 97.1 L109.0 95.8 L110.4 95.0 M21.2 84.8 L22.7 85.2 L24.0 86.2 L25.1 87.4 L26.0 88.7 L27.5 89.3 L28.6 90.5 L29.8 91.5 L31.1 92.5 L32.6 92.8 L33.8 93.9 M172.0 88.8 L173.6 89.0 L175.1 88.9 L176.7 89.4 L178.3 89.4 L179.7 88.7 L180.6 87.4 L182.1 86.7 L183.6 87.1 L185.2 86.8" fill="none" stroke="#6a2410" stroke-width="1.2" stroke-linecap="round" stroke-linejoin="round" opacity="0.55"/>
<path d="M99.2 125.4 L100.3 126.6 L101.7 127.5 L102.6 128.8 L103.3 130.2 L104.6 131.2 L105.6 132.4 L107.1 131.9 L108.7 132.3 L110.3 132.2 L111.8 132.6 M28.6 89.3 L30.2 89.1 L31.8 89.0 L33.4 88.8 L34.9 89.1 L36.4 89.7 M96.1 98.4 L97.7 98.1 L99.1 97.4 L100.5 96.7 L102.1 96.8 L103.7 97.0 L105.3 96.6 L106.8 96.5 M64.7 111.3 L66.1 112.0 L67.6 112.7 L69.0 113.4 L70.6 113.3 L72.1 113.0 L73.7 113.3 L75.2 112.7 L76.3 111.6 L77.7 110.8" fill="none" stroke="#6e2a14" stroke-width="1.2" stroke-linecap="round" stroke-linejoin="round" opacity="0.55"/>
<path d="M106.1 111.6 L107.7 112.0 L108.9 113.0 L110.5 113.2 L111.9 113.9 L113.4 114.4 M60.9 96.4 L62.5 96.3 L64.1 96.6 L65.6 97.1 L67.2 97.2 L68.4 96.1 L70.0 95.7 L71.5 96.2 L73.0 96.7 L74.3 97.6 L75.0 99.0" fill="none" stroke="#6a2410" stroke-width="0.9" stroke-linecap="round" stroke-linejoin="round" opacity="0.55"/>
<path d="M98.9 116.9 L100.5 116.9 L102.1 116.5 L103.5 115.7 L104.3 114.3 L105.3 113.1 L106.8 112.9 L108.4 113.3 M116.4 103.6 L117.1 102.2 L118.1 100.9 L119.6 100.4 L121.0 101.1 M54.9 63.6 L56.5 63.8 L58.1 64.0 L59.4 64.9 L61.0 65.1 L62.6 65.1 L64.1 64.4 L65.7 64.3 L67.1 63.6 L68.6 63.7 L70.1 63.1 M159.8 129.9 L161.2 130.7 L162.6 131.2 L164.2 131.5 L165.8 131.4 M66.7 101.9 L68.3 101.6 L69.7 102.3 L71.2 102.7 L72.8 103.1 L74.3 102.5 L75.8 103.0 L77.4 103.2 L78.9 102.8 M128.4 73.2 L130.0 73.0 L131.3 72.1 L132.6 71.3 L133.9 70.3 L135.5 69.9 L137.1 70.1 L138.6 70.5 L140.2 70.7 L141.8 70.4 L142.9 69.2" fill="none" stroke="#6e2a14" stroke-width="1.5" stroke-linecap="round" stroke-linejoin="round" opacity="0.55"/>
<path d="M113.1 129.2 L114.7 129.1 L116.3 129.0 L117.7 128.3 L119.3 128.4 L120.9 128.4 L122.5 128.4 L123.9 129.2 L125.5 129.2 L127.0 129.8 L128.2 130.9 M86.9 126.8 L88.3 126.1 L89.9 125.7 L91.5 125.4 L93.1 125.3 L94.6 125.8 L96.0 126.5 L97.6 126.8 L99.1 127.2 M120.5 63.3 L122.0 63.7 L123.1 64.9 L123.8 66.3 L124.4 67.8 L125.5 68.9 L126.9 69.8 L128.2 70.7 L129.7 71.2 L130.8 72.4 L131.9 73.5" fill="none" stroke="#743018" stroke-width="1.6" stroke-linecap="round" stroke-linejoin="round" opacity="0.55"/>
<path d="M120.3 122.7 L121.8 123.2 L123.1 124.1 L124.6 124.7 L126.2 124.6 L127.7 125.1 M91.7 52.6 L93.3 52.5 L94.4 51.3 L95.2 50.0 L96.6 49.3 L98.2 49.0 L99.8 48.7 M117.6 71.0 L119.1 71.7 L120.3 72.7 L121.8 73.4 L123.3 73.7" fill="none" stroke="#6a2410" stroke-width="0.8" stroke-linecap="round" stroke-linejoin="round" opacity="0.55"/>
<path d="M38.2 60.7 L39.7 60.0 L40.6 58.7 L41.3 57.3 L42.4 56.1 L43.8 55.4 L45.4 55.4 L47.0 55.0 L48.6 54.7 M99.4 124.9 L101.0 125.1 L101.7 123.6 L102.9 122.6 L103.5 121.1 L105.1 120.8 L106.7 120.5 L108.3 120.5 L109.9 120.2 M60.6 79.1 L62.2 78.9 L63.7 79.3 L65.3 78.8 L66.8 78.5 M157.6 122.7 L159.2 122.4 L160.7 121.7 L162.2 121.8 L163.8 121.5 L165.4 121.4 L167.0 121.5 L168.6 121.5 L170.2 121.5 M169.8 111.3 L171.3 111.7 L172.9 112.1 L174.4 112.6 L175.9 113.1" fill="none" stroke="#6a2410" stroke-width="1.5" stroke-linecap="round" stroke-linejoin="round" opacity="0.55"/>
<path d="M75.2 97.4 L76.8 97.0 L78.2 96.4 L79.8 96.0 L81.3 96.6 L82.9 96.7 L84.5 96.8 L85.9 97.5 M121.6 63.4 L123.0 62.8 L124.6 62.6 L126.2 62.4 L127.6 61.7 L129.2 61.7 L130.8 61.3 L132.1 60.4" fill="none" stroke="#743018" stroke-width="1.3" stroke-linecap="round" stroke-linejoin="round" opacity="0.55"/>
<path d="M186.5 133.6 L188.1 133.6 L189.6 134.2 L191.2 134.5 L192.7 134.8 M117.9 87.3 L119.4 86.7 L121.0 86.6 L122.4 87.4 L123.9 87.1 L125.3 86.2 L126.4 85.2 L127.9 84.5 L129.4 84.0 L131.0 83.7 M83.3 120.2 L84.9 120.3 L86.5 120.4 L88.0 121.0 L89.4 121.8 L90.9 121.6 L92.5 122.0 L94.1 122.2 M130.0 111.0 L131.6 111.0 L133.1 111.5 L134.6 111.9 L135.8 113.0 L137.4 113.2 L138.8 112.3" fill="none" stroke="#6a2410" stroke-width="1.0" stroke-linecap="round" stroke-linejoin="round" opacity="0.55"/>
<path d="M150.4 133.6 L151.8 134.4 L153.1 135.3 L154.4 136.3 L155.9 136.5 M63.4 77.7 L64.8 77.0 L66.3 77.5 L67.8 77.9 L69.4 77.9 L71.0 77.3 L72.5 77.3 L74.1 77.3 L75.7 77.2 L77.3 76.9 L78.9 77.4 M103.9 124.3 L104.8 125.5 L106.3 126.3 L107.8 126.6 L109.4 126.6 M142.2 119.4 L143.7 119.0 L145.3 118.7 L146.8 119.1 L148.4 119.6 L149.8 120.4 L151.1 119.4 L152.1 118.2 L153.6 117.7 L155.1 117.1 L156.4 116.2 M80.3 99.2 L81.9 99.3 L83.5 99.1 L85.1 99.1 L86.5 99.8 L88.1 99.6 L89.7 99.5 L91.1 100.3 M99.9 132.2 L101.0 131.0 L101.8 129.6 L103.3 129.1 L104.9 129.4 L106.5 129.6 L108.0 129.4 M115.8 80.8 L117.2 81.5 L118.7 82.3 L120.1 83.0 L121.6 83.6 L123.2 83.7 L124.5 82.8 L126.1 82.9 L127.4 83.9 L128.9 84.1 L130.2 83.1 M122.4 100.9 L123.9 101.4 L125.3 102.0 L126.7 102.9 L128.1 103.6 L129.5 104.5 L130.3 105.8 L131.7 106.6" fill="none" stroke="#6a2410" stroke-width="1.3" stroke-linecap="round" stroke-linejoin="round" opacity="0.55"/>
<path d="M60.4 111.3 L62.0 111.6 L63.6 111.2 L65.2 111.1 L66.7 110.6 L68.2 110.1 L69.6 109.4 L70.3 107.9 L71.8 107.5 L73.3 106.8" fill="none" stroke="#6e2a14" stroke-width="1.3" stroke-linecap="round" stroke-linejoin="round" opacity="0.55"/>
<path d="M115.1 58.5 L116.7 58.7 L118.2 59.0 L119.7 59.7 L121.3 59.7 L122.9 59.5 L124.2 58.6 M73.7 65.5 L75.2 65.7 L76.8 66.1 L78.4 66.4 L79.9 66.7 M57.9 100.4 L59.5 100.0 L61.0 99.4 L62.5 98.9 L63.9 98.2 L65.5 97.9 L67.0 97.4 L68.6 97.3 L70.2 97.0" fill="none" stroke="#743018" stroke-width="1.1" stroke-linecap="round" stroke-linejoin="round" opacity="0.55"/>
<path d="M112.9 89.2 L114.5 89.4 L116.0 88.8 L117.4 88.0 L119.0 87.8 L120.1 86.7 L121.6 86.2 L123.2 86.1 L124.2 84.8 L125.7 84.2 M118.1 118.5 L119.0 119.8 L120.2 120.9 L121.8 121.1 L123.4 121.4 M151.3 90.4 L152.9 90.7 L154.5 90.6 L156.1 90.6 L157.5 91.2 L159.1 91.7 L160.6 92.1 L162.2 91.6" fill="none" stroke="#6e2a14" stroke-width="1.4" stroke-linecap="round" stroke-linejoin="round" opacity="0.55"/>
<path d="M101.0 113.3 L101.7 114.7 L102.5 116.1 L103.9 117.0 L105.4 117.5 L106.9 118.0 M45.3 98.8 L46.9 98.6 L48.4 99.2 L49.9 99.7 L51.5 99.5 L53.0 99.0 L54.5 98.4 L56.0 97.9" fill="none" stroke="#6e2a14" stroke-width="1.6" stroke-linecap="round" stroke-linejoin="round" opacity="0.55"/>
<path d="M136.8 107.9 L138.4 107.9 L139.9 107.4 L141.2 106.4 L142.8 106.4 L144.4 106.5 M124.4 75.0 L125.9 75.7 L127.3 76.4 L128.6 77.3 L129.9 78.2 L131.3 79.1 L132.7 79.7 L133.9 80.8" fill="none" stroke="#6a2410" stroke-width="1.1" stroke-linecap="round" stroke-linejoin="round" opacity="0.55"/>
<path d="M40.4 89.9 L41.7 90.7 L42.6 92.0 L42.6 93.6 L43.2 95.1 L44.0 96.5 L44.9 97.8 L46.1 98.8 L46.9 100.2 L48.3 101.0 L49.3 102.2" fill="none" stroke="#743018" stroke-width="0.8" stroke-linecap="round" stroke-linejoin="round" opacity="0.55"/>
<path d="M23.5 72.9 L25.1 73.2 L26.3 72.1 L27.8 71.8 L29.3 71.2 L30.9 70.9 M104.4 122.1 L106.0 122.4 L107.6 122.1 L109.1 121.5 L110.5 120.8 L112.1 121.1 L113.4 121.9 L114.6 123.0 L114.7 124.6 M74.0 104.7 L75.5 104.1 L76.9 103.3 L78.5 103.3 L80.0 102.6 L81.5 102.1 L83.1 102.4 M76.0 93.8 L77.3 94.7 L78.9 95.0 L80.5 95.4 L82.0 95.8 L83.5 96.3 L84.8 97.3 L86.3 97.9 L87.8 98.3" fill="none" stroke="#9a1602" stroke-width="1.1" stroke-linecap="round" stroke-linejoin="round" opacity="0.55"/>
<path d="M165.9 133.0 L167.3 132.3 L168.8 131.7 L169.9 130.5 L171.2 129.5 L172.6 128.8 L174.0 128.0 L174.9 126.7 L176.4 126.1 L178.0 125.7 L179.5 126.0 M24.8 101.2 L26.1 102.2 L27.4 103.1 L28.7 104.1 L29.3 105.6 L30.4 106.8 L31.9 107.4 M79.3 91.3 L80.8 91.9 L82.3 92.3 L83.9 92.2 L85.5 92.2" fill="none" stroke="#a01a04" stroke-width="1.3" stroke-linecap="round" stroke-linejoin="round" opacity="0.55"/>
<path d="M122.8 93.4 L124.3 93.9 L125.9 93.4 L127.5 93.3 L128.9 94.1 L130.2 95.0 L131.7 95.5 L133.3 95.4 L134.8 94.8 M81.2 98.1 L82.8 98.4 L84.2 97.6 L85.7 97.3 L87.3 97.4 L88.9 97.1 L90.5 97.2 M93.8 77.1 L95.4 77.0 L97.0 77.2 L98.5 77.8 L100.1 77.8 L101.7 78.1 L103.3 78.0 L104.7 77.3 L106.2 76.7 L107.7 76.1 L109.3 76.1 M172.4 97.3 L173.5 98.5 L174.6 99.6 L176.2 99.4 L177.7 98.9 M117.5 95.2 L119.0 95.4 L120.4 96.2 L121.7 97.2 L122.5 98.5 L124.0 99.2 L125.6 99.5 L127.1 99.2 L128.7 99.1 L130.1 99.9 L131.6 100.5 M41.9 70.8 L43.5 70.4 L44.9 69.8 L46.5 69.5 L48.1 69.4 M104.0 90.4 L105.6 90.2 L107.1 90.9 L108.3 91.9 L109.5 92.9 L111.1 92.9 L112.7 92.8 L114.3 92.6 L115.8 92.1 L117.3 92.6" fill="none" stroke="#a01a04" stroke-width="1.0" stroke-linecap="round" stroke-linejoin="round" opacity="0.55"/>
<path d="M171.8 88.1 L173.0 89.1 L174.6 89.0 L176.2 89.4 L177.6 88.7 L179.2 88.3 L180.7 88.9 L181.7 90.1 L183.2 90.8 L184.4 91.8 M63.7 90.0 L65.2 90.6 L66.8 90.8 L68.4 90.9 L70.0 90.6 L71.6 90.8 L73.2 90.5 L74.6 89.8 L76.1 89.2 L77.6 89.5 L79.2 89.1 M97.4 117.9 L99.0 117.9 L100.4 117.1 L102.0 116.8 L103.6 116.6 L105.1 117.1 L106.7 116.9 L108.3 116.7 L109.8 117.2 M50.5 78.8 L51.9 79.6 L53.2 80.5 L54.5 81.5 L55.1 83.0 L56.0 84.2 M152.0 92.8 L153.6 92.8 L155.1 92.3 L156.6 91.7 L158.2 91.6 L159.8 91.6 L161.3 92.2 L162.9 92.0 L164.4 92.5 L166.0 92.6 M109.4 76.4 L111.0 76.3 L112.5 75.8 L114.1 76.0 L115.6 76.6 L116.8 77.7 M108.2 52.7 L109.7 53.3 L111.0 54.3 L111.9 55.6 L113.2 56.5 L114.7 56.9 L116.3 56.6 L117.9 56.5 M78.0 87.2 L79.5 86.6 L80.6 87.8 L81.5 89.1 L82.0 90.6 L83.3 91.5 L84.6 92.5 L85.6 93.8 L87.2 93.8" fill="none" stroke="#9a1602" stroke-width="0.9" stroke-linecap="round" stroke-linejoin="round" opacity="0.55"/>
<path d="M103.1 94.0 L104.1 95.2 L105.7 95.5 L107.0 96.4 L107.9 97.8 L109.4 98.1 L110.5 99.3 M60.6 90.2 L62.1 90.9 L63.6 91.3 L64.9 92.1 L66.3 93.0" fill="none" stroke="#9a1602" stroke-width="1.5" stroke-linecap="round" stroke-linejoin="round" opacity="0.55"/>
<path d="M46.8 90.4 L48.2 89.7 L49.8 89.5 L51.4 89.7 L52.9 90.3 L54.4 90.8 L55.9 91.4 L57.5 91.5 L58.7 90.5 M84.8 100.6 L86.4 100.6 L87.9 101.1 L89.2 102.0 L90.7 102.7 M107.4 120.4 L109.0 120.4 L110.4 119.5 L111.9 119.7 L113.5 120.1 L115.0 120.7 L116.5 121.2 L117.8 122.1 M90.2 78.0 L91.7 78.3 L93.3 78.0 L94.8 78.6 L96.3 79.3 L97.8 79.6 M49.9 59.0 L51.1 60.0 L52.6 60.5 L54.2 60.8 L55.5 61.8 L57.0 62.4 L58.4 63.0 L60.0 63.5 L61.5 64.1" fill="none" stroke="#9a1602" stroke-width="1.0" stroke-linecap="round" stroke-linejoin="round" opacity="0.55"/>
<path d="M100.2 54.1 L101.8 54.0 L103.4 53.8 L105.0 54.0 L106.5 53.4 L108.1 53.6 L109.7 53.4 L111.0 52.6 L112.5 52.1 L113.9 51.3 M124.9 94.4 L126.5 94.9 L127.9 95.5 L128.8 96.8 L130.2 97.6 L131.8 97.8 L133.4 97.8 L135.0 97.8 L136.5 98.2 L138.1 98.1 M115.0 68.2 L116.2 69.2 L117.5 70.2 L119.0 70.8 L120.5 70.4 L122.1 70.4 L123.6 70.9 L125.1 71.5 M151.5 96.4 L153.1 96.1 L154.7 96.0 L156.2 96.5 L157.7 96.9 L159.3 96.5 L160.9 96.6 M146.4 117.2 L146.5 118.8 L147.2 120.3 L148.5 121.1 L149.8 122.1 L150.7 123.5 L151.8 124.5 L153.2 125.4 M53.1 67.3 L54.7 67.4 L56.2 68.0 L57.4 69.0 L58.9 69.6 L60.2 70.5 L61.8 70.6 L63.4 70.6 L65.0 71.0" fill="none" stroke="#a01a04" stroke-width="1.2" stroke-linecap="round" stroke-linejoin="round" opacity="0.55"/>
<path d="M122.8 50.1 L124.3 50.6 L125.8 51.1 L127.0 52.2 L128.3 53.1 M89.1 79.0 L90.6 78.6 L91.4 80.0 L92.5 81.2 L93.9 82.0 L94.8 83.3 L96.4 83.4 L98.0 83.2 L99.6 83.6 M26.6 69.8 L28.2 69.9 L29.2 71.1 L30.3 72.3 L31.1 73.7 L31.9 75.0 M165.4 87.7 L166.7 88.7 L168.2 89.1 L169.4 90.2 L170.9 90.7 L172.3 91.5 L173.0 92.9 L174.4 93.7 L176.0 93.7 L177.6 93.9 M62.5 107.4 L63.4 108.7 L64.5 109.8 L65.8 110.8 L66.6 112.2 L68.1 112.8 L69.3 113.8 L70.8 114.5 L72.4 114.6 L73.8 115.4 L75.2 116.0 M156.5 95.0 L158.0 94.6 L159.5 94.0 L160.8 93.0 L162.3 92.6 M87.6 72.6 L89.1 72.9 L90.7 72.8 L92.1 71.9 L93.2 70.8 L94.5 69.9 L96.0 69.4 L97.6 69.5 L99.2 69.2 L100.8 69.5 L102.4 69.6" fill="none" stroke="#a01a04" stroke-width="1.4" stroke-linecap="round" stroke-linejoin="round" opacity="0.55"/>
<path d="M149.9 108.2 L151.4 108.5 L153.0 108.2 L154.6 108.3 L155.7 109.4 L156.3 111.0 L157.7 111.6" fill="none" stroke="#9a1602" stroke-width="0.8" stroke-linecap="round" stroke-linejoin="round" opacity="0.55"/>
<path d="M112.8 86.3 L114.3 86.8 L115.9 86.7 L117.3 86.0 L118.9 86.4 L120.2 87.3 L121.8 87.3 L123.3 87.9 L124.9 87.8 L126.3 87.1 M116.4 95.2 L117.7 94.3 L118.8 93.1 L120.2 92.3 L121.8 92.3 L123.4 92.6 L124.3 93.9 L124.5 95.5 L125.5 96.8 L126.9 97.5 L127.8 98.8 M104.1 103.3 L105.7 103.1 L107.3 103.3 L107.8 104.8 L107.7 106.4 L108.2 107.9 L108.1 109.5 M95.2 130.3 L96.7 129.8 L98.0 130.8 L99.4 131.5 L100.8 132.3 L102.4 132.4 L103.8 133.2 L105.2 134.0 L106.7 134.4 L108.1 135.2 L109.7 135.3 M108.6 129.9 L110.1 129.5 L111.6 130.0 L113.2 130.2 L114.7 130.8 M159.7 97.9 L161.2 98.2 L162.8 98.5 L164.4 98.8 L165.8 99.6 L167.2 100.3" fill="none" stroke="#a01a04" stroke-width="0.9" stroke-linecap="round" stroke-linejoin="round" opacity="0.55"/>
<path d="M140.4 92.6 L141.7 93.4 L143.2 93.9 L144.8 94.2 L146.3 94.6 M138.5 91.3 L140.1 91.5 L141.5 90.7 L143.0 90.1 L144.4 89.5 L145.9 88.9 L147.3 89.6 L148.9 90.1 L150.5 90.1 L152.1 90.4" fill="none" stroke="#a01a04" stroke-width="0.8" stroke-linecap="round" stroke-linejoin="round" opacity="0.55"/>
<path d="M47.4 87.3 L49.0 87.6 L50.0 86.3 L50.4 84.8 L51.4 83.5 L52.9 83.1 L54.4 83.7 L54.9 85.2 M132.0 87.9 L133.5 87.4 L135.1 87.1 L136.6 86.7 L138.2 86.6 L139.8 86.2 L141.4 86.0 M66.7 92.4 L68.1 93.0 L69.3 94.1 L69.9 95.6 L70.5 97.0 L70.1 98.6 L69.5 100.1 L69.5 101.7 L69.7 103.2" fill="none" stroke="#9a1602" stroke-width="1.2" stroke-linecap="round" stroke-linejoin="round" opacity="0.55"/>
<path d="M146.7 81.3 L148.0 82.1 L149.5 82.5 L151.1 82.4 L152.7 82.8 L154.2 83.2 L155.4 84.4 L155.8 85.9 L157.0 87.0" fill="none" stroke="#a01a04" stroke-width="1.1" stroke-linecap="round" stroke-linejoin="round" opacity="0.55"/>
<path d="M109.7 108.6 L111.3 108.8 L112.6 107.9 L114.2 107.6 L115.8 107.8 L117.4 107.9 L118.7 107.1 L120.2 107.8 L121.8 108.1 L123.4 107.9 L125.0 107.9 M105.8 78.7 L107.1 79.6 L108.7 79.9 L110.1 80.7 L111.0 81.9 L111.7 83.4 L113.0 84.3 L114.5 83.9 L116.1 83.6 L117.7 83.7" fill="none" stroke="#9a1602" stroke-width="1.4" stroke-linecap="round" stroke-linejoin="round" opacity="0.55"/>
<path d="M69.3 71.8 L70.9 72.1 L72.3 72.9 L73.5 73.9 L74.7 74.9 M166.5 112.7 L168.0 113.3 L169.3 114.2 L170.4 115.4 L171.7 116.2 L173.2 116.9" fill="none" stroke="#9a1602" stroke-width="1.3" stroke-linecap="round" stroke-linejoin="round" opacity="0.55"/>
<path d="M48.9 93.2 L50.5 93.5 L52.1 93.3 L53.6 92.9 L55.2 92.6 L56.8 92.6 L58.4 92.4 L59.9 91.9 L61.5 91.8 L63.0 92.4" fill="none" stroke="#a01a04" stroke-width="1.5" stroke-linecap="round" stroke-linejoin="round" opacity="0.55"/>
<path d="M159.7 117.1 L160.7 115.9 L159.5 114.9 L158.1 114.0 M89.7 56.5 L88.7 55.3 L87.2 55.8 L85.7 56.5 M68.1 70.6 L68.7 72.1 L67.6 73.3 L66.0 73.4" fill="none" stroke="#8a5a48" stroke-width="0.4" stroke-linecap="round" stroke-linejoin="round" opacity="0.7"/>
<path d="M88.9 104.0 L90.1 103.0 L91.4 102.0 L90.8 100.6 M41.9 86.8 L41.2 85.4 L40.3 84.1 M121.3 86.3 L121.4 87.9 L121.5 89.5 M160.4 105.8 L161.7 104.9 L162.3 103.4 M116.9 71.5 L115.3 71.3 L113.7 71.5 M93.0 84.7 L91.7 83.8 L90.1 83.4 L88.5 83.5" fill="none" stroke="#96705c" stroke-width="0.6" stroke-linecap="round" stroke-linejoin="round" opacity="0.7"/>
<path d="M85.4 109.3 L83.9 109.7 L82.3 109.4 M132.2 98.9 L131.0 97.8 L129.4 97.3 L127.9 96.9 M127.2 98.1 L125.9 98.9 L125.0 100.3 M54.2 95.9 L54.9 97.4 L54.0 98.7 M103.7 76.3 L102.7 77.6 L101.4 78.6 M166.4 129.9 L165.5 128.5 L165.3 126.9 L163.8 126.4" fill="none" stroke="#8a5a48" stroke-width="0.5" stroke-linecap="round" stroke-linejoin="round" opacity="0.7"/>
<path d="M78.7 104.3 L77.8 103.0 L76.2 102.8 L74.6 102.8 M154.0 112.7 L152.4 113.0 L150.8 113.2" fill="none" stroke="#96705c" stroke-width="0.4" stroke-linecap="round" stroke-linejoin="round" opacity="0.7"/>
<path d="M169.4 105.3 L169.7 103.7 L168.7 102.5 M120.3 61.1 L120.3 62.7 L120.3 64.3 L121.1 65.6 M80.5 109.0 L81.9 109.8 L83.0 110.9" fill="none" stroke="#96705c" stroke-width="0.5" stroke-linecap="round" stroke-linejoin="round" opacity="0.7"/>
<path d="M102.4 92.4 L102.4 94.0 L101.8 95.5 M83.6 72.6 L82.1 72.1 L80.5 72.5" fill="none" stroke="#8a5a48" stroke-width="0.6" stroke-linecap="round" stroke-linejoin="round" opacity="0.7"/>
<path d="M96.7 93.6 L96.4 92.1 L96.3 90.5 L96.9 89.0 L96.9 87.4 L95.8 86.2 L95.7 84.6 L95.6 83.0 L94.9 81.5 L95.5 80.0 L94.2 79.2 L94.4 77.6 L93.5 76.3 M109.8 75.3 L108.6 74.2 L108.1 72.7 L107.4 71.3 L106.7 69.8 L105.3 69.1 L103.8 68.6 L102.2 68.7 L100.6 69.0 L99.0 69.3 L97.6 70.1 L96.0 70.1 L94.5 69.7 L93.0 69.2 L91.5 68.7 L89.9 68.2 L88.9 67.0 L87.8 65.8 L86.4 65.0 M107.0 57.8 L107.4 56.2 L107.7 54.7 L106.7 53.4 L105.8 52.1 L105.0 50.7 L104.9 49.1 L105.5 47.6 L107.1 47.4 L108.2 46.3 L107.1 45.1 L106.3 43.7 L106.3 42.1 M163.1 124.4 L162.3 123.1 L160.8 123.7 L159.4 122.8 L158.7 124.2 L157.2 124.8 L155.6 124.8 L154.5 123.6 L153.1 122.8 L151.8 122.0 L150.6 123.1 L149.1 123.7 L147.6 124.2 L146.6 122.9 L146.3 121.3 L144.8 121.7 L143.2 121.8 L142.6 123.3 L143.2 124.7 M58.4 84.2 L56.9 84.3 L55.4 84.9 L54.2 86.0 L53.3 87.3 L51.7 87.4 L50.2 87.8 L49.5 86.3 L49.7 84.7 L50.0 83.2 L48.5 82.7 L46.9 82.7 L45.3 82.6 L44.1 83.5 L43.6 85.1 L44.1 86.6 L42.5 86.8 L40.9 86.9 L40.7 88.5 M124.5 118.9 L122.9 119.1 L121.3 119.3 L120.1 120.4 L118.9 121.4 L117.6 120.4 L116.4 119.4 L116.1 117.8 L115.8 116.2 L116.4 114.7 L116.0 113.2 L116.0 111.6 L116.7 110.1 L116.6 108.5 L115.1 107.9 M109.9 105.1 L109.8 106.7 L109.0 108.1 L108.0 109.3 L106.6 110.1 L105.6 108.9 L106.0 107.3 L105.9 105.8 L105.0 104.4 L103.6 103.6 L102.3 102.7 M134.8 110.1 L133.2 109.6 L131.8 108.9 L130.2 109.1 L128.7 109.3 L129.5 110.6 L128.2 111.5 L127.0 112.5 L126.8 114.1 L126.7 115.7 L125.4 116.7 L124.4 117.9 L123.5 119.2 L122.0 119.7 L120.7 120.6 L119.4 119.6 L117.8 119.3 M176.5 116.4 L177.0 117.9 L177.5 119.5 L176.4 120.6 L175.2 121.7 L175.9 123.2 L174.4 123.8 L174.3 125.4 L173.0 126.4 L171.9 127.6 L172.1 129.2 L171.0 130.3 M93.8 70.5 L94.3 72.0 L93.0 72.9 L91.4 73.0 L90.4 71.7 L90.3 70.1 L88.7 70.0 L88.0 68.6 L86.4 68.4 L85.9 66.9 L87.2 66.1 L88.0 64.6 L88.4 63.1 M61.6 58.9 L61.9 60.5 L62.1 62.1 L60.5 62.3 L59.7 63.7 L60.1 65.3 L59.0 66.5 L57.5 65.9 L55.9 66.0 L54.6 65.1 M130.6 118.7 L130.2 117.1 L131.3 115.9 L132.4 114.7 L133.8 113.9 L133.0 112.5 L132.5 111.0 L130.9 110.8 L129.3 110.5 L127.7 110.8 L126.5 111.8 L126.7 113.4 L126.1 114.8 M173.9 94.7 L173.0 93.4 L173.6 91.9 L172.8 90.5 L172.9 88.9 L173.4 87.4 L172.0 86.7 L172.5 85.3 L173.0 83.7 L171.8 82.7 L171.3 81.2 L170.5 79.8 L169.2 79.0 L167.6 78.6 L166.1 78.0 L164.5 77.9 L163.7 79.3 L162.2 79.5 L161.7 81.1 M68.9 75.7 L67.5 75.0 L67.2 73.4 L65.8 72.6 L64.5 71.6 L63.3 70.6 L62.7 69.1 L61.2 68.6 L60.3 67.3 L58.8 66.8 L57.8 68.1 L56.2 68.3 L54.6 68.0 L53.1 67.6 L51.5 67.8" fill="none" stroke="#6a4a40" stroke-width="0.4" stroke-linecap="round" stroke-linejoin="round" opacity="0.8"/>
</g>
<polyline points="279.3,79.1 280.0,83.5 281.5,87.2 285.9,88.0 291.1,85.7 296.3,87.2 299.3,88.7 302.2,90.5 305.2,87.2 311.1,88.7 317.0,90.9 323.0,92.4 328.9,94.6 335.6,97.5 339.3,100.7 338.7,104.4 334.3,106.3 330.5,107.0 325.5,108.2 321.7,110.1 323.0,113.9 324.9,117.7 328.0,121.4 330.5,125.9 332.0,133.3 331.0,140.0 333.0,144.4 333.4,147.0 332.3,150.0 333.0,154.7 331.0,158.0 327.0,159.3 323.7,162.0 319.0,162.0 315.0,164.0 311.7,162.0 308.3,161.3 306.3,164.0 301.7,164.7 299.0,167.3 297.0,168.7 292.3,167.0 288.3,166.7 285.0,168.0 282.3,170.0 283.7,172.0 287.7,172.0 290.3,174.7 296.3,175.3 298.3,177.3 297.7,180.7 293.7,182.7 289.0,183.3 285.0,185.3 280.0,187.8 275.6,190.7 269.6,189.3 265.2,191.5 259.3,189.3 254.8,192.2 251.1,195.2 252.6,199.6 253.3,205.3 248.1,205.6 245.9,201.9 241.5,199.6 237.0,201.9 235.6,198.9 232.6,194.4 227.4,194.4 229.6,189.3 226.7,184.8 223.7,182.6 222.2,176.7 216.3,175.2 212.6,176.7 210.4,173.0 211.1,169.4 213.3,165.0 217.8,159.4 222.2,152.8 222.2,143.9" fill="none" stroke="#4a5a3a" stroke-width="0.45" stroke-linejoin="round"/>
<!-- compass -->
<g>
<text x="333.1" y="8.7" font-size="5.6" font-weight="bold" text-anchor="middle" fill="#333">N</text>
<polygon points="333.1,11 334.6,20.4 344,21.9 334.6,23.4 333.1,33 331.6,23.4 322,21.9 331.6,20.4" fill="#fff" stroke="#222" stroke-width="0.45"/>
<polygon points="333.1,11 333.1,21.9 331.6,20.4" fill="#111"/>
<polygon points="344,21.9 333.1,21.9 334.6,20.4" fill="#111"/>
<polygon points="333.1,33 333.1,21.9 334.6,23.4" fill="#111"/>
<polygon points="322,21.9 333.1,21.9 331.6,23.4" fill="#111"/>
</g>
<!-- scale bar -->
<g fill="none" stroke="#6a6a6a" stroke-width="0.55">
<polyline points="231.6,50 231.6,45.6 237.6,45.6 237.6,50 243.6,50 243.6,45.6 249.6,45.6 249.6,50 255.7,50 255.7,45.6 279.8,45.6 279.8,50 303.9,50 303.9,45.6 328.1,45.6 328.1,50"/>
</g>
<g font-size="7" text-anchor="middle">
<text x="245.1" y="43.9">130</text><text x="278.9" y="43.9">520</text><text x="330" y="43.9">1,040</text>
<text x="230" y="57.6">0</text><text x="255.6" y="57.6">260</text><text x="302.7" y="57.6">780</text>
<text x="330.4" y="50.2" text-anchor="start" font-size="7.4">kilometers</text>
</g>
<!-- map legend -->
<circle cx="4.3" cy="175.9" r="1.85" fill="#111"/>
<text x="10.4" y="179.3" font-size="10">National forest villages in southwestern China</text>
<text x="2" y="194.2" font-size="10">Elevation</text>
<rect x="1" y="205.5" width="16.1" height="17.2" fill="url(#elev)"/>
<path d="M17.6 205.3h1.4M17.6 214h1.4M17.6 222.2h1.4" stroke="#888" stroke-width="0.5"/>
<text x="21.5" y="208.2" font-size="8.6">High:8424</text>
<text x="22.5" y="227" font-size="8.6">Low:77</text>
<rect x="69.6" y="208.2" width="13.2" height="6.5" fill="#fff" stroke="#8a8a8a" stroke-width="0.6"/>
<rect x="69.6" y="217.8" width="13.2" height="6.6" fill="#fff" stroke="#d0d0d0" stroke-width="0.6"/>
<text x="88.9" y="215.3" font-size="10">The third-level watersheds</text>
<text x="87.8" y="224.2" font-size="10">Administrative boundaries</text>
<text x="73.2" y="268.2" font-size="10">(a)Elevation superposition analysis in southwest China</text>
<!-- CHART -->
<line x1="387" y1="193.28" x2="678" y2="193.28" stroke="#dcdcdc" stroke-width="0.9"/>
<line x1="387" y1="162.26" x2="678" y2="162.26" stroke="#dcdcdc" stroke-width="0.9"/>
<line x1="387" y1="131.24" x2="678" y2="131.24" stroke="#dcdcdc" stroke-width="0.9"/>
<line x1="387" y1="100.22" x2="678" y2="100.22" stroke="#dcdcdc" stroke-width="0.9"/>
<line x1="387" y1="69.20" x2="678" y2="69.20" stroke="#dcdcdc" stroke-width="0.9"/>
<line x1="387" y1="38.18" x2="678" y2="38.18" stroke="#dcdcdc" stroke-width="0.9"/>
<rect x="386.91" y="222.75" width="5.85" height="1.55" fill="#3a5788"/>
<rect x="399.87" y="174.67" width="5.85" height="49.63" fill="#9cc3df"/>
<rect x="406.35" y="44.38" width="5.85" height="179.92" fill="#9c4118"/>
<rect x="412.82" y="42.83" width="5.85" height="181.47" fill="#9c4118"/>
<rect x="419.31" y="126.59" width="5.85" height="97.71" fill="#fde197"/>
<rect x="425.79" y="125.04" width="5.85" height="99.26" fill="#fde197"/>
<rect x="432.26" y="97.12" width="5.85" height="127.18" fill="#fb9664"/>
<rect x="438.75" y="148.30" width="5.85" height="76.00" fill="#dae8f3"/>
<rect x="445.23" y="109.53" width="5.85" height="114.77" fill="#fb9664"/>
<rect x="451.70" y="146.75" width="5.85" height="77.55" fill="#dae8f3"/>
<rect x="458.19" y="142.10" width="5.85" height="82.20" fill="#dae8f3"/>
<rect x="464.67" y="151.40" width="5.85" height="72.90" fill="#dae8f3"/>
<rect x="471.15" y="135.89" width="5.85" height="88.41" fill="#dae8f3"/>
<rect x="477.62" y="157.61" width="5.85" height="66.69" fill="#9cc3df"/>
<rect x="484.11" y="152.95" width="5.85" height="71.35" fill="#dae8f3"/>
<rect x="490.58" y="188.63" width="5.85" height="35.67" fill="#4d7cbd"/>
<rect x="497.06" y="177.77" width="5.85" height="46.53" fill="#9cc3df"/>
<rect x="503.55" y="173.12" width="5.85" height="51.18" fill="#9cc3df"/>
<rect x="510.03" y="185.53" width="5.85" height="38.77" fill="#4d7cbd"/>
<rect x="516.51" y="199.48" width="5.85" height="24.82" fill="#4d7cbd"/>
<rect x="522.99" y="196.38" width="5.85" height="27.92" fill="#4d7cbd"/>
<rect x="529.47" y="197.93" width="5.85" height="26.37" fill="#4d7cbd"/>
<rect x="535.95" y="201.04" width="5.85" height="23.27" fill="#4d7cbd"/>
<rect x="542.43" y="205.69" width="5.85" height="18.61" fill="#3a5788"/>
<rect x="548.91" y="216.55" width="5.85" height="7.75" fill="#3a5788"/>
<rect x="555.38" y="216.55" width="5.85" height="7.75" fill="#3a5788"/>
<rect x="561.87" y="218.10" width="5.85" height="6.20" fill="#3a5788"/>
<rect x="568.35" y="222.75" width="5.85" height="1.55" fill="#3a5788"/>
<rect x="574.83" y="211.89" width="5.85" height="12.41" fill="#3a5788"/>
<rect x="581.31" y="219.65" width="5.85" height="4.65" fill="#3a5788"/>
<rect x="587.79" y="213.44" width="5.85" height="10.86" fill="#3a5788"/>
<rect x="594.27" y="219.65" width="5.85" height="4.65" fill="#3a5788"/>
<rect x="600.75" y="218.10" width="5.85" height="6.20" fill="#3a5788"/>
<rect x="607.23" y="219.65" width="5.85" height="4.65" fill="#3a5788"/>
<rect x="613.71" y="221.20" width="5.85" height="3.10" fill="#3a5788"/>
<rect x="620.19" y="219.65" width="5.85" height="4.65" fill="#3a5788"/>
<rect x="626.67" y="222.75" width="5.85" height="1.55" fill="#3a5788"/>
<rect x="633.15" y="219.65" width="5.85" height="4.65" fill="#3a5788"/>
<rect x="639.62" y="222.75" width="5.85" height="1.55" fill="#3a5788"/>
<rect x="646.11" y="222.75" width="5.85" height="1.55" fill="#3a5788"/>
<rect x="659.07" y="222.75" width="5.85" height="1.55" fill="#3a5788"/>
<rect x="665.55" y="222.75" width="5.85" height="1.55" fill="#3a5788"/>
<rect x="672.03" y="222.75" width="5.85" height="1.55" fill="#3a5788"/>
<line x1="383.20000000000005" y1="224.30" x2="386.6" y2="224.30" stroke="#222" stroke-width="0.8"/>
<text x="380.4" y="227.40" font-size="8" text-anchor="end">0</text>
<line x1="384.6" y1="208.79" x2="386.6" y2="208.79" stroke="#222" stroke-width="0.8"/>
<line x1="383.20000000000005" y1="193.28" x2="386.6" y2="193.28" stroke="#222" stroke-width="0.8"/>
<text x="380.4" y="196.38" font-size="8" text-anchor="end">20</text>
<line x1="384.6" y1="177.77" x2="386.6" y2="177.77" stroke="#222" stroke-width="0.8"/>
<line x1="383.20000000000005" y1="162.26" x2="386.6" y2="162.26" stroke="#222" stroke-width="0.8"/>
<text x="380.4" y="165.36" font-size="8" text-anchor="end">40</text>
<line x1="384.6" y1="146.75" x2="386.6" y2="146.75" stroke="#222" stroke-width="0.8"/>
<line x1="383.20000000000005" y1="131.24" x2="386.6" y2="131.24" stroke="#222" stroke-width="0.8"/>
<text x="380.4" y="134.34" font-size="8" text-anchor="end">60</text>
<line x1="384.6" y1="115.73" x2="386.6" y2="115.73" stroke="#222" stroke-width="0.8"/>
<line x1="383.20000000000005" y1="100.22" x2="386.6" y2="100.22" stroke="#222" stroke-width="0.8"/>
<text x="380.4" y="103.32" font-size="8" text-anchor="end">80</text>
<line x1="384.6" y1="84.71" x2="386.6" y2="84.71" stroke="#222" stroke-width="0.8"/>
<line x1="383.20000000000005" y1="69.20" x2="386.6" y2="69.20" stroke="#222" stroke-width="0.8"/>
<text x="380.4" y="72.30" font-size="8" text-anchor="end">100</text>
<line x1="384.6" y1="53.69" x2="386.6" y2="53.69" stroke="#222" stroke-width="0.8"/>
<line x1="383.20000000000005" y1="38.18" x2="386.6" y2="38.18" stroke="#222" stroke-width="0.8"/>
<text x="380.4" y="41.28" font-size="8" text-anchor="end">120</text>
<line x1="415.75" y1="224" x2="415.75" y2="226" stroke="#222" stroke-width="0.8"/>
<line x1="448.15" y1="224" x2="448.15" y2="227.4" stroke="#222" stroke-width="0.8"/>
<text x="448.15" y="237.8" font-size="8" text-anchor="middle">1000</text>
<line x1="480.55" y1="224" x2="480.55" y2="226" stroke="#222" stroke-width="0.8"/>
<line x1="512.95" y1="224" x2="512.95" y2="227.4" stroke="#222" stroke-width="0.8"/>
<text x="512.95" y="237.8" font-size="8" text-anchor="middle">2000</text>
<line x1="545.35" y1="224" x2="545.35" y2="226" stroke="#222" stroke-width="0.8"/>
<line x1="577.75" y1="224" x2="577.75" y2="227.4" stroke="#222" stroke-width="0.8"/>
<text x="577.75" y="237.8" font-size="8" text-anchor="middle">3000</text>
<line x1="610.15" y1="224" x2="610.15" y2="226" stroke="#222" stroke-width="0.8"/>
<line x1="642.55" y1="224" x2="642.55" y2="227.4" stroke="#222" stroke-width="0.8"/>
<text x="642.55" y="237.8" font-size="8" text-anchor="middle">4000</text>
<line x1="674.95" y1="224" x2="674.95" y2="226" stroke="#222" stroke-width="0.8"/>
<line x1="386.65" y1="22.4" x2="386.65" y2="224.6" stroke="#2a2a2a" stroke-width="1"/>
<line x1="386.2" y1="224.1" x2="678" y2="224.1" stroke="#2a2a2a" stroke-width="1"/>
<line x1="417.8" y1="42.4" x2="427.8" y2="35.6" stroke="#555" stroke-width="0.5"/>
<text x="429.6" y="33.2" font-size="8.6">(500,117)</text>
<line x1="580.6" y1="211.2" x2="595" y2="206.6" stroke="#555" stroke-width="0.5"/>
<text x="596" y="203.8" font-size="8.6">(3000,8)</text>
<text transform="translate(364.4,127.6) rotate(-90)" font-size="10" text-anchor="middle">Number of villages</text>
<text x="531.6" y="251.2" font-size="10" text-anchor="middle">Elevation(m)</text>
<text x="457.8" y="267.8" font-size="10">(b)Elevation statistics in southwest China</text>
<!-- chart legend -->
<rect x="598.9" y="1.6" width="85.6" height="12.6" fill="#e4e4e4"/>
<rect x="598.3" y="0.9" width="85.6" height="12.6" fill="#fff" stroke="#a8a8a8" stroke-width="0.6"/>
<rect x="600.3" y="2.2" width="19.8" height="9.8" fill="#3a5788"/>
<text x="623" y="9.8" font-size="7.4">Number of villages</text>
</svg>
</body></html>
